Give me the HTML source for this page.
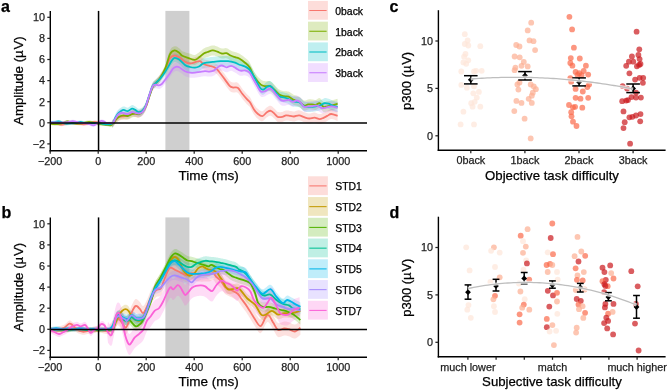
<!DOCTYPE html><html><head><meta charset="utf-8"><style>html,body{margin:0;padding:0;background:#fff;overflow:hidden;width:667px;height:390px;}svg{display:block;will-change:transform;}text{font-family:"Liberation Sans", sans-serif;stroke:currentColor;stroke-width:0.25px;}</style></head><body>
<svg width="667" height="390" viewBox="0 0 667 390">
<rect width="667" height="390" fill="#fff"/>
<rect x="165.40" y="10.90" width="24.00" height="139.90" fill="#cfcfcf"/>
<path d="M50.3,122.0 L50.9,122.0 L51.8,122.1 L52.8,122.1 L53.9,122.1 L55.0,122.2 L56.0,122.3 L56.8,122.4 L57.6,122.6 L58.5,122.8 L59.3,122.9 L60.2,123.1 L61.1,123.2 L62.0,123.2 L62.9,123.1 L63.8,123.0 L64.8,122.8 L65.8,122.5 L66.8,122.3 L67.7,122.1 L68.7,121.9 L69.6,121.8 L70.6,121.7 L71.5,121.7 L72.4,121.7 L73.2,121.8 L74.1,121.9 L75.0,121.9 L76.0,122.0 L76.9,122.1 L77.9,122.2 L78.9,122.3 L79.9,122.5 L80.9,122.6 L81.8,122.7 L82.7,122.8 L83.6,122.8 L84.6,122.8 L85.6,122.7 L86.4,122.6 L87.3,122.4 L88.1,122.2 L89.0,122.0 L89.9,121.7 L90.8,121.4 L91.7,121.0 L92.6,120.7 L93.5,120.4 L94.4,120.3 L95.3,120.3 L96.2,120.5 L97.2,120.7 L98.1,121.0 L99.0,121.3 L99.8,121.5 L100.7,121.8 L101.6,122.0 L102.5,122.3 L103.3,122.5 L104.2,122.7 L105.1,122.8 L106.1,122.7 L107.1,122.7 L108.1,122.6 L109.0,122.5 L109.9,122.4 L110.7,122.4 L111.5,122.3 L112.3,120.1 L113.0,119.7 L113.8,119.0 L114.5,118.0 L115.2,116.9 L116.0,116.0 L116.8,115.2 L117.7,114.6 L118.6,114.0 L119.5,113.5 L120.3,113.2 L121.1,113.1 L122.0,113.0 L122.9,112.9 L123.7,112.8 L124.7,112.7 L125.6,112.7 L126.6,112.5 L127.6,112.3 L128.5,111.9 L129.4,111.4 L130.3,110.8 L131.2,110.3 L132.0,110.0 L132.9,109.8 L133.7,109.8 L134.5,109.9 L135.3,110.0 L136.1,110.2 L136.9,110.5 L137.7,110.7 L138.5,110.7 L139.4,110.4 L140.4,110.0 L141.3,109.4 L142.3,108.5 L143.3,107.4 L144.3,106.0 L145.3,104.4 L146.2,102.5 L147.0,100.3 L147.8,97.7 L148.6,95.0 L149.4,92.5 L150.2,90.0 L151.1,87.5 L151.9,85.3 L152.6,83.5 L153.3,82.2 L153.8,81.6 L154.6,80.7 L155.3,79.9 L156.2,79.0 L157.1,78.0 L158.1,76.8 L159.2,75.5 L160.0,74.4 L160.9,73.1 L161.8,71.8 L162.8,70.4 L163.7,68.9 L164.6,67.4 L165.4,65.8 L166.4,63.5 L167.4,60.9 L168.2,58.2 L169.1,55.9 L170.0,54.1 L170.9,52.9 L171.8,52.1 L172.8,51.7 L173.7,51.4 L174.6,51.3 L175.5,51.3 L176.4,51.4 L177.3,51.8 L178.2,52.3 L179.2,52.8 L180.1,53.4 L181.1,54.2 L182.1,55.0 L183.1,55.8 L184.1,56.6 L185.0,57.1 L185.9,57.6 L186.7,57.9 L187.5,58.2 L188.3,58.4 L189.1,58.5 L190.0,58.5 L190.8,58.4 L191.7,58.2 L192.6,58.0 L193.5,57.7 L194.4,57.4 L195.2,57.1 L196.0,56.9 L196.9,56.6 L197.8,56.4 L198.5,56.2 L199.2,56.1 L200.0,56.2 L200.9,56.7 L201.8,57.6 L202.7,58.5 L203.8,59.2 L204.7,59.5 L205.6,59.8 L206.7,60.1 L207.7,60.3 L208.7,60.6 L209.6,60.8 L210.6,61.1 L211.6,61.4 L212.5,61.6 L213.4,62.0 L214.2,62.3 L215.1,62.8 L215.8,63.3 L216.6,63.9 L217.3,64.6 L218.0,65.4 L218.8,66.3 L219.5,67.3 L220.4,68.5 L221.2,69.6 L222.1,70.8 L223.1,72.0 L224.1,73.3 L225.0,74.6 L225.9,75.9 L226.9,77.3 L227.8,78.6 L228.8,79.8 L229.6,80.8 L230.5,81.6 L231.3,82.0 L232.1,82.3 L233.0,82.5 L233.9,82.5 L234.8,82.4 L235.8,82.3 L236.7,82.3 L237.7,82.7 L238.6,83.6 L239.5,84.7 L240.5,86.1 L241.4,87.5 L242.3,88.8 L243.2,90.0 L244.2,91.1 L245.2,92.2 L246.1,93.3 L246.9,94.2 L247.8,95.0 L248.5,95.7 L249.2,96.3 L250.0,97.3 L250.9,98.8 L251.8,100.7 L252.8,102.5 L253.8,104.2 L254.8,105.6 L255.7,106.8 L256.7,107.9 L257.7,108.8 L258.6,109.5 L259.5,110.2 L260.4,110.8 L261.4,111.2 L262.3,111.2 L263.2,110.8 L264.2,110.0 L265.1,109.0 L266.0,108.0 L266.9,107.3 L267.9,106.7 L268.9,106.1 L269.8,105.8 L270.8,105.8 L271.8,106.2 L272.8,107.0 L273.7,107.9 L274.6,108.8 L275.4,109.6 L276.1,110.5 L276.8,111.3 L277.7,111.9 L278.5,112.1 L279.5,112.2 L280.5,112.2 L281.4,112.0 L282.3,111.9 L283.3,111.6 L284.2,111.1 L285.1,110.7 L286.0,110.4 L286.8,110.4 L287.6,110.5 L288.5,110.6 L289.3,110.8 L290.1,110.9 L291.1,111.1 L292.0,111.3 L292.9,111.5 L294.0,111.5 L294.8,111.4 L295.6,111.1 L296.5,110.8 L297.4,110.5 L298.2,110.3 L299.1,110.3 L299.9,110.4 L300.8,110.7 L301.6,111.1 L302.5,111.5 L303.3,111.9 L304.2,112.2 L305.1,112.5 L305.9,112.8 L306.8,113.0 L307.7,113.3 L308.5,113.4 L309.4,113.5 L310.3,113.4 L311.1,113.3 L312.0,113.0 L312.8,112.8 L313.7,112.6 L314.5,112.6 L315.4,112.7 L316.2,113.0 L317.1,113.4 L318.0,113.7 L318.8,114.0 L319.6,114.1 L320.7,114.0 L321.6,113.7 L322.6,113.2 L323.5,112.8 L324.5,112.4 L325.4,111.9 L326.3,111.4 L327.3,110.9 L328.2,110.3 L329.1,109.7 L330.0,109.2 L331.2,109.0 L332.0,109.1 L333.0,109.3 L334.1,109.6 L335.2,110.0 L336.2,110.4 L337.0,110.7 L337.6,110.9 L337.6,120.9 L337.0,120.7 L336.2,120.4 L335.2,120.0 L334.1,119.6 L333.0,119.3 L332.0,119.1 L331.2,119.0 L330.0,119.2 L329.1,119.7 L328.2,120.3 L327.3,120.9 L326.3,121.4 L325.4,121.9 L324.5,122.4 L323.5,122.8 L322.6,123.2 L321.6,123.7 L320.7,124.0 L319.6,124.1 L318.8,124.0 L318.0,123.7 L317.1,123.4 L316.2,123.0 L315.4,122.7 L314.5,122.6 L313.7,122.6 L312.8,122.8 L312.0,123.0 L311.1,123.3 L310.3,123.4 L309.4,123.5 L308.5,123.4 L307.7,123.3 L306.8,123.0 L305.9,122.8 L305.1,122.5 L304.2,122.2 L303.3,121.9 L302.5,121.5 L301.6,121.1 L300.8,120.7 L299.9,120.4 L299.1,120.3 L298.2,120.3 L297.4,120.5 L296.5,120.8 L295.6,121.1 L294.8,121.4 L294.0,121.5 L292.9,121.5 L292.0,121.3 L291.1,121.1 L290.1,120.9 L289.3,120.8 L288.5,120.6 L287.6,120.5 L286.8,120.4 L286.0,120.4 L285.1,120.7 L284.2,121.1 L283.3,121.6 L282.3,121.9 L281.4,122.0 L280.5,122.2 L279.5,122.2 L278.5,122.1 L277.7,121.9 L276.8,121.3 L276.1,120.5 L275.4,119.6 L274.6,118.8 L273.7,117.9 L272.8,117.0 L271.8,116.2 L270.8,115.8 L269.8,115.8 L268.9,116.1 L267.9,116.7 L266.9,117.3 L266.0,118.0 L265.1,119.0 L264.2,120.0 L263.2,120.8 L262.3,121.2 L261.4,121.2 L260.4,120.8 L259.5,120.2 L258.6,119.5 L257.7,118.8 L256.7,117.9 L255.7,116.8 L254.8,115.6 L253.8,114.2 L252.8,112.5 L251.8,110.7 L250.9,108.8 L250.0,107.3 L249.2,106.3 L248.5,105.7 L247.8,105.0 L246.9,104.2 L246.1,103.3 L245.2,102.2 L244.2,101.1 L243.2,100.0 L242.3,98.8 L241.4,97.5 L240.5,96.1 L239.5,94.7 L238.6,93.6 L237.7,92.7 L236.7,92.3 L235.8,92.3 L234.8,92.4 L233.9,92.5 L233.0,92.5 L232.1,92.3 L231.3,92.0 L230.5,91.6 L229.6,90.8 L228.8,89.8 L227.8,88.6 L226.9,87.3 L225.9,85.9 L225.0,84.6 L224.1,83.3 L223.1,82.0 L222.1,80.8 L221.2,79.6 L220.4,78.5 L219.5,77.3 L218.8,76.3 L218.0,75.4 L217.3,74.6 L216.6,73.9 L215.8,73.3 L215.1,72.8 L214.2,72.3 L213.4,72.0 L212.5,71.6 L211.6,71.4 L210.6,71.1 L209.6,70.8 L208.7,70.6 L207.7,70.3 L206.7,70.1 L205.6,69.8 L204.7,69.5 L203.8,69.2 L202.7,68.5 L201.8,67.6 L200.9,66.7 L200.0,66.2 L199.2,66.1 L198.5,66.2 L197.8,66.4 L196.9,66.6 L196.0,66.9 L195.2,67.1 L194.4,67.4 L193.5,67.7 L192.6,68.0 L191.7,68.2 L190.8,68.4 L190.0,68.5 L189.1,68.4 L188.3,68.2 L187.5,68.0 L186.7,67.6 L185.9,67.2 L185.0,66.7 L184.1,66.0 L183.1,65.1 L182.1,64.2 L181.1,63.3 L180.1,62.4 L179.2,61.8 L178.2,61.1 L177.3,60.5 L176.4,60.1 L175.5,59.8 L174.6,59.7 L173.7,59.8 L172.8,59.9 L171.8,60.3 L170.9,61.0 L170.0,62.1 L169.1,63.8 L168.2,66.1 L167.4,68.6 L166.4,71.1 L165.4,73.4 L164.6,74.8 L163.7,76.2 L162.8,77.6 L161.8,79.0 L160.9,80.2 L160.0,81.4 L159.2,82.5 L158.1,83.8 L157.1,85.0 L156.2,86.0 L155.3,86.9 L154.6,87.7 L153.8,88.6 L153.3,89.2 L152.6,90.5 L151.9,92.3 L151.1,94.5 L150.2,97.0 L149.4,99.5 L148.6,102.0 L147.8,104.7 L147.0,107.3 L146.2,109.5 L145.3,111.4 L144.3,113.0 L143.3,114.4 L142.3,115.5 L141.3,116.4 L140.4,117.0 L139.4,117.4 L138.5,117.7 L137.7,117.7 L136.9,117.5 L136.1,117.2 L135.3,117.0 L134.5,116.9 L133.7,116.8 L132.9,116.8 L132.0,117.0 L131.2,117.3 L130.3,117.8 L129.4,118.4 L128.5,118.9 L127.6,119.3 L126.6,119.5 L125.6,119.7 L124.7,119.7 L123.7,119.8 L122.9,119.9 L122.0,120.0 L121.1,120.1 L120.3,120.2 L119.5,120.5 L118.6,121.0 L117.7,121.6 L116.8,122.2 L116.0,123.0 L115.2,123.9 L114.5,125.0 L113.8,126.0 L113.0,126.7 L112.3,127.1 L111.5,125.3 L110.7,125.4 L109.9,125.4 L109.0,125.5 L108.1,125.6 L107.1,125.7 L106.1,125.7 L105.1,125.8 L104.2,125.7 L103.3,125.5 L102.5,125.3 L101.6,125.0 L100.7,124.8 L99.8,124.5 L99.0,124.3 L98.1,124.0 L97.2,123.7 L96.2,123.5 L95.3,123.3 L94.4,123.3 L93.5,123.4 L92.6,123.7 L91.7,124.0 L90.8,124.4 L89.9,124.7 L89.0,125.0 L88.1,125.2 L87.3,125.4 L86.4,125.6 L85.6,125.7 L84.6,125.8 L83.6,125.8 L82.7,125.8 L81.8,125.7 L80.9,125.6 L79.9,125.5 L78.9,125.3 L77.9,125.2 L76.9,125.1 L76.0,125.0 L75.0,124.9 L74.1,124.9 L73.2,124.8 L72.4,124.7 L71.5,124.7 L70.6,124.7 L69.6,124.8 L68.7,124.9 L67.7,125.1 L66.8,125.3 L65.8,125.5 L64.8,125.8 L63.8,126.0 L62.9,126.1 L62.0,126.2 L61.1,126.2 L60.2,126.1 L59.3,125.9 L58.5,125.8 L57.6,125.6 L56.8,125.4 L56.0,125.3 L55.0,125.2 L53.9,125.1 L52.8,125.1 L51.8,125.1 L50.9,125.0 L50.3,125.0 Z" fill="#F8766D" fill-opacity="0.22" stroke="none"/>
<path d="M50.3,122.0 L50.8,122.1 L51.6,122.3 L52.5,122.5 L53.4,122.6 L54.5,122.7 L55.3,122.7 L56.2,122.6 L57.1,122.6 L58.1,122.5 L59.1,122.3 L60.1,122.2 L61.0,122.0 L61.9,121.8 L62.9,121.4 L63.8,121.1 L64.8,120.7 L65.7,120.4 L66.6,120.1 L67.4,120.0 L68.4,120.1 L69.4,120.4 L70.3,120.8 L71.1,121.2 L72.0,121.5 L72.8,121.7 L73.6,121.8 L74.4,122.0 L75.2,122.1 L76.1,122.1 L77.0,122.1 L77.9,122.1 L78.9,122.1 L79.9,122.0 L80.9,121.9 L82.0,121.8 L82.8,121.7 L83.7,121.4 L84.6,121.2 L85.6,121.0 L86.5,120.7 L87.4,120.5 L88.2,120.4 L89.0,120.3 L89.9,120.3 L90.8,120.5 L91.6,120.7 L92.3,121.0 L93.1,121.3 L94.0,121.5 L94.9,121.7 L95.9,121.9 L96.9,122.2 L97.9,122.4 L98.9,122.6 L99.8,122.7 L100.7,122.8 L101.6,122.8 L102.4,122.9 L103.3,122.9 L104.1,122.9 L105.0,123.0 L105.9,123.1 L106.9,123.3 L107.9,123.5 L108.9,123.7 L109.8,123.8 L110.5,123.8 L111.5,123.5 L112.2,120.9 L113.0,120.0 L113.7,119.1 L114.4,118.1 L115.2,117.0 L116.0,116.0 L116.8,115.1 L117.7,114.3 L118.6,113.6 L119.5,113.0 L120.3,112.6 L121.1,112.3 L122.0,112.1 L122.9,112.0 L123.7,111.9 L124.7,112.0 L125.6,112.2 L126.6,112.5 L127.6,112.5 L128.5,112.3 L129.4,111.9 L130.3,111.4 L131.2,110.9 L132.0,110.6 L132.9,110.3 L133.7,110.1 L134.5,110.0 L135.3,110.0 L136.1,110.1 L136.9,110.3 L137.7,110.5 L138.5,110.5 L139.4,110.2 L140.4,109.8 L141.3,109.2 L142.3,108.3 L143.3,107.1 L144.3,105.6 L145.3,103.9 L146.2,102.0 L147.0,99.8 L147.8,97.4 L148.6,94.9 L149.4,92.5 L150.2,90.1 L151.1,87.6 L151.9,85.3 L152.6,83.5 L153.3,82.2 L153.8,81.5 L154.6,80.7 L155.3,80.0 L156.2,79.3 L157.1,78.5 L158.1,77.5 L159.2,76.1 L160.0,74.8 L160.9,73.3 L161.8,71.7 L162.8,69.9 L163.7,68.1 L164.6,66.2 L165.4,64.3 L166.4,61.5 L167.4,58.4 L168.2,55.2 L169.1,52.4 L170.0,50.2 L170.9,48.7 L171.8,47.6 L172.8,46.9 L173.7,46.4 L174.6,46.2 L175.5,46.2 L176.5,46.5 L177.5,47.1 L178.4,47.7 L179.2,48.2 L180.0,48.9 L180.7,49.7 L181.3,50.5 L182.3,51.2 L183.0,51.5 L183.8,51.8 L184.7,52.1 L185.7,52.4 L186.6,52.7 L187.6,52.9 L188.5,53.2 L189.4,53.5 L190.3,53.8 L191.2,54.1 L192.1,54.5 L193.0,54.7 L193.8,54.9 L194.6,54.9 L195.6,54.7 L196.5,54.2 L197.4,53.6 L198.3,53.0 L199.2,52.3 L200.1,51.6 L201.1,50.8 L202.0,49.9 L202.9,49.1 L203.8,48.5 L204.8,48.0 L205.6,47.6 L206.5,47.3 L207.5,47.0 L208.3,46.7 L209.1,46.4 L210.0,46.0 L211.0,45.7 L211.9,45.5 L212.7,45.4 L213.7,45.4 L214.6,45.6 L215.5,45.9 L216.4,46.3 L217.3,46.6 L218.2,47.0 L219.1,47.4 L220.1,47.9 L221.0,48.2 L221.9,48.5 L222.8,48.5 L223.7,48.4 L224.7,48.2 L225.6,48.1 L226.5,48.2 L227.4,48.6 L228.4,49.1 L229.3,49.7 L230.3,50.3 L231.2,50.8 L232.1,51.2 L233.1,51.5 L234.0,51.8 L234.9,52.0 L235.8,52.3 L236.8,52.6 L237.7,52.9 L238.6,53.3 L239.6,53.8 L240.4,54.3 L241.3,54.9 L242.2,55.6 L243.2,56.3 L244.1,57.0 L245.0,57.7 L246.0,58.5 L246.9,59.2 L247.8,60.1 L248.7,61.0 L249.6,62.3 L250.5,63.9 L251.4,65.9 L252.4,68.0 L253.3,70.1 L254.4,72.0 L255.2,73.2 L256.2,74.5 L257.1,75.7 L258.1,76.9 L259.1,77.9 L260.0,78.8 L260.8,79.6 L261.8,80.3 L262.8,80.7 L263.6,81.0 L264.5,81.1 L265.4,81.2 L266.3,81.2 L267.2,81.1 L268.2,81.0 L269.1,81.0 L270.0,81.2 L270.9,81.7 L271.8,82.4 L272.8,83.2 L273.7,84.1 L274.6,85.0 L275.5,85.9 L276.4,86.9 L277.4,87.9 L278.3,88.9 L279.2,89.6 L280.1,90.1 L281.0,90.5 L282.0,90.8 L282.9,91.0 L283.8,91.2 L284.7,91.3 L285.6,91.3 L286.6,91.3 L287.5,91.4 L288.5,91.6 L289.4,92.0 L290.3,92.5 L291.2,93.2 L292.2,93.8 L293.1,94.4 L294.0,94.9 L294.9,95.3 L295.7,95.6 L296.6,95.8 L297.4,96.1 L298.3,96.4 L299.1,96.8 L300.0,97.4 L300.8,98.1 L301.7,98.9 L302.6,99.6 L303.4,100.2 L304.2,100.6 L305.3,100.6 L306.2,100.2 L307.2,99.7 L308.1,99.4 L309.1,99.3 L310.0,99.3 L310.9,99.3 L311.9,99.4 L312.9,99.6 L313.9,99.8 L314.8,100.0 L315.8,100.0 L316.8,99.6 L317.7,98.8 L318.6,98.2 L319.6,98.1 L320.6,98.8 L321.6,99.9 L322.5,101.1 L323.5,101.9 L324.5,102.1 L325.4,101.9 L326.3,101.6 L327.3,101.3 L328.2,101.2 L329.1,101.0 L330.0,100.9 L331.2,100.6 L332.0,100.4 L333.0,100.1 L334.1,99.8 L335.2,99.4 L336.2,99.1 L337.0,98.9 L337.6,98.7 L337.6,108.7 L337.0,108.9 L336.2,109.1 L335.2,109.4 L334.1,109.8 L333.0,110.1 L332.0,110.4 L331.2,110.6 L330.0,110.9 L329.1,111.0 L328.2,111.2 L327.3,111.3 L326.3,111.6 L325.4,111.9 L324.5,112.1 L323.5,111.9 L322.5,111.1 L321.6,109.9 L320.6,108.8 L319.6,108.1 L318.6,108.2 L317.7,108.8 L316.8,109.6 L315.8,110.0 L314.8,110.0 L313.9,109.8 L312.9,109.6 L311.9,109.4 L310.9,109.3 L310.0,109.3 L309.1,109.3 L308.1,109.4 L307.2,109.7 L306.2,110.2 L305.3,110.6 L304.2,110.6 L303.4,110.2 L302.6,109.6 L301.7,108.9 L300.8,108.1 L300.0,107.4 L299.1,106.8 L298.3,106.4 L297.4,106.1 L296.6,105.8 L295.7,105.6 L294.9,105.3 L294.0,104.9 L293.1,104.4 L292.2,103.8 L291.2,103.2 L290.3,102.5 L289.4,102.0 L288.5,101.6 L287.5,101.4 L286.6,101.3 L285.6,101.3 L284.7,101.3 L283.8,101.2 L282.9,101.0 L282.0,100.8 L281.0,100.5 L280.1,100.1 L279.2,99.6 L278.3,98.9 L277.4,97.9 L276.4,96.9 L275.5,95.9 L274.6,95.0 L273.7,94.1 L272.8,93.2 L271.8,92.4 L270.9,91.7 L270.0,91.2 L269.1,91.0 L268.2,91.0 L267.2,91.1 L266.3,91.2 L265.4,91.2 L264.5,91.1 L263.6,91.0 L262.8,90.7 L261.8,90.3 L260.8,89.6 L260.0,88.8 L259.1,87.9 L258.1,86.9 L257.1,85.7 L256.2,84.5 L255.2,83.2 L254.4,82.0 L253.3,80.1 L252.4,78.0 L251.4,75.9 L250.5,73.9 L249.6,72.3 L248.7,71.0 L247.8,70.1 L246.9,69.2 L246.0,68.5 L245.0,67.7 L244.1,67.0 L243.2,66.3 L242.2,65.6 L241.3,64.9 L240.4,64.3 L239.6,63.8 L238.6,63.3 L237.7,62.9 L236.8,62.6 L235.8,62.3 L234.9,62.0 L234.0,61.8 L233.1,61.5 L232.1,61.2 L231.2,60.8 L230.3,60.3 L229.3,59.7 L228.4,59.1 L227.4,58.6 L226.5,58.2 L225.6,58.1 L224.7,58.2 L223.7,58.4 L222.8,58.5 L221.9,58.5 L221.0,58.2 L220.1,57.9 L219.1,57.4 L218.2,57.0 L217.3,56.6 L216.4,56.3 L215.5,55.9 L214.6,55.6 L213.7,55.4 L212.7,55.4 L211.9,55.5 L211.0,55.7 L210.0,56.0 L209.1,56.4 L208.3,56.7 L207.5,57.0 L206.5,57.3 L205.6,57.6 L204.8,58.0 L203.8,58.5 L202.9,59.1 L202.0,59.9 L201.1,60.8 L200.1,61.6 L199.2,62.3 L198.3,63.0 L197.4,63.6 L196.5,64.2 L195.6,64.7 L194.6,64.9 L193.8,64.9 L193.0,64.7 L192.1,64.5 L191.2,64.1 L190.3,63.8 L189.4,63.4 L188.5,63.0 L187.6,62.7 L186.6,62.3 L185.7,62.0 L184.7,61.6 L183.8,61.2 L183.0,60.8 L182.3,60.4 L181.3,59.6 L180.7,58.8 L180.0,57.9 L179.2,57.2 L178.4,56.5 L177.5,55.8 L176.5,55.2 L175.5,54.7 L174.6,54.6 L173.7,54.8 L172.8,55.1 L171.8,55.8 L170.9,56.7 L170.0,58.2 L169.1,60.3 L168.2,63.1 L167.4,66.1 L166.4,69.1 L165.4,71.9 L164.6,73.7 L163.7,75.4 L162.8,77.2 L161.8,78.9 L160.9,80.4 L160.0,81.8 L159.2,83.1 L158.1,84.5 L157.1,85.5 L156.2,86.3 L155.3,87.0 L154.6,87.7 L153.8,88.5 L153.3,89.2 L152.6,90.5 L151.9,92.3 L151.1,94.6 L150.2,97.1 L149.4,99.5 L148.6,101.9 L147.8,104.4 L147.0,106.8 L146.2,109.0 L145.3,110.9 L144.3,112.6 L143.3,114.1 L142.3,115.3 L141.3,116.2 L140.4,116.8 L139.4,117.2 L138.5,117.5 L137.7,117.5 L136.9,117.3 L136.1,117.1 L135.3,117.0 L134.5,117.0 L133.7,117.1 L132.9,117.3 L132.0,117.6 L131.2,117.9 L130.3,118.4 L129.4,118.9 L128.5,119.3 L127.6,119.5 L126.6,119.5 L125.6,119.2 L124.7,119.0 L123.7,118.9 L122.9,119.0 L122.0,119.1 L121.1,119.3 L120.3,119.6 L119.5,120.0 L118.6,120.6 L117.7,121.3 L116.8,122.1 L116.0,123.0 L115.2,124.0 L114.4,125.1 L113.7,126.1 L113.0,127.0 L112.2,127.9 L111.5,126.5 L110.5,126.8 L109.8,126.8 L108.9,126.7 L107.9,126.5 L106.9,126.3 L105.9,126.1 L105.0,126.0 L104.1,125.9 L103.3,125.9 L102.4,125.9 L101.6,125.8 L100.7,125.8 L99.8,125.7 L98.9,125.6 L97.9,125.4 L96.9,125.2 L95.9,124.9 L94.9,124.7 L94.0,124.5 L93.1,124.3 L92.3,124.0 L91.6,123.7 L90.8,123.5 L89.9,123.3 L89.0,123.3 L88.2,123.4 L87.4,123.5 L86.5,123.7 L85.6,124.0 L84.6,124.2 L83.7,124.4 L82.8,124.7 L82.0,124.8 L80.9,124.9 L79.9,125.0 L78.9,125.1 L77.9,125.1 L77.0,125.1 L76.1,125.1 L75.2,125.1 L74.4,125.0 L73.6,124.8 L72.8,124.7 L72.0,124.5 L71.1,124.2 L70.3,123.8 L69.4,123.4 L68.4,123.1 L67.4,123.0 L66.6,123.1 L65.7,123.4 L64.8,123.7 L63.8,124.1 L62.9,124.4 L61.9,124.8 L61.0,125.0 L60.1,125.2 L59.1,125.3 L58.1,125.5 L57.1,125.6 L56.2,125.6 L55.3,125.7 L54.5,125.7 L53.4,125.6 L52.5,125.5 L51.6,125.3 L50.8,125.1 L50.3,125.0 Z" fill="#7CAE00" fill-opacity="0.22" stroke="none"/>
<path d="M50.3,121.0 L50.9,121.0 L51.8,120.9 L52.9,120.8 L54.0,120.7 L54.9,120.5 L55.8,120.3 L56.7,120.1 L57.7,120.0 L58.8,120.0 L59.7,120.2 L60.6,120.5 L61.6,120.9 L62.6,121.3 L63.5,121.7 L64.5,122.0 L65.3,122.2 L66.4,122.3 L67.3,122.3 L68.2,122.2 L69.1,122.1 L70.0,122.0 L70.8,122.0 L71.6,121.9 L72.5,121.9 L73.3,121.8 L74.1,121.7 L75.0,121.6 L75.9,121.4 L76.8,121.2 L77.7,121.0 L78.6,120.7 L79.5,120.6 L80.4,120.5 L81.3,120.6 L82.2,120.7 L83.0,121.0 L83.9,121.2 L84.9,121.4 L85.8,121.6 L86.6,121.7 L87.5,121.7 L88.4,121.8 L89.3,121.8 L90.2,121.8 L91.1,121.8 L92.0,121.8 L93.0,121.8 L93.9,121.7 L95.0,121.7 L96.0,121.6 L97.0,121.6 L97.9,121.6 L98.8,121.6 L99.8,121.7 L100.6,121.9 L101.5,122.1 L102.3,122.4 L103.1,122.6 L104.0,122.7 L104.9,122.8 L105.9,122.9 L106.9,122.9 L107.8,122.9 L108.7,122.9 L109.5,122.8 L110.5,122.7 L111.4,122.5 L112.2,120.2 L113.0,119.5 L113.9,117.9 L114.7,115.9 L115.5,114.0 L116.3,112.5 L117.2,111.1 L118.0,110.0 L118.8,109.2 L119.6,108.6 L120.5,108.0 L121.2,107.5 L122.0,107.0 L122.8,106.6 L123.7,106.4 L124.6,106.6 L125.6,107.1 L126.6,107.6 L127.6,107.7 L128.5,107.4 L129.4,106.8 L130.3,106.0 L131.2,105.4 L132.0,105.1 L132.9,105.1 L133.7,105.4 L134.5,105.9 L135.3,106.4 L136.1,107.0 L136.9,107.7 L137.7,108.4 L138.5,108.7 L139.4,108.7 L140.4,108.5 L141.4,108.0 L142.3,107.4 L143.1,106.7 L143.9,105.8 L144.7,104.6 L145.5,102.9 L146.4,100.5 L147.5,97.5 L148.5,94.3 L149.4,91.5 L150.2,89.0 L151.0,86.5 L151.8,84.3 L152.6,82.5 L153.5,81.3 L154.3,80.5 L155.2,79.9 L156.2,79.1 L157.0,78.3 L157.8,77.5 L158.7,76.7 L159.6,75.8 L160.4,74.8 L161.2,73.7 L162.1,72.6 L162.9,71.5 L163.8,70.2 L164.6,69.0 L165.5,67.6 L166.4,66.0 L167.3,64.5 L168.1,63.0 L168.9,61.7 L169.9,59.7 L170.8,58.1 L171.7,56.6 L172.6,55.3 L173.5,54.2 L174.6,53.6 L175.4,53.5 L176.3,53.7 L177.2,54.0 L178.2,54.5 L179.2,55.1 L180.1,55.8 L181.1,56.7 L182.1,57.7 L183.1,58.7 L184.1,59.6 L185.0,60.2 L185.9,60.8 L186.7,61.1 L187.6,61.4 L188.4,61.6 L189.2,61.8 L190.0,62.0 L190.8,62.2 L191.7,62.4 L192.6,62.5 L193.4,62.6 L194.2,62.6 L195.0,62.6 L195.9,62.5 L196.7,62.4 L197.4,62.2 L198.2,61.9 L199.0,61.5 L199.8,61.0 L200.6,60.3 L201.4,59.6 L202.2,59.0 L203.0,58.5 L203.8,58.1 L204.6,58.0 L205.4,57.8 L206.5,57.7 L207.2,57.6 L208.0,57.5 L208.9,57.4 L209.8,57.2 L210.7,57.1 L211.7,57.0 L212.7,56.9 L213.6,56.8 L214.5,56.7 L215.5,56.6 L216.5,56.5 L217.4,56.4 L218.4,56.3 L219.4,56.3 L220.4,56.2 L221.4,56.2 L222.4,56.1 L223.4,56.1 L224.3,56.1 L225.3,56.1 L226.3,56.1 L227.2,56.1 L228.1,56.2 L229.1,56.3 L230.0,56.4 L230.8,56.6 L231.7,56.7 L232.5,56.9 L233.3,57.1 L234.2,57.4 L235.1,57.7 L236.0,58.1 L236.9,58.5 L237.8,58.9 L238.7,59.3 L239.6,59.7 L240.4,60.0 L241.4,60.3 L242.4,60.6 L243.2,60.8 L244.1,61.1 L245.0,61.5 L245.9,61.9 L246.8,62.4 L247.7,62.9 L248.7,63.6 L249.6,64.6 L250.5,65.8 L251.5,67.3 L252.4,68.9 L253.4,70.7 L254.4,72.5 L255.3,74.2 L256.3,76.0 L257.3,78.0 L258.3,79.8 L259.2,81.4 L260.0,82.7 L260.9,83.9 L261.7,84.5 L262.3,84.7 L263.1,84.7 L264.0,84.3 L265.0,83.5 L265.9,82.6 L266.9,81.9 L267.9,81.5 L268.9,81.1 L269.8,81.0 L270.8,81.2 L271.7,82.0 L272.7,83.1 L273.6,84.5 L274.6,85.8 L275.5,86.9 L276.4,88.1 L277.3,89.3 L278.3,90.4 L279.2,91.2 L280.1,91.7 L281.0,92.0 L282.0,92.1 L282.9,92.2 L283.8,92.4 L284.8,92.7 L285.7,93.0 L286.7,93.3 L287.6,93.6 L288.5,94.0 L289.4,94.5 L290.3,95.1 L291.1,95.6 L292.0,96.0 L292.8,96.2 L293.6,96.4 L294.4,96.5 L295.2,96.7 L296.0,96.8 L296.8,96.9 L297.6,97.0 L298.4,97.1 L299.2,97.3 L300.0,97.6 L300.8,98.2 L301.6,99.0 L302.4,99.9 L303.3,100.7 L304.2,101.3 L305.0,101.6 L305.8,101.8 L306.7,101.9 L307.5,101.9 L308.5,101.9 L309.4,101.9 L310.3,101.9 L311.2,101.8 L312.1,101.8 L313.1,101.7 L314.0,101.6 L314.9,101.4 L315.8,101.3 L316.7,101.1 L317.6,100.9 L318.5,100.7 L319.3,100.5 L320.1,100.3 L320.9,100.0 L321.9,99.5 L322.9,98.9 L323.8,98.4 L324.7,98.1 L325.7,98.0 L326.7,98.2 L327.6,98.4 L328.6,98.7 L329.5,99.1 L330.4,99.6 L331.4,100.1 L332.4,100.6 L333.2,100.9 L334.2,101.1 L335.2,101.4 L336.2,101.6 L337.0,101.8 L337.6,101.9 L337.6,111.9 L337.0,111.8 L336.2,111.6 L335.2,111.4 L334.2,111.1 L333.2,110.9 L332.4,110.6 L331.4,110.1 L330.4,109.6 L329.5,109.1 L328.6,108.7 L327.6,108.4 L326.7,108.2 L325.7,108.0 L324.7,108.1 L323.8,108.4 L322.9,108.9 L321.9,109.5 L320.9,110.0 L320.1,110.3 L319.3,110.5 L318.5,110.7 L317.6,110.9 L316.7,111.1 L315.8,111.3 L314.9,111.4 L314.0,111.6 L313.1,111.7 L312.1,111.8 L311.2,111.8 L310.3,111.9 L309.4,111.9 L308.5,111.9 L307.5,111.9 L306.7,111.9 L305.8,111.8 L305.0,111.6 L304.2,111.3 L303.3,110.7 L302.4,109.9 L301.6,109.0 L300.8,108.2 L300.0,107.6 L299.2,107.3 L298.4,107.1 L297.6,107.0 L296.8,106.9 L296.0,106.8 L295.2,106.7 L294.4,106.5 L293.6,106.4 L292.8,106.2 L292.0,106.0 L291.1,105.6 L290.3,105.1 L289.4,104.5 L288.5,104.0 L287.6,103.6 L286.7,103.3 L285.7,103.0 L284.8,102.7 L283.8,102.4 L282.9,102.2 L282.0,102.1 L281.0,102.0 L280.1,101.7 L279.2,101.2 L278.3,100.4 L277.3,99.3 L276.4,98.1 L275.5,96.9 L274.6,95.8 L273.6,94.5 L272.7,93.1 L271.7,92.0 L270.8,91.2 L269.8,91.0 L268.9,91.1 L267.9,91.5 L266.9,91.9 L265.9,92.6 L265.0,93.5 L264.0,94.3 L263.1,94.7 L262.3,94.7 L261.7,94.5 L260.9,93.9 L260.0,92.7 L259.2,91.4 L258.3,89.8 L257.3,88.0 L256.3,86.0 L255.3,84.2 L254.4,82.5 L253.4,80.7 L252.4,78.9 L251.5,77.3 L250.5,75.8 L249.6,74.6 L248.7,73.6 L247.7,72.9 L246.8,72.4 L245.9,71.9 L245.0,71.5 L244.1,71.1 L243.2,70.8 L242.4,70.6 L241.4,70.3 L240.4,70.0 L239.6,69.7 L238.7,69.3 L237.8,68.9 L236.9,68.5 L236.0,68.1 L235.1,67.7 L234.2,67.4 L233.3,67.1 L232.5,66.9 L231.7,66.7 L230.8,66.6 L230.0,66.4 L229.1,66.3 L228.1,66.2 L227.2,66.1 L226.3,66.1 L225.3,66.1 L224.3,66.1 L223.4,66.1 L222.4,66.1 L221.4,66.2 L220.4,66.2 L219.4,66.3 L218.4,66.3 L217.4,66.4 L216.5,66.5 L215.5,66.6 L214.5,66.7 L213.6,66.8 L212.7,66.9 L211.7,67.0 L210.7,67.1 L209.8,67.2 L208.9,67.4 L208.0,67.5 L207.2,67.6 L206.5,67.7 L205.4,67.8 L204.6,68.0 L203.8,68.1 L203.0,68.5 L202.2,69.0 L201.4,69.6 L200.6,70.3 L199.8,71.0 L199.0,71.5 L198.2,71.9 L197.4,72.2 L196.7,72.4 L195.9,72.5 L195.0,72.6 L194.2,72.6 L193.4,72.6 L192.6,72.5 L191.7,72.4 L190.8,72.2 L190.0,72.0 L189.2,71.7 L188.4,71.5 L187.6,71.2 L186.7,70.8 L185.9,70.3 L185.0,69.8 L184.1,69.0 L183.1,68.0 L182.1,66.9 L181.1,65.8 L180.1,64.8 L179.2,64.1 L178.2,63.3 L177.2,62.8 L176.3,62.3 L175.4,62.1 L174.6,62.0 L173.5,62.5 L172.6,63.5 L171.7,64.8 L170.8,66.1 L169.9,67.7 L168.9,69.5 L168.1,70.8 L167.3,72.2 L166.4,73.7 L165.5,75.1 L164.6,76.4 L163.8,77.6 L162.9,78.8 L162.1,79.8 L161.2,80.8 L160.4,81.8 L159.6,82.8 L158.7,83.7 L157.8,84.5 L157.0,85.3 L156.2,86.1 L155.2,86.9 L154.3,87.5 L153.5,88.3 L152.6,89.5 L151.8,91.3 L151.0,93.5 L150.2,96.0 L149.4,98.5 L148.5,101.3 L147.5,104.5 L146.4,107.5 L145.5,109.9 L144.7,111.6 L143.9,112.8 L143.1,113.7 L142.3,114.4 L141.4,115.0 L140.4,115.5 L139.4,115.7 L138.5,115.7 L137.7,115.4 L136.9,114.7 L136.1,114.0 L135.3,113.4 L134.5,112.9 L133.7,112.4 L132.9,112.1 L132.0,112.1 L131.2,112.4 L130.3,113.0 L129.4,113.8 L128.5,114.4 L127.6,114.7 L126.6,114.6 L125.6,114.1 L124.6,113.6 L123.7,113.4 L122.8,113.6 L122.0,114.0 L121.2,114.5 L120.5,115.0 L119.6,115.6 L118.8,116.2 L118.0,117.0 L117.2,118.1 L116.3,119.5 L115.5,121.0 L114.7,122.9 L113.9,124.9 L113.0,126.5 L112.2,127.2 L111.4,125.5 L110.5,125.7 L109.5,125.8 L108.7,125.9 L107.8,125.9 L106.9,125.9 L105.9,125.9 L104.9,125.8 L104.0,125.7 L103.1,125.6 L102.3,125.4 L101.5,125.1 L100.6,124.9 L99.8,124.7 L98.8,124.6 L97.9,124.6 L97.0,124.6 L96.0,124.6 L95.0,124.7 L93.9,124.7 L93.0,124.8 L92.0,124.8 L91.1,124.8 L90.2,124.8 L89.3,124.8 L88.4,124.8 L87.5,124.7 L86.6,124.7 L85.8,124.6 L84.9,124.4 L83.9,124.2 L83.0,124.0 L82.2,123.7 L81.3,123.6 L80.4,123.5 L79.5,123.6 L78.6,123.7 L77.7,124.0 L76.8,124.2 L75.9,124.4 L75.0,124.6 L74.1,124.7 L73.3,124.8 L72.5,124.9 L71.6,124.9 L70.8,125.0 L70.0,125.0 L69.1,125.1 L68.2,125.2 L67.3,125.3 L66.4,125.3 L65.3,125.2 L64.5,125.0 L63.5,124.7 L62.6,124.3 L61.6,123.9 L60.6,123.5 L59.7,123.2 L58.8,123.0 L57.7,123.0 L56.7,123.1 L55.8,123.3 L54.9,123.5 L54.0,123.7 L52.9,123.8 L51.8,123.9 L50.9,124.0 L50.3,124.0 Z" fill="#00BFC4" fill-opacity="0.22" stroke="none"/>
<path d="M50.3,120.8 L50.9,120.8 L51.8,120.9 L52.8,120.9 L53.9,120.9 L55.0,121.0 L56.0,121.0 L56.9,121.0 L57.7,121.1 L58.6,121.1 L59.5,121.1 L60.3,121.1 L61.2,121.1 L62.0,121.1 L62.9,121.1 L63.7,121.0 L64.5,121.0 L65.3,120.9 L66.1,120.8 L67.0,120.7 L67.9,120.5 L68.9,120.3 L69.9,120.1 L70.9,119.9 L71.9,119.8 L72.8,119.7 L73.7,119.8 L74.6,119.9 L75.4,120.1 L76.3,120.4 L77.2,120.6 L78.0,120.8 L78.8,121.0 L79.7,121.1 L80.5,121.3 L81.3,121.5 L82.2,121.6 L83.0,121.7 L83.8,121.8 L84.7,121.8 L85.5,121.8 L86.3,121.8 L87.1,121.9 L88.0,122.0 L88.9,122.3 L89.8,122.6 L90.8,123.0 L91.7,123.4 L92.6,123.7 L93.4,123.8 L94.4,123.6 L95.3,123.2 L96.1,122.6 L97.0,122.0 L98.0,121.4 L99.0,120.6 L100.0,119.9 L100.9,119.5 L101.8,119.4 L102.6,119.5 L103.3,119.7 L104.0,120.0 L104.8,120.5 L105.5,121.1 L106.3,121.6 L107.1,121.7 L108.1,121.7 L109.1,121.6 L110.0,121.6 L111.0,121.7 L111.9,121.9 L112.8,119.5 L113.7,118.3 L114.6,116.7 L115.5,115.1 L116.3,113.7 L117.2,112.3 L118.0,111.2 L118.8,110.3 L119.6,109.7 L120.5,109.3 L121.2,109.2 L122.0,109.3 L122.8,109.5 L123.7,109.7 L124.6,110.0 L125.6,110.3 L126.6,110.6 L127.6,110.6 L128.5,110.4 L129.4,109.9 L130.3,109.4 L131.2,109.0 L132.0,108.7 L132.9,108.7 L133.7,108.8 L134.5,109.1 L135.3,109.3 L136.1,109.5 L136.9,109.8 L137.7,110.0 L138.5,110.0 L139.4,109.9 L140.4,109.7 L141.4,109.3 L142.3,108.7 L143.1,107.8 L144.0,106.6 L144.7,105.2 L145.5,103.5 L146.5,100.8 L147.5,97.7 L148.4,94.6 L149.4,91.6 L150.3,88.6 L151.2,86.1 L151.9,84.3 L152.6,82.9 L153.3,81.9 L154.2,81.4 L155.2,81.2 L156.2,81.2 L157.1,81.4 L158.1,81.8 L159.0,81.9 L159.9,81.7 L160.9,81.2 L161.8,80.4 L162.7,79.4 L163.6,78.2 L164.6,76.8 L165.4,75.7 L166.2,74.6 L167.1,73.4 L168.0,72.1 L168.9,70.9 L169.8,69.5 L170.6,68.1 L171.5,66.6 L172.3,65.4 L173.1,64.3 L174.2,63.3 L175.1,62.8 L176.0,62.5 L176.7,62.4 L177.4,62.3 L178.2,62.5 L179.2,62.8 L180.0,63.3 L181.0,63.9 L182.0,64.6 L183.0,65.3 L184.0,65.9 L185.0,66.5 L185.9,66.8 L186.7,67.1 L187.6,67.3 L188.4,67.5 L189.2,67.6 L190.0,67.7 L190.8,67.8 L191.7,67.8 L192.5,67.8 L193.3,67.8 L194.2,67.8 L195.0,67.7 L195.8,67.6 L196.7,67.5 L197.5,67.3 L198.3,67.2 L199.2,67.0 L200.0,66.9 L200.8,66.8 L201.7,66.6 L202.5,66.5 L203.4,66.3 L204.2,66.3 L205.0,66.2 L205.9,66.2 L206.9,66.4 L207.8,66.5 L208.7,66.6 L209.6,66.6 L210.5,66.5 L211.4,66.4 L212.4,66.2 L213.3,65.8 L214.2,65.4 L215.1,64.7 L216.1,63.9 L217.1,63.0 L218.0,62.1 L218.8,61.5 L219.6,61.0 L220.4,60.6 L221.1,60.5 L221.9,60.5 L222.7,60.7 L223.6,61.2 L224.6,61.7 L225.5,62.1 L226.5,62.3 L227.4,62.2 L228.4,61.8 L229.3,61.3 L230.3,60.9 L231.2,60.8 L232.1,61.0 L233.0,61.4 L234.0,62.0 L234.9,62.6 L235.8,63.1 L236.7,63.6 L237.6,64.3 L238.6,64.9 L239.5,65.4 L240.4,65.7 L241.3,65.8 L242.2,65.7 L243.2,65.5 L244.1,65.3 L245.0,65.4 L245.9,65.6 L246.9,65.9 L247.8,66.3 L248.7,66.9 L249.6,67.7 L250.6,69.1 L251.6,70.8 L252.5,72.7 L253.5,74.5 L254.3,76.0 L255.2,77.6 L256.1,79.1 L256.9,80.6 L257.7,81.9 L258.5,83.4 L259.3,84.7 L260.0,85.7 L260.8,86.5 L261.7,86.9 L262.7,86.9 L263.6,86.8 L264.6,86.5 L265.6,86.0 L266.6,85.3 L267.6,84.7 L268.5,84.2 L269.3,83.9 L270.0,83.7 L270.7,83.8 L271.5,84.2 L272.3,84.9 L273.3,86.0 L274.2,87.2 L275.2,88.4 L276.2,89.6 L277.1,90.8 L278.1,92.0 L279.1,93.2 L280.0,94.2 L280.8,95.0 L281.7,95.6 L282.4,95.8 L283.1,95.8 L284.0,95.8 L284.9,95.7 L285.8,95.4 L286.9,95.1 L287.9,94.9 L288.8,94.9 L289.8,95.3 L290.8,95.9 L291.8,96.5 L292.7,96.8 L293.7,96.6 L294.6,96.1 L295.5,95.7 L296.5,95.5 L297.5,95.7 L298.4,96.1 L299.4,96.7 L300.4,97.4 L301.4,98.5 L302.3,99.8 L303.2,101.1 L304.2,101.9 L305.2,102.1 L306.2,101.9 L307.1,101.5 L308.1,101.3 L309.0,101.3 L309.9,101.3 L310.9,101.3 L311.9,101.3 L312.7,101.2 L313.5,101.0 L314.4,100.8 L315.3,100.6 L316.2,100.5 L317.1,100.6 L318.0,100.9 L318.9,101.3 L319.7,101.9 L320.6,102.4 L321.4,102.9 L322.2,103.2 L323.2,103.3 L324.1,103.1 L325.0,102.9 L326.0,102.6 L326.8,102.4 L327.6,102.1 L328.4,101.8 L329.3,101.6 L330.2,101.4 L331.2,101.3 L332.1,101.4 L333.1,101.5 L334.2,101.7 L335.2,102.0 L336.2,102.2 L337.0,102.5 L337.6,102.6 L337.6,112.6 L337.0,112.5 L336.2,112.2 L335.2,112.0 L334.2,111.7 L333.1,111.5 L332.1,111.4 L331.2,111.3 L330.2,111.4 L329.3,111.6 L328.4,111.8 L327.6,112.1 L326.8,112.4 L326.0,112.6 L325.0,112.9 L324.1,113.1 L323.2,113.3 L322.2,113.2 L321.4,112.9 L320.6,112.4 L319.7,111.9 L318.9,111.3 L318.0,110.9 L317.1,110.6 L316.2,110.5 L315.3,110.6 L314.4,110.8 L313.5,111.0 L312.7,111.2 L311.9,111.3 L310.9,111.3 L309.9,111.3 L309.0,111.3 L308.1,111.3 L307.1,111.5 L306.2,111.9 L305.2,112.1 L304.2,111.9 L303.2,111.1 L302.3,109.8 L301.4,108.5 L300.4,107.4 L299.4,106.7 L298.4,106.1 L297.5,105.7 L296.5,105.5 L295.5,105.7 L294.6,106.1 L293.7,106.6 L292.7,106.8 L291.8,106.5 L290.8,105.9 L289.8,105.3 L288.8,104.9 L287.9,104.9 L286.9,105.1 L285.8,105.4 L284.9,105.7 L284.0,105.8 L283.1,105.8 L282.4,105.8 L281.7,105.6 L280.8,105.0 L280.0,104.2 L279.1,103.2 L278.1,102.0 L277.1,100.8 L276.2,99.6 L275.2,98.4 L274.2,97.2 L273.3,96.0 L272.3,94.9 L271.5,94.2 L270.7,93.8 L270.0,93.7 L269.3,93.9 L268.5,94.2 L267.6,94.7 L266.6,95.3 L265.6,96.0 L264.6,96.5 L263.6,96.8 L262.7,96.9 L261.7,96.9 L260.8,96.5 L260.0,95.7 L259.3,94.7 L258.5,93.4 L257.7,91.9 L256.9,90.6 L256.1,89.1 L255.2,87.6 L254.3,86.0 L253.5,84.5 L252.5,82.7 L251.6,80.8 L250.6,79.1 L249.6,77.7 L248.7,76.9 L247.8,76.3 L246.9,75.9 L245.9,75.6 L245.0,75.4 L244.1,75.3 L243.2,75.5 L242.2,75.7 L241.3,75.8 L240.4,75.7 L239.5,75.4 L238.6,74.9 L237.6,74.3 L236.7,73.6 L235.8,73.1 L234.9,72.6 L234.0,72.0 L233.0,71.4 L232.1,71.0 L231.2,70.8 L230.3,70.9 L229.3,71.3 L228.4,71.8 L227.4,72.2 L226.5,72.3 L225.5,72.1 L224.6,71.7 L223.6,71.2 L222.7,70.7 L221.9,70.5 L221.1,70.5 L220.4,70.6 L219.6,71.0 L218.8,71.5 L218.0,72.1 L217.1,73.0 L216.1,73.9 L215.1,74.7 L214.2,75.4 L213.3,75.8 L212.4,76.2 L211.4,76.4 L210.5,76.5 L209.6,76.6 L208.7,76.6 L207.8,76.5 L206.9,76.4 L205.9,76.2 L205.0,76.2 L204.2,76.3 L203.4,76.3 L202.5,76.5 L201.7,76.6 L200.8,76.8 L200.0,76.9 L199.2,77.0 L198.3,77.2 L197.5,77.3 L196.7,77.5 L195.8,77.6 L195.0,77.7 L194.2,77.8 L193.3,77.8 L192.5,77.8 L191.7,77.8 L190.8,77.8 L190.0,77.7 L189.2,77.5 L188.4,77.3 L187.6,77.1 L186.7,76.8 L185.9,76.4 L185.0,76.0 L184.0,75.4 L183.0,74.6 L182.0,73.8 L181.0,73.0 L180.0,72.3 L179.2,71.8 L178.2,71.3 L177.4,71.1 L176.7,71.0 L176.0,71.1 L175.1,71.3 L174.2,71.7 L173.1,72.7 L172.3,73.6 L171.5,74.8 L170.6,76.1 L169.8,77.5 L168.9,78.7 L168.0,79.9 L167.1,81.1 L166.2,82.2 L165.4,83.3 L164.6,84.2 L163.6,85.6 L162.7,86.7 L161.8,87.6 L160.9,88.2 L159.9,88.7 L159.0,88.9 L158.1,88.8 L157.1,88.4 L156.2,88.2 L155.2,88.2 L154.2,88.4 L153.3,88.9 L152.6,89.9 L151.9,91.3 L151.2,93.1 L150.3,95.6 L149.4,98.6 L148.4,101.6 L147.5,104.7 L146.5,107.8 L145.5,110.5 L144.7,112.2 L144.0,113.6 L143.1,114.8 L142.3,115.7 L141.4,116.3 L140.4,116.7 L139.4,116.9 L138.5,117.0 L137.7,117.0 L136.9,116.8 L136.1,116.5 L135.3,116.3 L134.5,116.1 L133.7,115.8 L132.9,115.7 L132.0,115.7 L131.2,116.0 L130.3,116.4 L129.4,116.9 L128.5,117.4 L127.6,117.6 L126.6,117.6 L125.6,117.3 L124.6,117.0 L123.7,116.7 L122.8,116.5 L122.0,116.3 L121.2,116.2 L120.5,116.3 L119.6,116.7 L118.8,117.3 L118.0,118.2 L117.2,119.3 L116.3,120.7 L115.5,122.1 L114.6,123.7 L113.7,125.3 L112.8,126.5 L111.9,124.9 L111.0,124.7 L110.0,124.6 L109.1,124.6 L108.1,124.7 L107.1,124.7 L106.3,124.6 L105.5,124.1 L104.8,123.5 L104.0,123.0 L103.3,122.7 L102.6,122.5 L101.8,122.4 L100.9,122.5 L100.0,122.9 L99.0,123.6 L98.0,124.4 L97.0,125.0 L96.1,125.6 L95.3,126.2 L94.4,126.6 L93.4,126.8 L92.6,126.7 L91.7,126.4 L90.8,126.0 L89.8,125.6 L88.9,125.3 L88.0,125.0 L87.1,124.9 L86.3,124.8 L85.5,124.8 L84.7,124.8 L83.8,124.8 L83.0,124.7 L82.2,124.6 L81.3,124.5 L80.5,124.3 L79.7,124.1 L78.8,124.0 L78.0,123.8 L77.2,123.6 L76.3,123.4 L75.4,123.1 L74.6,122.9 L73.7,122.8 L72.8,122.7 L71.9,122.8 L70.9,122.9 L69.9,123.1 L68.9,123.3 L67.9,123.5 L67.0,123.7 L66.1,123.8 L65.3,123.9 L64.5,124.0 L63.7,124.0 L62.9,124.1 L62.0,124.1 L61.2,124.1 L60.3,124.1 L59.5,124.1 L58.6,124.1 L57.7,124.1 L56.9,124.0 L56.0,124.0 L55.0,124.0 L53.9,123.9 L52.8,123.9 L51.8,123.9 L50.9,123.8 L50.3,123.8 Z" fill="#C77CFF" fill-opacity="0.22" stroke="none"/>
<path d="M50.30,123.50 C51.25,123.55 54.05,123.60 56.00,123.80 C57.95,124.00 59.73,124.78 62.00,124.70 C64.27,124.62 67.27,123.50 69.60,123.30 C71.93,123.10 73.67,123.33 76.00,123.50 C78.33,123.67 81.43,124.30 83.60,124.30 C85.77,124.30 87.20,123.92 89.00,123.50 C90.80,123.08 92.60,121.88 94.40,121.80 C96.20,121.72 98.17,122.60 99.80,123.00 C101.43,123.40 102.67,124.03 104.20,124.20 C105.73,124.37 107.53,124.17 109.00,124.00 C110.47,123.83 111.83,123.95 113.00,123.20 C114.17,122.45 114.92,120.53 116.00,119.50 C117.08,118.47 118.22,117.53 119.50,117.00 C120.78,116.47 122.35,116.50 123.70,116.30 C125.05,116.10 126.22,116.27 127.60,115.80 C128.98,115.33 130.72,113.88 132.00,113.50 C133.28,113.12 134.22,113.38 135.30,113.50 C136.38,113.62 137.33,114.45 138.50,114.20 C139.67,113.95 141.02,113.37 142.30,112.00 C143.58,110.63 145.02,108.67 146.20,106.00 C147.38,103.33 148.33,99.17 149.40,96.00 C150.47,92.83 151.73,88.97 152.60,87.00 C153.47,85.03 153.50,85.53 154.60,84.20 C155.70,82.87 157.40,81.43 159.20,79.00 C161.00,76.57 163.60,73.08 165.40,69.60 C167.20,66.12 168.47,60.45 170.00,58.10 C171.53,55.75 173.07,55.63 174.60,55.50 C176.13,55.37 177.47,56.23 179.20,57.30 C180.93,58.37 183.20,60.87 185.00,61.90 C186.80,62.93 188.17,63.50 190.00,63.50 C191.83,63.50 194.33,62.28 196.00,61.90 C197.67,61.52 198.70,60.82 200.00,61.20 C201.30,61.58 202.20,63.43 203.80,64.20 C205.40,64.97 207.87,65.28 209.60,65.80 C211.33,66.32 212.92,66.67 214.20,67.30 C215.48,67.93 216.27,68.57 217.30,69.60 C218.33,70.63 219.12,71.83 220.40,73.50 C221.68,75.17 223.47,77.55 225.00,79.60 C226.53,81.65 228.27,84.48 229.60,85.80 C230.93,87.12 231.65,87.18 233.00,87.50 C234.35,87.82 236.15,86.65 237.70,87.70 C239.25,88.75 240.77,91.88 242.30,93.80 C243.83,95.72 245.62,97.78 246.90,99.20 C248.18,100.62 248.85,100.63 250.00,102.30 C251.15,103.97 252.52,107.28 253.80,109.20 C255.08,111.12 256.28,112.63 257.70,113.80 C259.12,114.97 260.77,116.45 262.30,116.20 C263.83,115.95 265.48,113.20 266.90,112.30 C268.32,111.40 269.52,110.55 270.80,110.80 C272.08,111.05 273.45,112.78 274.60,113.80 C275.75,114.82 276.42,116.38 277.70,116.90 C278.98,117.42 280.92,117.15 282.30,116.90 C283.68,116.65 284.70,115.57 286.00,115.40 C287.30,115.23 288.77,115.72 290.10,115.90 C291.43,116.08 292.50,116.60 294.00,116.50 C295.50,116.40 297.40,115.18 299.10,115.30 C300.80,115.42 302.48,116.67 304.20,117.20 C305.92,117.73 307.68,118.43 309.40,118.50 C311.12,118.57 312.80,117.50 314.50,117.60 C316.20,117.70 318.10,119.07 319.60,119.10 C321.10,119.13 322.22,118.33 323.50,117.80 C324.78,117.27 326.02,116.53 327.30,115.90 C328.58,115.27 329.48,114.00 331.20,114.00 C332.92,114.00 336.53,115.58 337.60,115.90" fill="none" stroke="#F8766D" stroke-width="1.8" stroke-linejoin="round"/>
<path d="M50.30,123.50 C51.00,123.62 52.72,124.20 54.50,124.20 C56.28,124.20 58.85,123.95 61.00,123.50 C63.15,123.05 65.57,121.58 67.40,121.50 C69.23,121.42 70.55,122.65 72.00,123.00 C73.45,123.35 74.43,123.55 76.10,123.60 C77.77,123.65 79.85,123.60 82.00,123.30 C84.15,123.00 87.00,121.85 89.00,121.80 C91.00,121.75 92.20,122.60 94.00,123.00 C95.80,123.40 97.97,123.95 99.80,124.20 C101.63,124.45 103.22,124.32 105.00,124.50 C106.78,124.68 109.17,125.47 110.50,125.30 C111.83,125.13 112.08,124.47 113.00,123.50 C113.92,122.53 114.92,120.67 116.00,119.50 C117.08,118.33 118.22,117.18 119.50,116.50 C120.78,115.82 122.35,115.48 123.70,115.40 C125.05,115.32 126.22,116.22 127.60,116.00 C128.98,115.78 130.72,114.52 132.00,114.10 C133.28,113.68 134.22,113.52 135.30,113.50 C136.38,113.48 137.33,114.28 138.50,114.00 C139.67,113.72 141.02,113.22 142.30,111.80 C143.58,110.38 145.02,108.13 146.20,105.50 C147.38,102.87 148.33,99.08 149.40,96.00 C150.47,92.92 151.73,88.97 152.60,87.00 C153.47,85.03 153.50,85.43 154.60,84.20 C155.70,82.97 157.40,82.28 159.20,79.60 C161.00,76.92 163.60,72.33 165.40,68.10 C167.20,63.87 168.47,57.15 170.00,54.20 C171.53,51.25 173.07,50.65 174.60,50.40 C176.13,50.15 177.92,51.80 179.20,52.70 C180.48,53.60 180.75,54.90 182.30,55.80 C183.85,56.70 186.45,57.42 188.50,58.10 C190.55,58.78 192.82,60.03 194.60,59.90 C196.38,59.77 197.67,58.37 199.20,57.30 C200.73,56.23 202.42,54.38 203.80,53.50 C205.18,52.62 206.02,52.52 207.50,52.00 C208.98,51.48 211.07,50.47 212.70,50.40 C214.33,50.33 215.77,51.08 217.30,51.60 C218.83,52.12 220.37,53.23 221.90,53.50 C223.43,53.77 224.95,52.82 226.50,53.20 C228.05,53.58 229.65,55.12 231.20,55.80 C232.75,56.48 234.40,56.80 235.80,57.30 C237.20,57.80 238.07,57.90 239.60,58.80 C241.13,59.70 243.33,61.28 245.00,62.70 C246.67,64.12 248.03,64.92 249.60,67.30 C251.17,69.68 252.53,74.12 254.40,77.00 C256.27,79.88 258.97,83.07 260.80,84.60 C262.63,86.13 263.87,85.93 265.40,86.20 C266.93,86.47 268.47,85.57 270.00,86.20 C271.53,86.83 273.07,88.60 274.60,90.00 C276.13,91.40 277.67,93.57 279.20,94.60 C280.73,95.63 282.25,95.87 283.80,96.20 C285.35,96.53 286.80,95.98 288.50,96.60 C290.20,97.22 292.23,99.03 294.00,99.90 C295.77,100.77 297.40,100.85 299.10,101.80 C300.80,102.75 302.70,105.17 304.20,105.60 C305.70,106.03 306.82,104.60 308.10,104.40 C309.38,104.20 310.62,104.30 311.90,104.40 C313.18,104.50 314.52,105.22 315.80,105.00 C317.08,104.78 318.32,102.78 319.60,103.10 C320.88,103.42 322.22,106.37 323.50,106.90 C324.78,107.43 326.02,106.52 327.30,106.30 C328.58,106.08 329.48,106.03 331.20,105.60 C332.92,105.17 336.53,104.02 337.60,103.70" fill="none" stroke="#7CAE00" stroke-width="1.8" stroke-linejoin="round"/>
<path d="M50.30,122.50 C50.92,122.45 52.58,122.37 54.00,122.20 C55.42,122.03 56.92,121.25 58.80,121.50 C60.68,121.75 63.43,123.37 65.30,123.70 C67.17,124.03 68.38,123.60 70.00,123.50 C71.62,123.40 73.27,123.35 75.00,123.10 C76.73,122.85 78.60,122.00 80.40,122.00 C82.20,122.00 83.87,122.88 85.80,123.10 C87.73,123.32 89.83,123.30 92.00,123.30 C94.17,123.30 96.80,122.95 98.80,123.10 C100.80,123.25 102.22,124.00 104.00,124.20 C105.78,124.40 108.00,124.50 109.50,124.30 C111.00,124.10 112.00,124.13 113.00,123.00 C114.00,121.87 114.67,119.08 115.50,117.50 C116.33,115.92 117.17,114.50 118.00,113.50 C118.83,112.50 119.55,112.10 120.50,111.50 C121.45,110.90 122.52,109.95 123.70,109.90 C124.88,109.85 126.22,111.42 127.60,111.20 C128.98,110.98 130.72,108.82 132.00,108.60 C133.28,108.38 134.22,109.30 135.30,109.90 C136.38,110.50 137.33,112.03 138.50,112.20 C139.67,112.37 141.13,111.87 142.30,110.90 C143.47,109.93 144.32,109.05 145.50,106.40 C146.68,103.75 148.22,98.40 149.40,95.00 C150.58,91.60 151.47,88.07 152.60,86.00 C153.73,83.93 154.90,83.88 156.20,82.60 C157.50,81.32 159.00,79.95 160.40,78.30 C161.80,76.65 163.18,74.82 164.60,72.70 C166.02,70.58 167.72,67.60 168.90,65.60 C170.08,63.60 170.75,62.00 171.70,60.70 C172.65,59.40 173.35,57.98 174.60,57.80 C175.85,57.62 177.47,58.40 179.20,59.60 C180.93,60.80 183.20,63.77 185.00,65.00 C186.80,66.23 188.33,66.57 190.00,67.00 C191.67,67.43 193.50,67.68 195.00,67.60 C196.50,67.52 197.67,67.18 199.00,66.50 C200.33,65.82 201.75,64.13 203.00,63.50 C204.25,62.87 204.88,62.97 206.50,62.70 C208.12,62.43 210.38,62.15 212.70,61.90 C215.02,61.65 217.83,61.32 220.40,61.20 C222.97,61.08 225.80,61.00 228.10,61.20 C230.40,61.40 232.15,61.77 234.20,62.40 C236.25,63.03 238.60,64.32 240.40,65.00 C242.20,65.68 243.47,65.73 245.00,66.50 C246.53,67.27 248.03,67.77 249.60,69.60 C251.17,71.43 252.67,74.48 254.40,77.50 C256.13,80.52 258.55,85.67 260.00,87.70 C261.45,89.73 261.95,89.83 263.10,89.70 C264.25,89.57 265.62,87.48 266.90,86.90 C268.18,86.32 269.52,85.55 270.80,86.20 C272.08,86.85 273.20,89.13 274.60,90.80 C276.00,92.47 277.67,95.10 279.20,96.20 C280.73,97.30 282.25,96.93 283.80,97.40 C285.35,97.87 287.13,98.40 288.50,99.00 C289.87,99.60 290.75,100.53 292.00,101.00 C293.25,101.47 294.67,101.53 296.00,101.80 C297.33,102.07 298.63,101.85 300.00,102.60 C301.37,103.35 302.63,105.58 304.20,106.30 C305.77,107.02 307.47,106.90 309.40,106.90 C311.33,106.90 313.88,106.62 315.80,106.30 C317.72,105.98 319.42,105.53 320.90,105.00 C322.38,104.47 323.42,103.32 324.70,103.10 C325.98,102.88 327.32,103.28 328.60,103.70 C329.88,104.12 330.90,105.07 332.40,105.60 C333.90,106.13 336.73,106.68 337.60,106.90" fill="none" stroke="#00BFC4" stroke-width="1.8" stroke-linejoin="round"/>
<path d="M50.30,122.30 C51.25,122.33 54.05,122.45 56.00,122.50 C57.95,122.55 60.17,122.65 62.00,122.60 C63.83,122.55 65.20,122.43 67.00,122.20 C68.80,121.97 70.97,121.18 72.80,121.20 C74.63,121.22 76.30,121.97 78.00,122.30 C79.70,122.63 81.33,123.00 83.00,123.20 C84.67,123.40 86.27,123.15 88.00,123.50 C89.73,123.85 91.90,125.30 93.40,125.30 C94.90,125.30 95.75,124.22 97.00,123.50 C98.25,122.78 99.73,121.33 100.90,121.00 C102.07,120.67 103.10,121.15 104.00,121.50 C104.90,121.85 105.30,122.83 106.30,123.10 C107.30,123.37 108.92,123.12 110.00,123.10 C111.08,123.08 111.88,123.75 112.80,123.00 C113.72,122.25 114.63,119.98 115.50,118.60 C116.37,117.22 117.17,115.67 118.00,114.70 C118.83,113.73 119.55,113.05 120.50,112.80 C121.45,112.55 122.52,112.98 123.70,113.20 C124.88,113.42 126.22,114.27 127.60,114.10 C128.98,113.93 130.72,112.42 132.00,112.20 C133.28,111.98 134.22,112.58 135.30,112.80 C136.38,113.02 137.33,113.60 138.50,113.50 C139.67,113.40 141.13,113.28 142.30,112.20 C143.47,111.12 144.48,109.35 145.50,107.00 C146.52,104.65 147.45,101.00 148.40,98.10 C149.35,95.20 150.38,91.72 151.20,89.60 C152.02,87.48 152.47,86.22 153.30,85.40 C154.13,84.58 155.25,84.70 156.20,84.70 C157.15,84.70 158.07,85.52 159.00,85.40 C159.93,85.28 160.87,84.82 161.80,84.00 C162.73,83.18 163.42,82.03 164.60,80.50 C165.78,78.97 167.48,76.80 168.90,74.80 C170.32,72.80 171.92,69.83 173.10,68.50 C174.28,67.17 174.98,67.00 176.00,66.80 C177.02,66.60 177.70,66.57 179.20,67.30 C180.70,68.03 183.20,70.30 185.00,71.20 C186.80,72.10 188.33,72.45 190.00,72.70 C191.67,72.95 193.33,72.83 195.00,72.70 C196.67,72.57 198.33,72.15 200.00,71.90 C201.67,71.65 203.40,71.25 205.00,71.20 C206.60,71.15 208.07,71.73 209.60,71.60 C211.13,71.47 212.67,71.25 214.20,70.40 C215.73,69.55 217.52,67.32 218.80,66.50 C220.08,65.68 220.62,65.37 221.90,65.50 C223.18,65.63 224.95,67.25 226.50,67.30 C228.05,67.35 229.65,65.67 231.20,65.80 C232.75,65.93 234.27,67.28 235.80,68.10 C237.33,68.92 238.87,70.32 240.40,70.70 C241.93,71.08 243.47,70.07 245.00,70.40 C246.53,70.73 248.18,71.18 249.60,72.70 C251.02,74.22 252.15,77.13 253.50,79.50 C254.85,81.87 256.48,84.90 257.70,86.90 C258.92,88.90 259.65,90.73 260.80,91.50 C261.95,92.27 263.32,91.88 264.60,91.50 C265.88,91.12 267.35,89.58 268.50,89.20 C269.65,88.82 270.22,88.30 271.50,89.20 C272.78,90.10 274.65,92.80 276.20,94.60 C277.75,96.40 279.50,98.97 280.80,100.00 C282.10,101.03 282.67,100.82 284.00,100.80 C285.33,100.78 287.35,99.73 288.80,99.90 C290.25,100.07 291.42,101.70 292.70,101.80 C293.98,101.90 295.22,100.40 296.50,100.50 C297.78,100.60 299.12,101.33 300.40,102.40 C301.68,103.47 302.92,106.25 304.20,106.90 C305.48,107.55 306.82,106.40 308.10,106.30 C309.38,106.20 310.40,106.42 311.90,106.30 C313.40,106.18 315.38,105.28 317.10,105.60 C318.82,105.92 320.72,107.87 322.20,108.20 C323.68,108.53 324.50,107.92 326.00,107.60 C327.50,107.28 329.27,106.30 331.20,106.30 C333.13,106.30 336.53,107.38 337.60,107.60" fill="none" stroke="#C77CFF" stroke-width="1.8" stroke-linejoin="round"/>
<line x1="50.30" y1="123.00" x2="367.00" y2="123.00" stroke="#000" stroke-width="1.6"/>
<line x1="98.55" y1="10.90" x2="98.55" y2="150.80" stroke="#000" stroke-width="1.5"/>
<line x1="50.30" y1="10.90" x2="50.30" y2="151.50" stroke="#000" stroke-width="1.4"/>
<line x1="49.60" y1="150.80" x2="367.00" y2="150.80" stroke="#000" stroke-width="1.4"/>
<line x1="47.30" y1="17.30" x2="50.30" y2="17.30" stroke="#222" stroke-width="1.25"/>
<text x="45.00" y="21.10" font-size="10.80" text-anchor="end" font-weight="normal" fill="#222222" style="color:#222222" >10</text>
<line x1="47.30" y1="38.40" x2="50.30" y2="38.40" stroke="#222" stroke-width="1.25"/>
<text x="45.00" y="42.20" font-size="10.80" text-anchor="end" font-weight="normal" fill="#222222" style="color:#222222" >8</text>
<line x1="47.30" y1="59.50" x2="50.30" y2="59.50" stroke="#222" stroke-width="1.25"/>
<text x="45.00" y="63.30" font-size="10.80" text-anchor="end" font-weight="normal" fill="#222222" style="color:#222222" >6</text>
<line x1="47.30" y1="80.60" x2="50.30" y2="80.60" stroke="#222" stroke-width="1.25"/>
<text x="45.00" y="84.40" font-size="10.80" text-anchor="end" font-weight="normal" fill="#222222" style="color:#222222" >4</text>
<line x1="47.30" y1="101.70" x2="50.30" y2="101.70" stroke="#222" stroke-width="1.25"/>
<text x="45.00" y="105.50" font-size="10.80" text-anchor="end" font-weight="normal" fill="#222222" style="color:#222222" >2</text>
<line x1="47.30" y1="122.80" x2="50.30" y2="122.80" stroke="#222" stroke-width="1.25"/>
<text x="45.00" y="126.60" font-size="10.80" text-anchor="end" font-weight="normal" fill="#222222" style="color:#222222" >0</text>
<line x1="47.30" y1="143.90" x2="50.30" y2="143.90" stroke="#222" stroke-width="1.25"/>
<text x="45.00" y="147.70" font-size="10.80" text-anchor="end" font-weight="normal" fill="#222222" style="color:#222222" >−2</text>
<line x1="50.20" y1="150.80" x2="50.20" y2="153.80" stroke="#222" stroke-width="1.25"/>
<text x="50.20" y="164.70" font-size="10.80" text-anchor="middle" font-weight="normal" fill="#222222" style="color:#222222" >−200</text>
<line x1="98.20" y1="150.80" x2="98.20" y2="153.80" stroke="#222" stroke-width="1.25"/>
<text x="98.20" y="164.70" font-size="10.80" text-anchor="middle" font-weight="normal" fill="#222222" style="color:#222222" >0</text>
<line x1="146.20" y1="150.80" x2="146.20" y2="153.80" stroke="#222" stroke-width="1.25"/>
<text x="146.20" y="164.70" font-size="10.80" text-anchor="middle" font-weight="normal" fill="#222222" style="color:#222222" >200</text>
<line x1="194.20" y1="150.80" x2="194.20" y2="153.80" stroke="#222" stroke-width="1.25"/>
<text x="194.20" y="164.70" font-size="10.80" text-anchor="middle" font-weight="normal" fill="#222222" style="color:#222222" >400</text>
<line x1="242.20" y1="150.80" x2="242.20" y2="153.80" stroke="#222" stroke-width="1.25"/>
<text x="242.20" y="164.70" font-size="10.80" text-anchor="middle" font-weight="normal" fill="#222222" style="color:#222222" >600</text>
<line x1="290.20" y1="150.80" x2="290.20" y2="153.80" stroke="#222" stroke-width="1.25"/>
<text x="290.20" y="164.70" font-size="10.80" text-anchor="middle" font-weight="normal" fill="#222222" style="color:#222222" >800</text>
<line x1="338.20" y1="150.80" x2="338.20" y2="153.80" stroke="#222" stroke-width="1.25"/>
<text x="338.20" y="164.70" font-size="10.80" text-anchor="middle" font-weight="normal" fill="#222222" style="color:#222222" >1000</text>
<text x="208.65" y="179.50" font-size="13.50" text-anchor="middle" font-weight="normal" fill="#000" style="color:#000" >Time (ms)</text>
<text x="0" y="0" font-size="13.25" text-anchor="middle" transform="translate(23.1,80.65) rotate(-90)">Amplitude (µ<tspan dx="0.7">V</tspan>)</text>
<rect x="308.00" y="0.90" width="19.90" height="18.80" fill="#F8766D" fill-opacity="0.25"/>
<line x1="309.30" y1="10.50" x2="326.60" y2="10.50" stroke="#F8766D" stroke-width="1.05"/>
<text x="335.30" y="14.80" font-size="10.40" text-anchor="start" font-weight="normal" fill="#000" style="color:#000" >0back</text>
<rect x="308.00" y="21.65" width="19.90" height="18.80" fill="#7CAE00" fill-opacity="0.25"/>
<line x1="309.30" y1="31.25" x2="326.60" y2="31.25" stroke="#7CAE00" stroke-width="1.05"/>
<text x="335.30" y="35.55" font-size="10.40" text-anchor="start" font-weight="normal" fill="#000" style="color:#000" >1back</text>
<rect x="308.00" y="42.40" width="19.90" height="18.80" fill="#00BFC4" fill-opacity="0.25"/>
<line x1="309.30" y1="52.00" x2="326.60" y2="52.00" stroke="#00BFC4" stroke-width="1.05"/>
<text x="335.30" y="56.30" font-size="10.40" text-anchor="start" font-weight="normal" fill="#000" style="color:#000" >2back</text>
<rect x="308.00" y="63.15" width="19.90" height="18.80" fill="#C77CFF" fill-opacity="0.25"/>
<line x1="309.30" y1="72.75" x2="326.60" y2="72.75" stroke="#C77CFF" stroke-width="1.05"/>
<text x="335.30" y="77.05" font-size="10.40" text-anchor="start" font-weight="normal" fill="#000" style="color:#000" >3back</text>
<rect x="165.40" y="217.40" width="24.00" height="139.90" fill="#cfcfcf"/>
<path d="M50.2,326.7 L50.7,326.8 L51.4,326.8 L52.3,326.9 L53.2,327.0 L54.2,327.0 L55.2,327.0 L56.2,326.9 L57.1,326.7 L58.1,326.5 L59.1,326.3 L60.2,326.1 L61.3,325.8 L62.3,325.4 L63.2,325.1 L64.1,324.7 L65.1,324.1 L66.1,323.3 L67.0,322.4 L67.8,321.6 L68.6,321.0 L69.3,320.6 L70.3,320.6 L71.1,321.0 L71.9,321.7 L72.8,322.4 L73.5,323.1 L74.3,323.9 L75.0,324.8 L75.9,325.7 L76.8,326.4 L77.7,326.9 L78.6,327.4 L79.7,327.8 L80.7,328.2 L81.7,328.5 L82.6,328.7 L83.6,328.8 L84.5,328.7 L85.4,328.5 L86.3,328.3 L87.2,328.1 L88.1,327.9 L89.0,327.7 L90.0,327.5 L91.0,327.2 L92.0,327.0 L92.8,326.8 L93.6,326.6 L94.5,326.4 L95.4,326.2 L96.3,326.1 L97.1,326.0 L98.0,326.0 L98.9,326.1 L99.7,326.3 L100.6,326.5 L101.4,326.8 L102.3,327.1 L103.1,327.3 L104.0,327.5 L104.9,327.7 L105.8,327.8 L106.7,328.0 L107.6,328.1 L108.4,328.2 L109.3,328.1 L110.0,323.8 L111.1,322.9 L112.1,321.5 L113.0,320.0 L113.8,318.4 L114.6,316.6 L115.4,314.6 L116.2,312.7 L116.9,311.5 L117.7,311.1 L118.4,311.4 L119.2,312.2 L119.9,312.9 L120.7,313.9 L121.5,315.0 L122.3,316.1 L123.1,317.3 L123.9,318.7 L124.7,319.9 L125.4,320.5 L126.2,320.3 L126.9,319.4 L127.7,317.6 L128.4,315.5 L129.2,312.9 L130.0,310.1 L130.8,307.6 L131.7,305.3 L132.8,303.2 L133.7,301.3 L134.6,299.9 L135.4,299.0 L136.1,298.9 L136.9,299.2 L137.6,299.7 L138.4,300.4 L139.2,301.3 L140.0,302.2 L140.8,303.3 L141.5,304.7 L142.3,305.8 L143.1,306.1 L144.0,305.4 L144.9,303.9 L145.9,302.0 L146.9,299.9 L147.8,298.0 L148.7,295.7 L149.6,293.4 L150.6,291.1 L151.5,289.2 L152.4,287.6 L153.4,286.2 L154.3,285.0 L155.3,283.9 L156.2,283.1 L157.1,282.6 L158.1,282.5 L159.0,282.4 L159.8,282.3 L160.6,281.7 L161.6,279.9 L162.5,277.5 L163.5,274.7 L164.3,272.7 L165.2,270.4 L166.1,268.0 L166.9,265.8 L167.7,264.1 L168.7,262.2 L169.5,261.1 L170.5,260.6 L171.2,260.7 L172.1,261.0 L172.9,261.6 L173.8,262.2 L174.7,262.7 L175.6,263.1 L176.4,263.5 L177.3,264.0 L178.1,264.4 L179.0,264.8 L179.8,265.2 L180.7,265.7 L181.5,266.1 L182.4,266.5 L183.2,266.9 L184.0,267.3 L184.9,267.7 L185.7,268.0 L186.6,268.3 L187.4,268.3 L188.3,268.1 L189.1,267.6 L190.0,267.0 L190.8,266.5 L191.7,266.2 L192.5,266.2 L193.4,266.3 L194.2,266.5 L195.1,266.7 L195.9,266.9 L196.7,267.1 L197.5,267.2 L198.3,267.4 L199.1,267.5 L200.0,267.6 L200.8,267.6 L201.6,267.7 L202.4,267.7 L203.3,267.6 L204.2,267.6 L205.0,267.6 L205.9,267.6 L206.7,267.6 L207.6,267.5 L208.5,267.5 L209.3,267.4 L210.0,267.3 L211.0,266.9 L211.9,266.4 L212.6,266.0 L213.4,266.0 L214.3,266.8 L215.0,268.2 L216.0,269.6 L216.8,270.4 L217.7,271.1 L218.7,271.9 L219.7,272.8 L220.6,273.7 L221.5,274.8 L222.3,276.1 L223.1,277.3 L223.9,278.5 L224.7,279.5 L225.5,280.2 L226.3,280.8 L227.1,281.2 L227.9,281.6 L228.8,282.0 L229.7,282.4 L230.6,282.9 L231.6,283.3 L232.6,283.7 L233.5,284.2 L234.4,284.7 L235.4,285.2 L236.3,285.7 L237.2,286.3 L238.0,287.0 L238.8,287.9 L239.5,288.9 L240.2,290.1 L241.2,291.5 L241.9,292.5 L242.7,293.6 L243.6,294.7 L244.5,296.0 L245.5,297.3 L246.4,298.6 L247.3,299.9 L248.2,301.3 L249.0,302.7 L249.9,304.1 L250.8,305.6 L251.7,307.0 L252.6,308.5 L253.5,309.9 L254.5,311.4 L255.5,313.2 L256.5,314.9 L257.5,316.6 L258.5,317.9 L259.5,318.9 L260.4,319.2 L261.4,318.6 L262.4,317.2 L263.3,315.2 L264.2,313.1 L265.1,311.2 L265.8,309.9 L266.7,308.8 L267.3,308.1 L268.0,307.9 L268.8,308.4 L269.6,309.4 L270.6,310.9 L271.5,312.6 L272.5,314.5 L273.5,316.1 L274.4,317.7 L275.3,319.3 L276.2,320.9 L277.1,322.2 L278.1,323.0 L278.9,323.2 L279.8,323.1 L280.7,322.8 L281.6,322.4 L282.5,322.0 L283.4,321.7 L284.2,321.5 L285.2,321.5 L286.1,321.5 L286.9,321.7 L287.8,321.9 L288.8,322.2 L289.6,322.5 L290.5,322.9 L291.4,323.4 L292.3,323.9 L293.2,324.2 L294.1,324.5 L295.0,324.5 L296.0,324.2 L297.1,323.5 L298.1,322.7 L299.0,321.9 L299.8,321.2 L300.4,320.7 L300.4,334.7 L299.8,335.2 L299.0,335.9 L298.1,336.7 L297.1,337.5 L296.0,338.2 L295.0,338.5 L294.1,338.5 L293.2,338.2 L292.3,337.9 L291.4,337.4 L290.5,336.9 L289.6,336.5 L288.8,336.2 L287.8,335.9 L286.9,335.7 L286.1,335.5 L285.2,335.5 L284.2,335.5 L283.4,335.7 L282.5,336.0 L281.6,336.4 L280.7,336.8 L279.8,337.1 L278.9,337.2 L278.1,337.0 L277.1,336.2 L276.2,334.9 L275.3,333.3 L274.4,331.7 L273.5,330.1 L272.5,328.5 L271.5,326.6 L270.6,324.9 L269.6,323.4 L268.8,322.4 L268.0,321.9 L267.3,322.1 L266.7,322.8 L265.8,323.9 L265.1,325.2 L264.2,327.1 L263.3,329.2 L262.4,331.2 L261.4,332.6 L260.4,333.2 L259.5,332.9 L258.5,331.9 L257.5,330.6 L256.5,328.9 L255.5,327.2 L254.5,325.4 L253.5,323.9 L252.6,322.5 L251.7,321.0 L250.8,319.6 L249.9,318.1 L249.0,316.7 L248.2,315.3 L247.3,313.9 L246.4,312.6 L245.5,311.3 L244.5,310.0 L243.6,308.7 L242.7,307.6 L241.9,306.5 L241.2,305.5 L240.2,304.1 L239.5,302.9 L238.8,301.9 L238.0,301.0 L237.2,300.3 L236.3,299.7 L235.4,299.2 L234.4,298.7 L233.5,298.2 L232.6,297.7 L231.6,297.3 L230.6,296.9 L229.7,296.4 L228.8,296.0 L227.9,295.6 L227.1,295.2 L226.3,294.8 L225.5,294.2 L224.7,293.5 L223.9,292.5 L223.1,291.3 L222.3,290.1 L221.5,288.8 L220.6,287.7 L219.7,286.8 L218.7,285.9 L217.7,285.1 L216.8,284.4 L216.0,283.6 L215.0,282.2 L214.3,280.8 L213.4,280.0 L212.6,280.0 L211.9,280.4 L211.0,280.9 L210.0,281.3 L209.3,281.4 L208.5,281.5 L207.6,281.5 L206.7,281.6 L205.9,281.6 L205.0,281.6 L204.2,281.6 L203.3,281.6 L202.4,281.7 L201.6,281.7 L200.8,281.6 L200.0,281.6 L199.1,281.5 L198.3,281.4 L197.5,281.2 L196.7,281.1 L195.9,280.9 L195.1,280.7 L194.2,280.5 L193.4,280.3 L192.5,280.2 L191.7,280.2 L190.8,280.5 L190.0,281.0 L189.1,281.6 L188.3,282.1 L187.4,282.3 L186.6,282.3 L185.7,282.0 L184.9,281.7 L184.0,281.3 L183.2,280.9 L182.4,280.5 L181.5,280.1 L180.7,279.7 L179.8,279.2 L179.0,278.8 L178.1,278.4 L177.3,278.0 L176.4,277.5 L175.6,277.1 L174.7,276.7 L173.8,276.2 L172.9,275.6 L172.1,275.0 L171.2,274.7 L170.5,274.6 L169.5,275.1 L168.7,276.2 L167.7,278.1 L166.9,279.8 L166.1,282.0 L165.2,284.4 L164.3,286.7 L163.5,288.7 L162.5,291.5 L161.6,293.9 L160.6,295.7 L159.8,296.3 L159.0,296.4 L158.1,296.5 L157.1,296.6 L156.2,297.1 L155.3,297.9 L154.3,299.0 L153.4,300.2 L152.4,301.6 L151.5,303.2 L150.6,305.1 L149.6,307.4 L148.7,309.7 L147.8,312.0 L146.9,313.9 L145.9,316.0 L144.9,317.9 L144.0,319.4 L143.1,320.1 L142.3,319.8 L141.5,318.7 L140.8,317.3 L140.0,316.2 L139.2,315.3 L138.4,314.4 L137.6,313.7 L136.9,313.2 L136.1,312.9 L135.4,313.0 L134.6,313.9 L133.7,315.3 L132.8,317.2 L131.7,319.3 L130.8,321.6 L130.0,324.1 L129.2,326.9 L128.4,329.5 L127.7,331.6 L126.9,333.4 L126.2,334.3 L125.4,334.5 L124.7,333.9 L123.9,332.7 L123.1,331.3 L122.3,330.1 L121.5,329.0 L120.7,327.9 L119.9,326.9 L119.2,326.2 L118.4,325.4 L117.7,325.1 L116.9,325.5 L116.2,326.7 L115.4,328.6 L114.6,330.6 L113.8,332.4 L113.0,334.0 L112.1,335.5 L111.1,336.9 L110.0,337.8 L109.3,334.1 L108.4,334.2 L107.6,334.1 L106.7,334.0 L105.8,333.8 L104.9,333.7 L104.0,333.5 L103.1,333.3 L102.3,333.1 L101.4,332.8 L100.6,332.5 L99.7,332.3 L98.9,332.1 L98.0,332.0 L97.1,332.0 L96.3,332.1 L95.4,332.2 L94.5,332.4 L93.6,332.6 L92.8,332.8 L92.0,333.0 L91.0,333.2 L90.0,333.5 L89.0,333.7 L88.1,333.9 L87.2,334.1 L86.3,334.3 L85.4,334.5 L84.5,334.7 L83.6,334.8 L82.6,334.7 L81.7,334.5 L80.7,334.2 L79.7,333.8 L78.6,333.4 L77.7,332.9 L76.8,332.4 L75.9,331.7 L75.0,330.8 L74.3,329.9 L73.5,329.1 L72.8,328.4 L71.9,327.7 L71.1,327.0 L70.3,326.6 L69.3,326.6 L68.6,327.0 L67.8,327.6 L67.0,328.4 L66.1,329.3 L65.1,330.1 L64.1,330.7 L63.2,331.1 L62.3,331.4 L61.3,331.8 L60.2,332.1 L59.1,332.3 L58.1,332.5 L57.1,332.7 L56.2,332.9 L55.2,333.0 L54.2,333.0 L53.2,333.0 L52.3,332.9 L51.4,332.8 L50.7,332.8 L50.2,332.7 Z" fill="#F8766D" fill-opacity="0.22" stroke="none"/>
<path d="M50.2,328.0 L50.7,328.0 L51.5,328.0 L52.4,328.1 L53.3,328.1 L54.3,328.2 L55.3,328.2 L56.2,328.2 L57.1,328.2 L57.9,328.3 L58.8,328.3 L59.6,328.3 L60.5,328.3 L61.3,328.3 L62.2,328.2 L63.1,328.2 L63.9,328.1 L64.8,327.9 L65.6,327.8 L66.5,327.7 L67.3,327.6 L68.2,327.5 L69.1,327.4 L69.9,327.4 L70.8,327.3 L71.6,327.3 L72.5,327.3 L73.3,327.3 L74.2,327.3 L75.1,327.4 L75.9,327.4 L76.8,327.5 L77.6,327.6 L78.5,327.7 L79.3,327.8 L80.2,327.8 L81.1,327.8 L81.9,327.8 L82.8,327.8 L83.6,327.7 L84.5,327.7 L85.3,327.7 L86.2,327.7 L87.1,327.8 L87.9,327.9 L88.8,328.0 L89.6,328.1 L90.5,328.3 L91.3,328.4 L92.2,328.4 L93.1,328.5 L93.9,328.5 L94.8,328.4 L95.6,328.4 L96.5,328.3 L97.3,328.3 L98.2,328.3 L99.1,328.2 L99.9,328.2 L100.8,328.2 L101.6,328.2 L102.5,328.2 L103.3,328.2 L104.2,328.1 L105.1,328.1 L106.0,328.1 L106.9,328.2 L107.9,328.2 L108.7,328.2 L109.5,328.1 L110.2,328.1 L111.4,328.0 L112.2,325.3 L113.0,324.5 L113.7,323.2 L114.5,321.4 L115.2,319.4 L116.0,317.5 L116.8,315.6 L117.6,313.6 L118.4,311.7 L119.2,310.1 L120.0,308.8 L120.8,307.8 L121.5,307.0 L122.3,306.3 L123.1,305.7 L123.8,305.2 L124.6,304.8 L125.4,304.7 L126.2,304.8 L127.0,305.1 L127.7,305.6 L128.5,306.3 L129.2,307.4 L130.0,308.9 L130.7,310.4 L131.5,311.7 L132.4,312.8 L133.4,313.9 L134.4,314.8 L135.4,315.5 L136.4,316.0 L137.3,316.2 L138.3,316.3 L139.2,316.3 L140.0,316.2 L140.7,316.1 L141.4,315.7 L142.3,314.7 L143.1,313.4 L144.0,311.6 L145.0,309.7 L146.0,307.6 L146.9,305.5 L147.8,303.5 L148.8,301.4 L149.7,299.2 L150.7,297.0 L151.5,294.7 L152.4,291.6 L153.2,288.4 L154.0,285.3 L155.0,282.5 L155.7,281.0 L156.5,279.6 L157.3,278.4 L158.2,277.2 L159.1,275.9 L160.0,274.5 L160.9,273.1 L161.8,271.6 L162.7,270.0 L163.7,268.3 L164.6,266.7 L165.5,265.2 L166.3,263.8 L167.3,262.0 L168.1,260.3 L168.9,258.7 L169.7,257.2 L170.5,256.0 L171.3,254.9 L172.2,254.0 L173.0,253.2 L173.9,252.7 L174.7,252.5 L175.6,252.6 L176.4,253.1 L177.3,253.8 L178.1,254.8 L179.0,256.0 L179.8,257.7 L180.7,259.8 L181.5,262.0 L182.4,264.2 L183.2,265.9 L184.1,267.2 L184.9,268.1 L185.8,268.9 L186.6,269.5 L187.4,270.1 L188.4,270.8 L189.3,271.2 L190.3,271.2 L191.1,271.0 L191.9,270.6 L192.8,270.0 L193.7,269.4 L194.5,268.7 L195.4,267.6 L196.3,266.3 L197.2,265.0 L198.1,263.9 L198.9,263.3 L199.8,262.7 L200.6,262.3 L201.4,262.0 L202.2,261.9 L203.0,262.0 L203.8,262.4 L204.5,262.9 L205.2,263.4 L206.0,263.8 L206.7,264.3 L207.5,264.7 L208.3,265.0 L209.1,265.2 L209.9,265.3 L210.6,265.4 L211.4,265.5 L212.2,265.7 L213.0,265.9 L213.7,266.2 L214.5,266.5 L215.3,266.9 L216.1,267.4 L216.8,268.0 L217.5,268.6 L218.2,269.6 L218.9,270.8 L219.6,272.1 L220.3,273.0 L221.1,274.0 L221.9,275.0 L222.7,276.2 L223.5,277.7 L224.2,279.4 L224.9,281.0 L225.7,282.4 L226.4,283.4 L227.1,284.2 L227.9,284.8 L228.8,285.1 L229.6,285.2 L230.6,285.0 L231.6,284.8 L232.5,284.5 L233.5,284.3 L234.5,284.1 L235.4,283.8 L236.4,283.6 L237.3,283.5 L238.1,283.6 L238.9,283.9 L239.6,284.4 L240.2,285.2 L241.2,286.3 L241.9,287.2 L242.7,288.2 L243.5,289.3 L244.4,290.5 L245.4,291.8 L246.3,292.9 L247.3,294.0 L248.2,294.8 L249.1,295.5 L250.1,296.2 L251.1,296.9 L252.2,297.6 L253.1,298.3 L254.1,299.2 L255.0,300.1 L256.0,301.4 L256.9,303.0 L257.8,304.6 L258.7,306.3 L259.6,307.9 L260.4,309.2 L261.2,310.1 L262.2,310.8 L263.1,311.0 L263.9,310.9 L264.8,310.5 L265.8,310.1 L266.6,309.7 L267.4,309.1 L268.3,308.3 L269.2,307.6 L270.1,306.9 L271.0,306.5 L271.9,306.3 L272.8,306.5 L273.7,307.0 L274.6,307.7 L275.4,308.4 L276.3,309.2 L277.2,309.8 L278.1,310.1 L279.0,310.2 L279.8,310.0 L280.6,309.7 L281.5,309.4 L282.3,309.1 L283.2,308.8 L284.2,308.6 L285.1,308.5 L286.0,308.5 L286.9,308.6 L287.9,308.7 L288.9,308.7 L289.9,308.7 L290.9,308.7 L291.9,308.6 L292.9,308.4 L293.9,308.2 L295.0,307.9 L296.1,307.6 L297.2,307.3 L298.2,307.0 L299.1,306.7 L299.8,306.5 L300.4,306.3 L300.4,315.3 L299.8,315.5 L299.1,315.7 L298.2,316.0 L297.2,316.3 L296.1,316.6 L295.0,316.9 L293.9,317.2 L292.9,317.4 L291.9,317.6 L290.9,317.7 L289.9,317.7 L288.9,317.7 L287.9,317.7 L286.9,317.6 L286.0,317.5 L285.1,317.5 L284.2,317.6 L283.2,317.8 L282.3,318.1 L281.5,318.4 L280.6,318.7 L279.8,319.0 L279.0,319.2 L278.1,319.1 L277.2,318.8 L276.3,318.2 L275.4,317.4 L274.6,316.7 L273.7,316.0 L272.8,315.5 L271.9,315.3 L271.0,315.5 L270.1,315.9 L269.2,316.6 L268.3,317.3 L267.4,318.1 L266.6,318.7 L265.8,319.1 L264.8,319.5 L263.9,319.9 L263.1,320.0 L262.2,319.8 L261.2,319.1 L260.4,318.2 L259.6,316.9 L258.7,315.3 L257.8,313.6 L256.9,312.0 L256.0,310.4 L255.0,309.1 L254.1,308.2 L253.1,307.3 L252.2,306.6 L251.1,305.9 L250.1,305.2 L249.1,304.5 L248.2,303.8 L247.3,303.0 L246.3,301.9 L245.4,300.8 L244.4,299.5 L243.5,298.3 L242.7,297.2 L241.9,296.2 L241.2,295.3 L240.2,294.2 L239.6,293.4 L238.9,292.9 L238.1,292.6 L237.3,292.5 L236.4,292.6 L235.4,292.8 L234.5,293.1 L233.5,293.3 L232.5,293.5 L231.6,293.8 L230.6,294.0 L229.6,294.2 L228.8,294.1 L227.9,293.8 L227.1,293.2 L226.4,292.4 L225.7,291.4 L224.9,290.0 L224.2,288.4 L223.5,286.7 L222.7,285.2 L221.9,284.0 L221.1,283.0 L220.3,282.0 L219.6,281.1 L218.9,279.8 L218.2,278.6 L217.5,277.6 L216.8,277.0 L216.1,276.4 L215.3,275.9 L214.5,275.5 L213.7,275.2 L213.0,274.9 L212.2,274.7 L211.4,274.5 L210.6,274.4 L209.9,274.3 L209.1,274.2 L208.3,274.0 L207.5,273.7 L206.7,273.3 L206.0,272.8 L205.2,272.4 L204.5,271.9 L203.8,271.4 L203.0,271.0 L202.2,270.9 L201.4,271.0 L200.6,271.3 L199.8,271.7 L198.9,272.3 L198.1,272.9 L197.2,274.0 L196.3,275.3 L195.4,276.6 L194.5,277.7 L193.7,278.4 L192.8,279.0 L191.9,279.6 L191.1,280.0 L190.3,280.2 L189.3,280.2 L188.4,279.8 L187.4,279.1 L186.6,278.5 L185.8,277.9 L184.9,277.1 L184.1,276.2 L183.2,274.9 L182.4,273.2 L181.5,271.0 L180.7,268.8 L179.8,266.7 L179.0,265.0 L178.1,263.8 L177.3,262.8 L176.4,262.1 L175.6,261.6 L174.7,261.5 L173.9,261.7 L173.0,262.2 L172.2,263.0 L171.3,263.9 L170.5,265.0 L169.7,266.2 L168.9,267.7 L168.1,269.3 L167.3,271.0 L166.3,272.8 L165.5,274.2 L164.6,275.7 L163.7,277.3 L162.7,279.0 L161.8,280.6 L160.9,282.1 L160.0,283.5 L159.1,284.9 L158.2,286.2 L157.3,287.4 L156.5,288.6 L155.7,290.0 L155.0,291.5 L154.0,294.3 L153.2,297.4 L152.4,300.6 L151.5,303.7 L150.7,306.0 L149.7,308.2 L148.8,310.4 L147.8,312.5 L146.9,314.5 L146.0,316.6 L145.0,318.7 L144.0,320.6 L143.1,322.4 L142.3,323.7 L141.4,324.7 L140.7,325.1 L140.0,325.2 L139.2,325.3 L138.3,325.3 L137.3,325.2 L136.4,325.0 L135.4,324.5 L134.4,323.8 L133.4,322.9 L132.4,321.8 L131.5,320.7 L130.7,319.4 L130.0,317.9 L129.2,316.4 L128.5,315.3 L127.7,314.6 L127.0,314.1 L126.2,313.8 L125.4,313.7 L124.6,313.8 L123.8,314.2 L123.1,314.7 L122.3,315.3 L121.5,316.0 L120.8,316.8 L120.0,317.8 L119.2,319.1 L118.4,320.7 L117.6,322.6 L116.8,324.6 L116.0,326.5 L115.2,328.4 L114.5,330.4 L113.7,332.2 L113.0,333.5 L112.2,334.3 L111.4,332.0 L110.2,332.1 L109.5,332.1 L108.7,332.2 L107.9,332.2 L106.9,332.2 L106.0,332.1 L105.1,332.1 L104.2,332.1 L103.3,332.2 L102.5,332.2 L101.6,332.2 L100.8,332.2 L99.9,332.2 L99.1,332.2 L98.2,332.3 L97.3,332.3 L96.5,332.3 L95.6,332.4 L94.8,332.4 L93.9,332.5 L93.1,332.5 L92.2,332.4 L91.3,332.4 L90.5,332.3 L89.6,332.1 L88.8,332.0 L87.9,331.9 L87.1,331.8 L86.2,331.7 L85.3,331.7 L84.5,331.7 L83.6,331.7 L82.8,331.8 L81.9,331.8 L81.1,331.8 L80.2,331.8 L79.3,331.8 L78.5,331.7 L77.6,331.6 L76.8,331.5 L75.9,331.4 L75.1,331.4 L74.2,331.3 L73.3,331.3 L72.5,331.3 L71.6,331.3 L70.8,331.3 L69.9,331.4 L69.1,331.4 L68.2,331.5 L67.3,331.6 L66.5,331.7 L65.6,331.8 L64.8,331.9 L63.9,332.1 L63.1,332.2 L62.2,332.2 L61.3,332.3 L60.5,332.3 L59.6,332.3 L58.8,332.3 L57.9,332.3 L57.1,332.2 L56.2,332.2 L55.3,332.2 L54.3,332.2 L53.3,332.1 L52.4,332.1 L51.5,332.0 L50.7,332.0 L50.2,332.0 Z" fill="#C49A00" fill-opacity="0.22" stroke="none"/>
<path d="M50.2,327.5 L50.7,327.5 L51.5,327.6 L52.4,327.7 L53.3,327.8 L54.3,327.9 L55.3,328.0 L56.2,328.1 L57.1,328.1 L57.9,328.1 L58.8,328.1 L59.6,328.1 L60.5,328.1 L61.3,328.1 L62.2,328.1 L63.1,328.1 L63.9,328.1 L64.8,328.2 L65.6,328.3 L66.5,328.3 L67.3,328.3 L68.2,328.3 L69.1,328.2 L69.9,328.1 L70.8,327.9 L71.6,327.7 L72.5,327.6 L73.3,327.5 L74.2,327.4 L75.1,327.3 L75.9,327.3 L76.8,327.3 L77.6,327.4 L78.5,327.4 L79.3,327.4 L80.2,327.4 L81.1,327.4 L81.9,327.4 L82.8,327.4 L83.6,327.3 L84.5,327.3 L85.3,327.3 L86.2,327.3 L87.1,327.3 L87.9,327.3 L88.8,327.3 L89.6,327.3 L90.5,327.3 L91.3,327.4 L92.2,327.4 L93.1,327.5 L93.9,327.6 L94.8,327.8 L95.6,327.9 L96.5,328.0 L97.3,328.1 L98.2,328.1 L99.1,328.1 L99.9,328.0 L100.8,327.8 L101.6,327.6 L102.5,327.5 L103.3,327.3 L104.2,327.3 L105.1,327.3 L106.0,327.4 L106.9,327.5 L107.9,327.6 L108.7,327.7 L109.5,327.8 L110.2,327.8 L111.4,328.1 L112.2,325.6 L113.0,324.5 L113.8,322.2 L114.6,319.0 L115.4,315.7 L116.2,313.2 L117.0,311.7 L117.7,310.8 L118.4,310.2 L119.2,310.1 L120.0,310.4 L120.7,311.3 L121.5,312.3 L122.3,313.2 L123.1,314.1 L123.8,315.0 L124.6,315.9 L125.4,316.3 L126.2,316.1 L126.9,315.4 L127.7,314.8 L128.5,314.7 L129.4,315.3 L130.4,316.4 L131.4,317.6 L132.3,318.6 L133.1,319.5 L133.9,320.4 L134.6,321.2 L135.4,321.7 L136.2,321.8 L136.9,321.7 L137.7,321.4 L138.5,320.9 L139.4,320.3 L140.3,319.5 L141.3,318.5 L142.3,317.0 L143.2,315.4 L144.1,313.5 L145.0,311.5 L146.0,309.2 L146.9,307.0 L147.8,304.7 L148.8,302.2 L149.7,299.7 L150.7,297.2 L151.5,294.7 L152.4,291.6 L153.2,288.6 L154.0,285.6 L155.0,282.8 L155.8,281.0 L156.7,279.4 L157.7,277.8 L158.6,276.2 L159.6,274.6 L160.6,272.9 L161.6,271.1 L162.5,269.2 L163.5,267.2 L164.5,265.3 L165.4,263.4 L166.3,261.7 L167.2,259.8 L168.1,257.9 L168.9,256.2 L169.7,254.6 L170.5,253.2 L171.3,252.0 L172.2,250.9 L173.0,250.1 L173.9,249.4 L174.7,249.0 L175.6,248.9 L176.4,249.1 L177.3,249.5 L178.1,249.9 L179.0,250.4 L179.8,250.9 L180.7,251.4 L181.5,252.0 L182.4,252.6 L183.2,253.2 L184.0,253.8 L184.9,254.4 L185.7,255.0 L186.6,255.6 L187.4,256.0 L188.3,256.3 L189.1,256.4 L190.0,256.5 L190.8,256.5 L191.7,256.7 L192.5,256.9 L193.4,257.2 L194.2,257.5 L195.1,257.8 L195.9,258.1 L196.7,258.3 L197.5,258.6 L198.4,258.8 L199.2,259.0 L200.1,259.3 L200.9,259.6 L201.8,259.8 L202.7,260.1 L203.6,260.4 L204.5,260.7 L205.2,260.9 L206.1,261.3 L206.9,261.6 L207.6,261.8 L208.3,261.9 L209.1,261.6 L209.8,261.1 L210.6,260.6 L211.4,260.4 L212.2,260.6 L213.0,260.9 L213.8,261.4 L214.7,261.9 L215.5,262.4 L216.3,262.8 L217.1,263.3 L218.0,263.7 L218.8,264.1 L219.6,264.5 L220.4,264.7 L221.2,264.9 L222.1,265.0 L222.9,265.2 L223.7,265.5 L224.5,266.0 L225.3,266.6 L226.2,267.3 L227.0,268.0 L227.8,268.6 L228.6,269.2 L229.4,269.9 L230.3,270.5 L231.1,271.1 L231.9,271.6 L232.7,272.0 L233.5,272.3 L234.4,272.6 L235.2,272.9 L236.0,273.2 L236.8,273.5 L237.6,273.8 L238.4,274.1 L239.2,274.4 L240.1,274.7 L241.0,275.0 L242.0,275.2 L243.0,275.5 L244.0,275.8 L245.0,276.2 L245.9,276.5 L246.8,276.8 L247.7,277.1 L248.6,277.5 L249.5,278.1 L250.4,279.0 L251.4,280.5 L252.4,282.3 L253.3,284.3 L254.2,286.5 L255.0,288.5 L255.8,291.1 L256.6,293.8 L257.3,296.4 L258.1,298.5 L258.9,299.7 L259.8,300.7 L260.7,301.4 L261.7,302.0 L262.7,302.4 L263.5,302.6 L264.3,302.6 L265.2,302.6 L266.1,302.5 L267.0,302.4 L267.9,302.4 L268.8,302.4 L269.7,302.5 L270.6,302.7 L271.5,303.0 L272.3,303.2 L273.2,303.5 L274.1,303.8 L275.0,304.0 L275.9,304.2 L276.8,304.4 L277.7,304.6 L278.5,304.9 L279.4,305.1 L280.3,305.3 L281.2,305.5 L282.1,305.7 L282.9,305.9 L283.8,306.1 L284.7,306.2 L285.6,306.5 L286.4,306.7 L287.3,307.0 L288.2,307.3 L289.0,307.7 L289.9,308.1 L290.8,308.5 L291.7,309.0 L292.6,309.5 L293.5,310.1 L294.5,310.8 L295.6,311.6 L296.8,312.5 L297.9,313.4 L298.9,314.3 L299.8,315.0 L300.4,315.5 L300.4,324.5 L299.8,324.0 L298.9,323.3 L297.9,322.4 L296.8,321.5 L295.6,320.6 L294.5,319.8 L293.5,319.1 L292.6,318.5 L291.7,318.0 L290.8,317.5 L289.9,317.1 L289.0,316.7 L288.2,316.3 L287.3,316.0 L286.4,315.7 L285.6,315.5 L284.7,315.2 L283.8,315.1 L282.9,314.9 L282.1,314.7 L281.2,314.5 L280.3,314.3 L279.4,314.1 L278.5,313.9 L277.7,313.6 L276.8,313.4 L275.9,313.2 L275.0,313.0 L274.1,312.8 L273.2,312.5 L272.3,312.2 L271.5,312.0 L270.6,311.7 L269.7,311.5 L268.8,311.4 L267.9,311.4 L267.0,311.4 L266.1,311.5 L265.2,311.6 L264.3,311.6 L263.5,311.6 L262.7,311.4 L261.7,311.0 L260.7,310.4 L259.8,309.7 L258.9,308.7 L258.1,307.5 L257.3,305.4 L256.6,302.8 L255.8,300.1 L255.0,297.5 L254.2,295.5 L253.3,293.3 L252.4,291.3 L251.4,289.5 L250.4,288.0 L249.5,287.1 L248.6,286.5 L247.7,286.1 L246.8,285.8 L245.9,285.5 L245.0,285.2 L244.0,284.8 L243.0,284.5 L242.0,284.2 L241.0,284.0 L240.1,283.7 L239.2,283.4 L238.4,283.1 L237.6,282.8 L236.8,282.5 L236.0,282.2 L235.2,281.9 L234.4,281.6 L233.5,281.3 L232.7,281.0 L231.9,280.6 L231.1,280.1 L230.3,279.5 L229.4,278.9 L228.6,278.2 L227.8,277.6 L227.0,277.0 L226.2,276.3 L225.3,275.6 L224.5,275.0 L223.7,274.5 L222.9,274.2 L222.1,274.0 L221.2,273.9 L220.4,273.7 L219.6,273.5 L218.8,273.1 L218.0,272.7 L217.1,272.3 L216.3,271.8 L215.5,271.4 L214.7,270.9 L213.8,270.4 L213.0,269.9 L212.2,269.6 L211.4,269.4 L210.6,269.6 L209.8,270.1 L209.1,270.6 L208.3,270.9 L207.6,270.8 L206.9,270.6 L206.1,270.3 L205.2,269.9 L204.5,269.7 L203.6,269.4 L202.7,269.1 L201.8,268.8 L200.9,268.6 L200.1,268.3 L199.2,268.0 L198.4,267.8 L197.5,267.6 L196.7,267.3 L195.9,267.1 L195.1,266.8 L194.2,266.5 L193.4,266.2 L192.5,265.9 L191.7,265.7 L190.8,265.5 L190.0,265.5 L189.1,265.4 L188.3,265.3 L187.4,265.0 L186.6,264.6 L185.7,264.0 L184.9,263.4 L184.0,262.8 L183.2,262.2 L182.4,261.6 L181.5,261.0 L180.7,260.4 L179.8,259.9 L179.0,259.4 L178.1,258.9 L177.3,258.5 L176.4,258.1 L175.6,257.9 L174.7,258.0 L173.9,258.4 L173.0,259.1 L172.2,259.9 L171.3,261.0 L170.5,262.2 L169.7,263.6 L168.9,265.2 L168.1,266.9 L167.2,268.8 L166.3,270.7 L165.4,272.4 L164.5,274.3 L163.5,276.2 L162.5,278.2 L161.6,280.1 L160.6,281.9 L159.6,283.6 L158.6,285.2 L157.7,286.8 L156.7,288.4 L155.8,290.0 L155.0,291.8 L154.0,294.6 L153.2,297.6 L152.4,300.6 L151.5,303.7 L150.7,306.2 L149.7,308.7 L148.8,311.2 L147.8,313.7 L146.9,316.0 L146.0,318.2 L145.0,320.5 L144.1,322.5 L143.2,324.4 L142.3,326.0 L141.3,327.5 L140.3,328.5 L139.4,329.3 L138.5,329.9 L137.7,330.4 L136.9,330.7 L136.2,330.8 L135.4,330.7 L134.6,330.2 L133.9,329.4 L133.1,328.5 L132.3,327.6 L131.4,326.6 L130.4,325.4 L129.4,324.3 L128.5,323.7 L127.7,323.8 L126.9,324.4 L126.2,325.1 L125.4,325.3 L124.6,324.9 L123.8,324.0 L123.1,323.1 L122.3,322.2 L121.5,321.3 L120.7,320.3 L120.0,319.4 L119.2,319.1 L118.4,319.2 L117.7,319.8 L117.0,320.7 L116.2,322.2 L115.4,324.7 L114.6,328.0 L113.8,331.2 L113.0,333.5 L112.2,334.6 L111.4,332.1 L110.2,331.8 L109.5,331.8 L108.7,331.7 L107.9,331.6 L106.9,331.5 L106.0,331.4 L105.1,331.3 L104.2,331.3 L103.3,331.3 L102.5,331.5 L101.6,331.6 L100.8,331.8 L99.9,332.0 L99.1,332.1 L98.2,332.1 L97.3,332.1 L96.5,332.0 L95.6,331.9 L94.8,331.8 L93.9,331.6 L93.1,331.5 L92.2,331.4 L91.3,331.4 L90.5,331.3 L89.6,331.3 L88.8,331.3 L87.9,331.3 L87.1,331.3 L86.2,331.3 L85.3,331.3 L84.5,331.3 L83.6,331.3 L82.8,331.4 L81.9,331.4 L81.1,331.4 L80.2,331.4 L79.3,331.4 L78.5,331.4 L77.6,331.4 L76.8,331.3 L75.9,331.3 L75.1,331.3 L74.2,331.4 L73.3,331.5 L72.5,331.6 L71.6,331.7 L70.8,331.9 L69.9,332.1 L69.1,332.2 L68.2,332.3 L67.3,332.3 L66.5,332.3 L65.6,332.3 L64.8,332.2 L63.9,332.1 L63.1,332.1 L62.2,332.1 L61.3,332.1 L60.5,332.1 L59.6,332.1 L58.8,332.1 L57.9,332.1 L57.1,332.1 L56.2,332.1 L55.3,332.0 L54.3,331.9 L53.3,331.8 L52.4,331.7 L51.5,331.6 L50.7,331.5 L50.2,331.5 Z" fill="#53B400" fill-opacity="0.22" stroke="none"/>
<path d="M50.2,327.0 L50.7,327.1 L51.5,327.2 L52.4,327.3 L53.3,327.5 L54.3,327.6 L55.3,327.7 L56.2,327.7 L57.1,327.8 L57.9,327.8 L58.8,327.8 L59.6,327.7 L60.5,327.7 L61.3,327.7 L62.2,327.7 L63.1,327.7 L63.9,327.8 L64.8,327.9 L65.6,327.9 L66.5,328.0 L67.3,328.0 L68.2,328.0 L69.1,328.0 L69.9,327.9 L70.8,327.7 L71.6,327.6 L72.5,327.4 L73.3,327.3 L74.2,327.2 L75.1,327.2 L75.9,327.1 L76.8,327.1 L77.6,327.1 L78.5,327.1 L79.3,327.2 L80.2,327.2 L81.1,327.3 L81.9,327.3 L82.8,327.4 L83.6,327.6 L84.5,327.6 L85.3,327.7 L86.2,327.8 L87.1,327.8 L87.9,327.8 L88.8,327.8 L89.6,327.8 L90.5,327.8 L91.3,327.7 L92.2,327.7 L93.1,327.6 L93.9,327.6 L94.8,327.5 L95.6,327.4 L96.5,327.3 L97.3,327.3 L98.2,327.3 L99.1,327.3 L99.9,327.4 L100.8,327.4 L101.6,327.5 L102.5,327.6 L103.3,327.7 L104.2,327.7 L105.1,327.7 L106.0,327.7 L106.9,327.7 L107.9,327.6 L108.7,327.5 L109.5,327.5 L110.2,327.4 L111.4,327.5 L112.2,325.0 L113.0,324.0 L113.8,321.9 L114.6,318.8 L115.4,315.8 L116.2,313.5 L117.0,312.3 L117.7,311.7 L118.4,311.5 L119.2,311.5 L120.0,311.8 L120.7,312.5 L121.5,313.3 L122.3,314.0 L123.1,314.6 L123.8,315.2 L124.6,315.7 L125.4,316.0 L126.2,316.2 L127.0,316.3 L127.7,316.3 L128.5,316.0 L129.2,315.2 L129.9,314.1 L130.6,313.0 L131.5,312.5 L132.3,312.7 L133.3,313.4 L134.2,314.2 L135.2,315.0 L136.2,315.5 L137.2,315.7 L138.1,315.8 L139.1,315.8 L140.0,315.7 L140.8,315.5 L141.7,315.3 L142.4,315.0 L143.1,314.4 L143.8,313.5 L144.5,312.1 L145.3,310.4 L146.0,308.4 L146.9,306.0 L147.7,303.7 L148.7,301.0 L149.7,298.1 L150.6,295.4 L151.5,293.0 L152.4,290.6 L153.2,288.5 L154.0,286.6 L155.0,284.5 L155.8,283.1 L156.7,281.6 L157.7,280.2 L158.6,278.7 L159.6,277.1 L160.6,275.5 L161.6,273.7 L162.5,271.8 L163.5,269.9 L164.5,268.0 L165.4,266.1 L166.3,264.5 L167.2,262.7 L168.1,261.1 L168.9,259.6 L169.7,258.4 L170.5,257.4 L171.3,256.7 L172.2,256.3 L173.0,256.1 L173.9,256.0 L174.7,256.0 L175.6,256.1 L176.4,256.3 L177.3,256.6 L178.1,257.0 L179.0,257.4 L179.8,257.9 L180.7,258.4 L181.5,259.1 L182.4,259.7 L183.2,260.2 L184.0,260.7 L184.9,261.2 L185.7,261.7 L186.6,262.1 L187.4,262.4 L188.3,262.6 L189.1,262.7 L190.0,262.7 L190.8,262.6 L191.7,262.4 L192.5,262.0 L193.4,261.4 L194.2,260.7 L195.1,260.0 L195.9,259.5 L196.7,259.1 L197.5,258.7 L198.4,258.4 L199.2,258.1 L200.1,257.8 L200.9,257.5 L201.7,257.2 L202.6,256.9 L203.5,256.6 L204.3,256.4 L205.2,256.3 L206.1,256.3 L206.9,256.3 L207.8,256.4 L208.7,256.6 L209.5,256.7 L210.4,256.8 L211.3,256.9 L212.1,256.9 L213.0,257.0 L213.8,257.1 L214.7,257.2 L215.5,257.3 L216.3,257.4 L217.2,257.6 L218.1,257.8 L218.9,257.9 L219.8,258.1 L220.6,258.3 L221.4,258.5 L222.3,258.6 L223.1,258.8 L224.0,258.9 L224.8,259.1 L225.7,259.3 L226.6,259.5 L227.4,259.8 L228.3,260.1 L229.2,260.4 L230.0,260.6 L230.9,260.9 L231.8,261.1 L232.7,261.4 L233.6,261.6 L234.5,261.8 L235.3,262.1 L236.0,262.4 L236.9,263.0 L237.6,263.6 L238.2,264.3 L239.1,265.0 L240.0,265.5 L240.9,265.9 L242.0,266.3 L243.0,266.8 L244.0,267.5 L244.9,268.3 L245.9,269.2 L246.8,270.3 L247.8,271.4 L248.8,272.8 L249.6,273.9 L250.5,275.2 L251.4,276.5 L252.3,278.0 L253.2,279.4 L254.1,280.7 L255.0,282.0 L255.9,283.2 L256.8,284.5 L257.8,285.7 L258.7,286.9 L259.6,288.0 L260.4,288.9 L261.2,289.7 L262.3,290.5 L263.1,290.9 L264.0,291.0 L265.0,291.0 L265.8,290.9 L266.7,290.6 L267.6,290.3 L268.5,290.0 L269.4,289.9 L270.4,290.1 L271.2,290.6 L272.1,291.2 L273.0,292.1 L273.8,293.0 L274.7,293.9 L275.6,294.8 L276.5,295.5 L277.4,296.1 L278.3,296.8 L279.2,297.4 L280.0,297.9 L280.9,298.4 L281.8,298.9 L282.7,299.3 L283.6,299.6 L284.5,299.9 L285.4,300.1 L286.3,300.2 L287.2,300.4 L288.0,300.6 L288.8,300.9 L289.8,301.5 L290.7,302.1 L291.5,302.9 L292.4,303.5 L293.5,304.0 L294.4,304.2 L295.5,304.4 L296.7,304.5 L297.8,304.6 L298.9,304.6 L299.8,304.7 L300.4,304.7 L300.4,313.7 L299.8,313.7 L298.9,313.6 L297.8,313.6 L296.7,313.5 L295.5,313.4 L294.4,313.2 L293.5,313.0 L292.4,312.5 L291.5,311.9 L290.7,311.1 L289.8,310.5 L288.8,309.9 L288.0,309.6 L287.2,309.4 L286.3,309.2 L285.4,309.1 L284.5,308.9 L283.6,308.6 L282.7,308.3 L281.8,307.9 L280.9,307.4 L280.0,306.9 L279.2,306.4 L278.3,305.8 L277.4,305.1 L276.5,304.5 L275.6,303.8 L274.7,302.9 L273.8,302.0 L273.0,301.1 L272.1,300.2 L271.2,299.6 L270.4,299.1 L269.4,298.9 L268.5,299.0 L267.6,299.3 L266.7,299.6 L265.8,299.9 L265.0,300.0 L264.0,300.0 L263.1,299.9 L262.3,299.5 L261.2,298.7 L260.4,297.9 L259.6,297.0 L258.7,295.9 L257.8,294.7 L256.8,293.5 L255.9,292.2 L255.0,291.0 L254.1,289.7 L253.2,288.4 L252.3,287.0 L251.4,285.5 L250.5,284.2 L249.6,282.9 L248.8,281.8 L247.8,280.4 L246.8,279.3 L245.9,278.2 L244.9,277.3 L244.0,276.5 L243.0,275.8 L242.0,275.3 L240.9,274.9 L240.0,274.5 L239.1,274.0 L238.2,273.3 L237.6,272.6 L236.9,272.0 L236.0,271.4 L235.3,271.1 L234.5,270.8 L233.6,270.6 L232.7,270.4 L231.8,270.1 L230.9,269.9 L230.0,269.6 L229.2,269.4 L228.3,269.1 L227.4,268.8 L226.6,268.5 L225.7,268.3 L224.8,268.1 L224.0,267.9 L223.1,267.8 L222.3,267.6 L221.4,267.5 L220.6,267.3 L219.8,267.1 L218.9,266.9 L218.1,266.8 L217.2,266.6 L216.3,266.4 L215.5,266.3 L214.7,266.2 L213.8,266.1 L213.0,266.0 L212.1,265.9 L211.3,265.9 L210.4,265.8 L209.5,265.7 L208.7,265.6 L207.8,265.4 L206.9,265.3 L206.1,265.3 L205.2,265.3 L204.3,265.4 L203.5,265.6 L202.6,265.9 L201.7,266.2 L200.9,266.5 L200.1,266.8 L199.2,267.1 L198.4,267.4 L197.5,267.7 L196.7,268.1 L195.9,268.5 L195.1,269.0 L194.2,269.7 L193.4,270.4 L192.5,271.0 L191.7,271.4 L190.8,271.6 L190.0,271.7 L189.1,271.7 L188.3,271.6 L187.4,271.4 L186.6,271.1 L185.7,270.7 L184.9,270.2 L184.0,269.7 L183.2,269.2 L182.4,268.7 L181.5,268.1 L180.7,267.4 L179.8,266.9 L179.0,266.4 L178.1,266.0 L177.3,265.6 L176.4,265.3 L175.6,265.1 L174.7,265.0 L173.9,265.0 L173.0,265.1 L172.2,265.3 L171.3,265.7 L170.5,266.4 L169.7,267.4 L168.9,268.6 L168.1,270.1 L167.2,271.7 L166.3,273.5 L165.4,275.1 L164.5,277.0 L163.5,278.9 L162.5,280.8 L161.6,282.7 L160.6,284.5 L159.6,286.1 L158.6,287.7 L157.7,289.2 L156.7,290.6 L155.8,292.1 L155.0,293.5 L154.0,295.6 L153.2,297.5 L152.4,299.6 L151.5,302.0 L150.6,304.4 L149.7,307.1 L148.7,310.0 L147.7,312.7 L146.9,315.0 L146.0,317.4 L145.3,319.4 L144.5,321.1 L143.8,322.5 L143.1,323.4 L142.4,324.0 L141.7,324.3 L140.8,324.5 L140.0,324.7 L139.1,324.8 L138.1,324.8 L137.2,324.7 L136.2,324.5 L135.2,324.0 L134.2,323.2 L133.3,322.4 L132.3,321.7 L131.5,321.5 L130.6,322.0 L129.9,323.1 L129.2,324.2 L128.5,325.0 L127.7,325.3 L127.0,325.3 L126.2,325.2 L125.4,325.0 L124.6,324.7 L123.8,324.2 L123.1,323.6 L122.3,323.0 L121.5,322.3 L120.7,321.5 L120.0,320.8 L119.2,320.5 L118.4,320.5 L117.7,320.7 L117.0,321.3 L116.2,322.5 L115.4,324.8 L114.6,327.8 L113.8,330.9 L113.0,333.0 L112.2,334.0 L111.4,331.5 L110.2,331.4 L109.5,331.5 L108.7,331.5 L107.9,331.6 L106.9,331.7 L106.0,331.7 L105.1,331.7 L104.2,331.7 L103.3,331.7 L102.5,331.6 L101.6,331.5 L100.8,331.4 L99.9,331.4 L99.1,331.3 L98.2,331.3 L97.3,331.3 L96.5,331.3 L95.6,331.4 L94.8,331.5 L93.9,331.6 L93.1,331.6 L92.2,331.7 L91.3,331.7 L90.5,331.8 L89.6,331.8 L88.8,331.8 L87.9,331.8 L87.1,331.8 L86.2,331.8 L85.3,331.7 L84.5,331.6 L83.6,331.6 L82.8,331.4 L81.9,331.3 L81.1,331.3 L80.2,331.2 L79.3,331.2 L78.5,331.1 L77.6,331.1 L76.8,331.1 L75.9,331.1 L75.1,331.2 L74.2,331.2 L73.3,331.3 L72.5,331.4 L71.6,331.6 L70.8,331.7 L69.9,331.9 L69.1,332.0 L68.2,332.0 L67.3,332.0 L66.5,332.0 L65.6,331.9 L64.8,331.9 L63.9,331.8 L63.1,331.7 L62.2,331.7 L61.3,331.7 L60.5,331.7 L59.6,331.7 L58.8,331.8 L57.9,331.8 L57.1,331.8 L56.2,331.7 L55.3,331.7 L54.3,331.6 L53.3,331.5 L52.4,331.3 L51.5,331.2 L50.7,331.1 L50.2,331.0 Z" fill="#00C094" fill-opacity="0.22" stroke="none"/>
<path d="M50.2,327.4 L50.7,327.2 L51.5,327.1 L52.4,326.8 L53.3,326.6 L54.3,326.4 L55.3,326.3 L56.2,326.2 L57.1,326.2 L57.9,326.4 L58.8,326.5 L59.6,326.7 L60.5,326.9 L61.3,327.0 L62.2,327.1 L63.1,327.1 L63.9,326.9 L64.8,326.8 L65.6,326.7 L66.5,326.5 L67.3,326.4 L68.2,326.4 L69.1,326.5 L69.9,326.6 L70.8,326.8 L71.6,327.0 L72.5,327.2 L73.3,327.3 L74.2,327.4 L75.1,327.3 L75.9,327.1 L76.8,326.9 L77.6,326.7 L78.5,326.5 L79.3,326.3 L80.2,326.2 L81.1,326.3 L81.9,326.4 L82.8,326.6 L83.6,326.8 L84.5,327.0 L85.3,327.2 L86.2,327.3 L87.1,327.3 L87.9,327.3 L88.8,327.2 L89.6,327.2 L90.5,327.1 L91.3,327.0 L92.2,327.0 L93.1,327.0 L93.9,327.0 L94.8,327.1 L95.6,327.1 L96.5,327.2 L97.3,327.2 L98.2,327.2 L99.1,327.3 L99.9,327.3 L100.8,327.4 L101.6,327.4 L102.5,327.4 L103.3,327.4 L104.2,327.4 L105.1,327.3 L106.0,327.3 L106.9,327.2 L107.9,327.1 L108.7,327.0 L109.5,326.8 L110.2,326.5 L111.4,325.7 L112.2,322.1 L113.0,320.5 L113.8,318.6 L114.6,316.1 L115.4,313.8 L116.2,312.0 L117.0,311.1 L117.7,310.6 L118.4,310.5 L119.2,310.5 L120.0,310.8 L120.7,311.3 L121.5,312.0 L122.3,312.5 L123.1,312.9 L123.8,313.4 L124.6,313.7 L125.4,314.0 L126.2,314.2 L127.0,314.3 L127.7,314.3 L128.5,314.0 L129.2,313.2 L129.9,312.1 L130.6,311.0 L131.5,310.5 L132.3,310.7 L133.3,311.4 L134.2,312.2 L135.2,313.0 L136.2,313.5 L137.2,313.7 L138.1,313.8 L139.1,313.8 L140.0,313.6 L140.8,313.5 L141.7,313.4 L142.4,313.2 L143.1,312.8 L143.8,312.0 L144.5,310.7 L145.3,309.1 L146.1,307.2 L146.9,305.0 L147.8,302.3 L148.8,299.2 L149.8,296.1 L150.8,293.2 L151.6,291.2 L152.4,289.4 L153.2,287.6 L154.1,285.9 L155.0,284.2 L155.9,282.8 L156.8,281.4 L157.7,280.1 L158.7,278.7 L159.6,277.3 L160.6,275.8 L161.6,274.2 L162.5,272.5 L163.5,270.8 L164.5,269.0 L165.4,267.4 L166.3,265.9 L167.2,264.2 L168.1,262.6 L168.9,261.1 L169.7,259.9 L170.5,258.8 L171.3,258.0 L172.2,257.3 L173.0,256.9 L173.9,256.7 L174.7,256.7 L175.6,257.0 L176.4,257.7 L177.3,258.5 L178.1,259.4 L179.0,260.2 L179.8,261.0 L180.7,261.9 L181.5,262.8 L182.4,263.7 L183.2,264.5 L184.0,265.3 L184.9,266.1 L185.7,266.8 L186.6,267.4 L187.4,268.0 L188.3,268.4 L189.1,268.8 L190.0,269.0 L190.8,269.2 L191.7,269.4 L192.5,269.5 L193.4,269.5 L194.2,269.5 L195.1,269.4 L195.9,269.4 L196.7,269.4 L197.5,269.3 L198.4,269.2 L199.2,269.2 L200.1,269.1 L200.9,269.0 L201.7,269.0 L202.6,268.9 L203.5,268.9 L204.3,268.7 L205.2,268.6 L206.1,268.4 L206.9,268.2 L207.8,268.0 L208.7,267.7 L209.5,267.4 L210.4,267.0 L211.3,266.5 L212.1,265.9 L213.0,265.2 L213.8,264.5 L214.7,263.9 L215.5,263.4 L216.3,263.1 L217.2,262.8 L218.1,262.6 L218.9,262.5 L219.8,262.4 L220.6,262.4 L221.4,262.4 L222.3,262.6 L223.1,262.8 L224.0,263.0 L224.8,263.2 L225.7,263.4 L226.6,263.6 L227.4,263.7 L228.3,263.9 L229.2,264.1 L230.0,264.3 L230.9,264.5 L231.8,264.7 L232.6,265.0 L233.5,265.3 L234.3,265.5 L235.2,265.8 L236.0,266.0 L236.9,266.2 L237.7,266.4 L238.6,266.5 L239.4,266.7 L240.3,266.8 L241.1,267.0 L242.1,267.1 L243.0,267.1 L243.9,267.1 L244.9,267.4 L245.8,268.0 L246.7,269.1 L247.6,270.5 L248.5,272.2 L249.4,273.9 L250.4,275.5 L251.2,276.6 L252.0,277.7 L252.9,278.9 L253.8,280.0 L254.7,281.1 L255.6,282.2 L256.5,283.2 L257.4,284.2 L258.2,285.4 L259.1,286.5 L259.9,287.5 L260.8,288.4 L261.7,289.0 L262.7,289.3 L263.6,289.2 L264.6,288.6 L265.5,287.8 L266.6,286.9 L267.6,286.0 L268.6,285.2 L269.5,284.8 L270.4,284.7 L271.4,285.2 L272.3,286.0 L273.1,287.2 L274.0,288.6 L274.8,290.0 L275.6,291.3 L276.5,292.4 L277.4,293.4 L278.3,294.6 L279.2,295.7 L280.1,296.7 L281.0,297.6 L281.9,298.2 L282.7,298.6 L283.7,298.5 L284.6,297.7 L285.4,296.7 L286.3,295.9 L287.3,295.5 L288.1,295.6 L288.9,295.9 L289.8,296.4 L290.7,296.9 L291.6,297.5 L292.6,298.1 L293.5,298.6 L294.5,299.1 L295.6,299.7 L296.8,300.4 L297.9,301.0 L298.9,301.6 L299.8,302.1 L300.4,302.4 L300.4,311.4 L299.8,311.1 L298.9,310.6 L297.9,310.0 L296.8,309.4 L295.6,308.7 L294.5,308.1 L293.5,307.6 L292.6,307.1 L291.6,306.5 L290.7,305.9 L289.8,305.4 L288.9,304.9 L288.1,304.6 L287.3,304.5 L286.3,304.9 L285.4,305.7 L284.6,306.7 L283.7,307.5 L282.7,307.6 L281.9,307.2 L281.0,306.6 L280.1,305.7 L279.2,304.7 L278.3,303.6 L277.4,302.4 L276.5,301.4 L275.6,300.3 L274.8,299.0 L274.0,297.6 L273.1,296.2 L272.3,295.0 L271.4,294.2 L270.4,293.7 L269.5,293.8 L268.6,294.2 L267.6,295.0 L266.6,295.9 L265.5,296.8 L264.6,297.6 L263.6,298.2 L262.7,298.3 L261.7,298.0 L260.8,297.4 L259.9,296.5 L259.1,295.5 L258.2,294.4 L257.4,293.2 L256.5,292.2 L255.6,291.2 L254.7,290.1 L253.8,289.0 L252.9,287.9 L252.0,286.7 L251.2,285.6 L250.4,284.5 L249.4,282.9 L248.5,281.2 L247.6,279.5 L246.7,278.1 L245.8,277.0 L244.9,276.4 L243.9,276.1 L243.0,276.1 L242.1,276.1 L241.1,276.0 L240.3,275.8 L239.4,275.7 L238.6,275.5 L237.7,275.4 L236.9,275.2 L236.0,275.0 L235.2,274.8 L234.3,274.5 L233.5,274.3 L232.6,274.0 L231.8,273.7 L230.9,273.5 L230.0,273.3 L229.2,273.1 L228.3,272.9 L227.4,272.7 L226.6,272.6 L225.7,272.4 L224.8,272.2 L224.0,272.0 L223.1,271.8 L222.3,271.6 L221.4,271.4 L220.6,271.4 L219.8,271.4 L218.9,271.5 L218.1,271.6 L217.2,271.8 L216.3,272.1 L215.5,272.4 L214.7,272.9 L213.8,273.5 L213.0,274.2 L212.1,274.9 L211.3,275.5 L210.4,276.0 L209.5,276.4 L208.7,276.7 L207.8,277.0 L206.9,277.2 L206.1,277.4 L205.2,277.6 L204.3,277.7 L203.5,277.9 L202.6,277.9 L201.7,278.0 L200.9,278.0 L200.1,278.1 L199.2,278.2 L198.4,278.2 L197.5,278.3 L196.7,278.4 L195.9,278.4 L195.1,278.4 L194.2,278.5 L193.4,278.5 L192.5,278.5 L191.7,278.4 L190.8,278.2 L190.0,278.0 L189.1,277.8 L188.3,277.4 L187.4,277.0 L186.6,276.4 L185.7,275.8 L184.9,275.1 L184.0,274.3 L183.2,273.5 L182.4,272.7 L181.5,271.8 L180.7,270.9 L179.8,270.0 L179.0,269.2 L178.1,268.4 L177.3,267.5 L176.4,266.7 L175.6,266.0 L174.7,265.7 L173.9,265.7 L173.0,265.9 L172.2,266.3 L171.3,267.0 L170.5,267.8 L169.7,268.9 L168.9,270.1 L168.1,271.6 L167.2,273.2 L166.3,274.9 L165.4,276.4 L164.5,278.0 L163.5,279.8 L162.5,281.5 L161.6,283.2 L160.6,284.8 L159.6,286.3 L158.7,287.7 L157.7,289.1 L156.8,290.4 L155.9,291.8 L155.0,293.2 L154.1,294.9 L153.2,296.6 L152.4,298.4 L151.6,300.2 L150.8,302.2 L149.8,305.1 L148.8,308.2 L147.8,311.3 L146.9,314.0 L146.1,316.2 L145.3,318.1 L144.5,319.7 L143.8,321.0 L143.1,321.8 L142.4,322.2 L141.7,322.4 L140.8,322.5 L140.0,322.6 L139.1,322.8 L138.1,322.8 L137.2,322.7 L136.2,322.5 L135.2,322.0 L134.2,321.2 L133.3,320.4 L132.3,319.7 L131.5,319.5 L130.6,320.0 L129.9,321.1 L129.2,322.2 L128.5,323.0 L127.7,323.3 L127.0,323.3 L126.2,323.2 L125.4,323.0 L124.6,322.7 L123.8,322.4 L123.1,321.9 L122.3,321.5 L121.5,321.0 L120.7,320.3 L120.0,319.8 L119.2,319.5 L118.4,319.5 L117.7,319.6 L117.0,320.1 L116.2,321.0 L115.4,322.8 L114.6,325.1 L113.8,327.6 L113.0,329.5 L112.2,331.1 L111.4,329.7 L110.2,330.5 L109.5,330.8 L108.7,331.0 L107.9,331.1 L106.9,331.2 L106.0,331.3 L105.1,331.3 L104.2,331.4 L103.3,331.4 L102.5,331.4 L101.6,331.4 L100.8,331.4 L99.9,331.3 L99.1,331.3 L98.2,331.2 L97.3,331.2 L96.5,331.2 L95.6,331.1 L94.8,331.1 L93.9,331.0 L93.1,331.0 L92.2,331.0 L91.3,331.0 L90.5,331.1 L89.6,331.2 L88.8,331.2 L87.9,331.3 L87.1,331.3 L86.2,331.3 L85.3,331.2 L84.5,331.0 L83.6,330.8 L82.8,330.6 L81.9,330.4 L81.1,330.3 L80.2,330.2 L79.3,330.3 L78.5,330.5 L77.6,330.7 L76.8,330.9 L75.9,331.1 L75.1,331.3 L74.2,331.4 L73.3,331.3 L72.5,331.2 L71.6,331.0 L70.8,330.8 L69.9,330.6 L69.1,330.5 L68.2,330.4 L67.3,330.4 L66.5,330.5 L65.6,330.7 L64.8,330.8 L63.9,330.9 L63.1,331.1 L62.2,331.1 L61.3,331.0 L60.5,330.9 L59.6,330.7 L58.8,330.5 L57.9,330.4 L57.1,330.2 L56.2,330.2 L55.3,330.3 L54.3,330.4 L53.3,330.6 L52.4,330.8 L51.5,331.1 L50.7,331.2 L50.2,331.4 Z" fill="#00B6EB" fill-opacity="0.22" stroke="none"/>
<path d="M50.2,327.3 L50.7,327.3 L51.5,327.4 L52.4,327.4 L53.3,327.4 L54.3,327.4 L55.3,327.5 L56.2,327.5 L57.1,327.5 L57.9,327.5 L58.8,327.5 L59.6,327.4 L60.5,327.4 L61.3,327.4 L62.2,327.4 L63.1,327.4 L63.9,327.4 L64.8,327.4 L65.6,327.4 L66.5,327.4 L67.3,327.4 L68.2,327.4 L69.1,327.4 L69.9,327.4 L70.8,327.4 L71.6,327.4 L72.5,327.4 L73.3,327.4 L74.2,327.4 L75.1,327.4 L75.9,327.5 L76.8,327.5 L77.6,327.6 L78.5,327.7 L79.3,327.7 L80.2,327.7 L81.1,327.7 L81.9,327.6 L82.8,327.5 L83.6,327.4 L84.5,327.3 L85.3,327.2 L86.2,327.2 L87.1,327.2 L87.9,327.3 L88.8,327.4 L89.6,327.5 L90.5,327.6 L91.3,327.7 L92.2,327.7 L93.1,327.6 L93.9,327.5 L94.8,327.4 L95.6,327.2 L96.5,327.1 L97.3,327.0 L98.2,326.9 L99.1,326.9 L99.9,326.9 L100.8,327.0 L101.6,327.1 L102.5,327.2 L103.3,327.2 L104.2,327.3 L105.1,327.3 L106.0,327.3 L106.9,327.3 L107.9,327.4 L108.7,327.4 L109.5,327.3 L110.2,327.3 L111.4,327.5 L112.2,325.0 L113.0,324.0 L113.8,321.9 L114.6,318.8 L115.4,315.8 L116.2,313.5 L117.0,312.3 L117.7,311.7 L118.4,311.5 L119.2,311.5 L120.0,311.7 L120.7,312.3 L121.5,312.9 L122.3,313.5 L123.1,313.9 L123.9,314.3 L124.7,314.7 L125.4,315.0 L126.1,316.1 L126.9,316.3 L127.6,315.5 L128.5,314.2 L129.5,312.8 L130.5,311.5 L131.5,310.9 L132.4,311.0 L133.4,311.7 L134.3,312.6 L135.3,313.4 L136.2,314.0 L137.2,314.2 L138.1,314.3 L139.1,314.3 L140.0,314.1 L140.8,314.0 L141.7,313.9 L142.4,313.7 L143.1,313.3 L143.8,312.5 L144.5,311.3 L145.3,309.7 L146.0,307.8 L146.9,305.5 L147.7,303.3 L148.7,300.7 L149.7,297.9 L150.6,295.3 L151.5,293.0 L152.4,290.7 L153.2,288.7 L154.0,287.0 L155.0,285.6 L155.8,284.9 L156.7,284.5 L157.7,284.2 L158.6,284.0 L159.6,283.6 L160.6,283.0 L161.6,282.1 L162.5,281.0 L163.5,279.9 L164.5,278.6 L165.4,277.5 L166.3,276.5 L167.2,275.5 L168.1,274.5 L168.9,273.6 L169.7,272.8 L170.5,272.2 L171.3,271.7 L172.2,271.3 L173.0,271.0 L173.9,270.9 L174.7,270.8 L175.6,270.9 L176.4,271.2 L177.3,271.5 L178.1,271.9 L179.0,272.2 L179.8,272.5 L180.7,272.8 L181.5,273.0 L182.4,273.3 L183.2,273.6 L184.0,273.9 L184.9,274.1 L185.7,274.4 L186.6,274.7 L187.4,275.1 L188.3,275.7 L189.1,276.5 L190.0,277.2 L190.8,277.8 L191.7,277.9 L192.5,277.5 L193.4,276.6 L194.2,275.5 L195.1,274.5 L195.9,273.6 L196.7,273.0 L197.5,272.4 L198.4,271.9 L199.2,271.5 L200.1,271.1 L200.9,270.8 L201.7,270.6 L202.6,270.5 L203.5,270.3 L204.3,270.2 L205.2,270.1 L206.1,270.0 L206.9,269.9 L207.8,269.9 L208.7,269.8 L209.5,269.7 L210.4,269.6 L211.3,269.5 L212.1,269.3 L213.0,269.2 L213.8,269.0 L214.7,268.8 L215.5,268.6 L216.3,268.3 L217.2,267.9 L218.1,267.5 L218.9,267.1 L219.8,266.8 L220.6,266.5 L221.4,266.3 L222.3,266.2 L223.1,266.1 L224.0,266.1 L224.8,266.0 L225.7,266.0 L226.6,266.0 L227.4,265.9 L228.3,265.9 L229.2,265.9 L230.0,265.9 L230.9,266.0 L231.8,266.2 L232.6,266.3 L233.5,266.6 L234.3,266.9 L235.2,267.2 L236.0,267.5 L236.9,267.9 L237.7,268.3 L238.6,268.7 L239.4,269.2 L240.3,269.6 L241.1,270.1 L242.0,270.6 L242.9,271.1 L243.8,271.6 L244.8,272.2 L245.8,273.0 L246.6,273.7 L247.4,274.4 L248.3,275.2 L249.2,276.0 L250.1,277.0 L251.0,277.9 L251.9,279.0 L252.8,280.2 L253.7,281.5 L254.6,282.9 L255.5,284.3 L256.4,285.7 L257.3,287.0 L258.1,288.2 L259.1,289.7 L259.9,291.0 L260.7,292.3 L261.6,293.3 L262.7,294.0 L263.5,294.2 L264.4,294.3 L265.4,294.2 L266.5,294.0 L267.5,293.8 L268.5,293.7 L269.5,293.7 L270.4,294.0 L271.4,294.6 L272.3,295.4 L273.1,296.4 L274.0,297.4 L274.8,298.5 L275.6,299.4 L276.5,300.1 L277.4,300.6 L278.3,301.0 L279.2,301.4 L280.0,301.6 L280.9,301.9 L281.8,302.1 L282.7,302.4 L283.6,302.8 L284.5,303.1 L285.4,303.5 L286.3,303.9 L287.2,304.3 L288.0,304.5 L288.8,304.7 L289.8,304.7 L290.7,304.5 L291.5,304.2 L292.4,304.0 L293.5,304.0 L294.4,304.2 L295.5,304.5 L296.7,304.9 L297.8,305.3 L298.9,305.7 L299.8,306.1 L300.4,306.3 L300.4,315.3 L299.8,315.1 L298.9,314.7 L297.8,314.3 L296.7,313.9 L295.5,313.5 L294.4,313.2 L293.5,313.0 L292.4,313.0 L291.5,313.2 L290.7,313.5 L289.8,313.7 L288.8,313.7 L288.0,313.5 L287.2,313.3 L286.3,312.9 L285.4,312.5 L284.5,312.1 L283.6,311.8 L282.7,311.4 L281.8,311.1 L280.9,310.9 L280.0,310.6 L279.2,310.4 L278.3,310.0 L277.4,309.6 L276.5,309.1 L275.6,308.4 L274.8,307.5 L274.0,306.4 L273.1,305.4 L272.3,304.4 L271.4,303.6 L270.4,303.0 L269.5,302.7 L268.5,302.7 L267.5,302.8 L266.5,303.0 L265.4,303.2 L264.4,303.3 L263.5,303.2 L262.7,303.0 L261.6,302.3 L260.7,301.3 L259.9,300.0 L259.1,298.7 L258.1,297.2 L257.3,296.0 L256.4,294.7 L255.5,293.3 L254.6,291.9 L253.7,290.5 L252.8,289.2 L251.9,288.0 L251.0,286.9 L250.1,286.0 L249.2,285.0 L248.3,284.2 L247.4,283.4 L246.6,282.7 L245.8,282.0 L244.8,281.2 L243.8,280.6 L242.9,280.1 L242.0,279.6 L241.1,279.1 L240.3,278.6 L239.4,278.2 L238.6,277.7 L237.7,277.3 L236.9,276.9 L236.0,276.5 L235.2,276.2 L234.3,275.9 L233.5,275.6 L232.6,275.3 L231.8,275.2 L230.9,275.0 L230.0,274.9 L229.2,274.9 L228.3,274.9 L227.4,274.9 L226.6,275.0 L225.7,275.0 L224.8,275.0 L224.0,275.1 L223.1,275.1 L222.3,275.2 L221.4,275.3 L220.6,275.5 L219.8,275.8 L218.9,276.1 L218.1,276.5 L217.2,276.9 L216.3,277.3 L215.5,277.6 L214.7,277.8 L213.8,278.0 L213.0,278.2 L212.1,278.3 L211.3,278.5 L210.4,278.6 L209.5,278.7 L208.7,278.8 L207.8,278.9 L206.9,278.9 L206.1,279.0 L205.2,279.1 L204.3,279.2 L203.5,279.3 L202.6,279.5 L201.7,279.6 L200.9,279.8 L200.1,280.1 L199.2,280.5 L198.4,280.9 L197.5,281.4 L196.7,282.0 L195.9,282.6 L195.1,283.5 L194.2,284.5 L193.4,285.6 L192.5,286.5 L191.7,286.9 L190.8,286.8 L190.0,286.2 L189.1,285.5 L188.3,284.7 L187.4,284.1 L186.6,283.7 L185.7,283.4 L184.9,283.1 L184.0,282.9 L183.2,282.6 L182.4,282.3 L181.5,282.0 L180.7,281.8 L179.8,281.5 L179.0,281.2 L178.1,280.9 L177.3,280.5 L176.4,280.2 L175.6,279.9 L174.7,279.8 L173.9,279.9 L173.0,280.0 L172.2,280.3 L171.3,280.7 L170.5,281.2 L169.7,281.8 L168.9,282.6 L168.1,283.5 L167.2,284.5 L166.3,285.5 L165.4,286.5 L164.5,287.6 L163.5,288.9 L162.5,290.0 L161.6,291.1 L160.6,292.0 L159.6,292.6 L158.6,293.0 L157.7,293.2 L156.7,293.5 L155.8,293.9 L155.0,294.6 L154.0,296.0 L153.2,297.7 L152.4,299.7 L151.5,302.0 L150.6,304.3 L149.7,306.9 L148.7,309.7 L147.7,312.3 L146.9,314.5 L146.0,316.8 L145.3,318.7 L144.5,320.3 L143.8,321.5 L143.1,322.3 L142.4,322.7 L141.7,322.9 L140.8,323.0 L140.0,323.1 L139.1,323.3 L138.1,323.3 L137.2,323.2 L136.2,323.0 L135.3,322.4 L134.3,321.6 L133.4,320.7 L132.4,320.0 L131.5,319.9 L130.5,320.5 L129.5,321.8 L128.5,323.2 L127.6,324.5 L126.9,325.3 L126.1,325.1 L125.4,324.0 L124.7,323.7 L123.9,323.3 L123.1,322.9 L122.3,322.5 L121.5,321.9 L120.7,321.3 L120.0,320.7 L119.2,320.5 L118.4,320.5 L117.7,320.7 L117.0,321.3 L116.2,322.5 L115.4,324.8 L114.6,327.8 L113.8,330.9 L113.0,333.0 L112.2,334.0 L111.4,331.5 L110.2,331.3 L109.5,331.3 L108.7,331.4 L107.9,331.4 L106.9,331.3 L106.0,331.3 L105.1,331.3 L104.2,331.3 L103.3,331.2 L102.5,331.2 L101.6,331.1 L100.8,331.0 L99.9,330.9 L99.1,330.9 L98.2,330.9 L97.3,331.0 L96.5,331.1 L95.6,331.2 L94.8,331.4 L93.9,331.5 L93.1,331.6 L92.2,331.7 L91.3,331.7 L90.5,331.6 L89.6,331.5 L88.8,331.4 L87.9,331.3 L87.1,331.2 L86.2,331.2 L85.3,331.2 L84.5,331.3 L83.6,331.4 L82.8,331.5 L81.9,331.6 L81.1,331.7 L80.2,331.7 L79.3,331.7 L78.5,331.7 L77.6,331.6 L76.8,331.5 L75.9,331.5 L75.1,331.4 L74.2,331.4 L73.3,331.4 L72.5,331.4 L71.6,331.4 L70.8,331.4 L69.9,331.4 L69.1,331.4 L68.2,331.4 L67.3,331.4 L66.5,331.4 L65.6,331.4 L64.8,331.4 L63.9,331.4 L63.1,331.4 L62.2,331.4 L61.3,331.4 L60.5,331.4 L59.6,331.4 L58.8,331.5 L57.9,331.5 L57.1,331.5 L56.2,331.5 L55.3,331.5 L54.3,331.4 L53.3,331.4 L52.4,331.4 L51.5,331.4 L50.7,331.3 L50.2,331.3 Z" fill="#A58AFF" fill-opacity="0.22" stroke="none"/>
<path d="M50.2,327.0 L50.8,327.3 L51.8,327.8 L52.8,328.3 L53.9,328.8 L54.9,329.3 L55.8,329.7 L56.6,330.2 L57.4,330.6 L58.2,330.9 L59.0,331.0 L59.8,330.9 L60.6,330.6 L61.4,330.1 L62.2,329.7 L63.0,329.3 L63.9,328.9 L64.7,328.6 L65.6,328.2 L66.5,327.6 L67.3,327.0 L68.2,326.3 L69.1,325.5 L70.1,324.8 L71.1,324.1 L72.0,323.6 L73.0,323.1 L74.0,322.6 L75.0,322.2 L75.9,321.9 L76.8,321.8 L77.7,321.9 L78.6,322.4 L79.3,322.9 L80.1,323.3 L80.9,323.5 L81.7,323.3 L82.6,322.8 L83.4,322.3 L84.2,321.9 L84.9,321.8 L85.9,322.5 L86.9,323.9 L87.8,325.3 L88.7,327.0 L89.7,328.9 L90.7,329.9 L91.5,329.7 L92.4,328.8 L93.2,327.8 L94.1,327.0 L95.0,326.5 L95.8,326.2 L96.7,325.9 L97.6,325.3 L98.5,324.3 L99.4,323.1 L100.2,321.9 L101.1,321.2 L102.0,321.0 L102.8,321.1 L103.6,321.6 L104.5,322.4 L105.4,323.8 L106.2,325.7 L107.1,327.7 L108.0,321.8 L108.9,323.1 L109.8,324.2 L110.6,324.8 L111.4,324.7 L112.2,322.9 L112.8,319.9 L113.5,316.5 L114.4,312.5 L115.3,308.2 L116.2,304.9 L117.0,303.2 L117.7,302.5 L118.5,302.5 L119.3,302.9 L120.0,304.0 L120.8,305.7 L121.6,308.3 L122.3,311.5 L123.1,314.9 L123.9,318.5 L124.6,322.2 L125.4,325.5 L126.2,328.1 L127.0,330.3 L127.7,332.0 L128.6,333.6 L129.5,334.1 L130.1,333.8 L130.7,333.1 L131.5,332.0 L132.2,331.0 L132.9,329.7 L133.7,328.4 L134.6,327.2 L135.4,326.4 L136.4,325.6 L137.3,324.8 L138.3,324.1 L139.2,323.3 L140.2,322.5 L141.2,321.7 L142.1,320.8 L143.1,319.5 L144.1,317.5 L145.0,314.9 L145.9,312.4 L146.9,310.3 L147.9,308.8 L148.9,307.8 L149.8,306.8 L150.8,305.7 L151.7,304.3 L152.7,302.9 L153.6,301.5 L154.6,300.3 L155.5,299.6 L156.4,299.2 L157.4,298.8 L158.3,298.3 L159.2,297.5 L160.2,296.2 L161.2,294.6 L162.1,292.8 L163.1,291.0 L164.1,289.0 L165.0,286.8 L166.0,284.6 L166.9,282.6 L167.8,280.8 L168.8,279.0 L169.7,277.6 L170.5,276.8 L171.4,277.1 L172.3,278.4 L173.3,278.9 L174.1,278.4 L175.0,277.4 L175.9,276.2 L176.8,275.2 L177.6,274.7 L178.6,274.8 L179.5,275.7 L180.4,276.8 L181.4,278.3 L182.3,280.1 L183.2,281.7 L183.9,283.1 L184.5,284.2 L185.3,284.6 L186.1,284.2 L187.1,283.2 L188.0,282.0 L188.9,281.0 L189.8,279.8 L190.7,278.6 L191.7,277.5 L192.4,277.0 L193.2,276.5 L194.1,276.1 L195.0,275.7 L195.9,275.4 L196.7,275.2 L197.6,275.0 L198.5,274.9 L199.4,274.8 L200.3,274.8 L201.1,274.8 L202.0,274.9 L202.9,275.1 L203.7,275.3 L204.5,275.6 L205.2,275.9 L206.0,276.4 L206.8,277.1 L207.5,277.8 L208.3,278.4 L209.0,279.0 L209.8,279.7 L210.6,280.3 L211.5,280.6 L212.3,280.5 L213.1,279.8 L213.9,278.6 L214.7,277.2 L215.6,275.7 L216.5,274.5 L217.3,273.6 L218.2,272.7 L219.1,271.8 L219.9,271.1 L220.8,270.5 L221.6,270.2 L222.5,270.2 L223.3,270.6 L224.1,271.2 L224.9,271.8 L225.7,272.3 L226.5,272.6 L227.3,272.9 L228.2,273.1 L229.0,273.4 L229.8,273.8 L230.6,274.3 L231.5,275.0 L232.3,275.7 L233.1,276.3 L233.9,277.0 L234.8,277.9 L235.6,279.0 L236.4,279.8 L237.3,280.0 L238.2,279.3 L239.1,277.9 L240.1,276.5 L241.2,275.7 L242.0,275.6 L242.9,275.7 L243.8,275.9 L244.8,276.3 L245.7,276.7 L246.5,277.2 L247.6,277.9 L248.5,278.6 L249.5,279.6 L250.4,281.0 L251.3,283.0 L252.2,285.4 L253.1,287.9 L254.2,290.0 L255.0,291.2 L255.9,292.3 L256.9,293.3 L257.9,294.2 L258.8,295.0 L259.6,295.7 L260.7,296.5 L261.7,297.1 L262.6,297.4 L263.5,297.2 L264.5,296.5 L265.4,295.3 L266.3,293.9 L267.3,292.6 L268.3,291.1 L269.3,289.3 L270.2,287.8 L271.2,287.2 L272.1,287.7 L273.1,289.0 L274.0,290.7 L275.0,292.6 L275.9,294.3 L276.9,296.4 L277.8,298.6 L278.8,300.5 L279.6,302.0 L280.4,303.1 L281.1,303.6 L281.8,303.9 L282.7,304.1 L283.5,304.3 L284.3,304.4 L285.3,304.5 L286.2,304.5 L287.2,304.4 L288.1,304.1 L289.0,303.6 L289.9,302.8 L290.8,301.9 L291.6,301.0 L292.6,300.2 L293.5,299.5 L294.4,299.0 L295.4,298.6 L296.4,298.2 L297.4,297.9 L298.3,297.6 L299.0,297.4 L299.6,297.2 L299.6,318.2 L299.0,318.4 L298.3,318.6 L297.4,318.9 L296.4,319.2 L295.4,319.6 L294.4,320.0 L293.5,320.5 L292.6,321.2 L291.6,322.0 L290.8,322.9 L289.9,323.8 L289.0,324.6 L288.1,325.1 L287.2,325.4 L286.2,325.5 L285.3,325.5 L284.3,325.4 L283.5,325.3 L282.7,325.1 L281.8,324.9 L281.1,324.6 L280.4,324.1 L279.6,323.0 L278.8,321.5 L277.8,319.6 L276.9,317.4 L275.9,315.3 L275.0,313.6 L274.0,311.7 L273.1,310.0 L272.1,308.7 L271.2,308.2 L270.2,308.8 L269.3,310.3 L268.3,312.1 L267.3,313.6 L266.3,314.9 L265.4,316.3 L264.5,317.5 L263.5,318.2 L262.6,318.4 L261.7,318.1 L260.7,317.5 L259.6,316.7 L258.8,316.0 L257.9,315.2 L256.9,314.3 L255.9,313.3 L255.0,312.2 L254.2,311.0 L253.1,308.9 L252.2,306.4 L251.3,304.0 L250.4,302.0 L249.5,300.6 L248.5,299.6 L247.6,298.9 L246.5,298.2 L245.7,297.7 L244.8,297.3 L243.8,296.9 L242.9,296.7 L242.0,296.6 L241.2,296.7 L240.1,297.5 L239.1,298.9 L238.2,300.3 L237.3,301.0 L236.4,300.8 L235.6,300.0 L234.8,298.9 L233.9,298.0 L233.1,297.3 L232.3,296.7 L231.5,296.0 L230.6,295.3 L229.8,294.8 L229.0,294.4 L228.2,294.1 L227.3,293.9 L226.5,293.6 L225.7,293.3 L224.9,292.8 L224.1,292.2 L223.3,291.6 L222.5,291.2 L221.6,291.2 L220.8,291.5 L219.9,292.1 L219.1,292.8 L218.2,293.7 L217.3,294.6 L216.5,295.5 L215.6,296.7 L214.7,298.2 L213.9,299.6 L213.1,300.8 L212.3,301.5 L211.5,301.6 L210.6,301.3 L209.8,300.7 L209.0,300.0 L208.3,299.4 L207.5,298.8 L206.8,298.1 L206.0,297.4 L205.2,296.9 L204.5,296.6 L203.7,296.3 L202.9,296.1 L202.0,295.9 L201.1,295.8 L200.3,295.8 L199.4,295.8 L198.5,295.9 L197.6,296.0 L196.7,296.2 L195.9,296.4 L195.0,296.7 L194.1,297.1 L193.2,297.5 L192.4,298.0 L191.7,298.5 L190.7,299.6 L189.8,300.8 L188.9,302.0 L188.0,303.0 L187.1,304.2 L186.1,305.2 L185.3,305.6 L184.5,305.2 L183.9,304.1 L183.2,302.7 L182.3,301.1 L181.4,299.3 L180.4,297.8 L179.5,296.7 L178.6,295.8 L177.6,295.7 L176.8,296.2 L175.9,297.2 L175.0,298.4 L174.1,299.4 L173.3,299.9 L172.3,299.4 L171.4,298.1 L170.5,297.8 L169.7,298.6 L168.8,300.0 L167.8,301.8 L166.9,303.6 L166.0,305.6 L165.0,307.8 L164.1,310.0 L163.1,312.0 L162.1,313.8 L161.2,315.6 L160.2,317.2 L159.2,318.5 L158.3,319.3 L157.4,319.8 L156.4,320.2 L155.5,320.6 L154.6,321.3 L153.6,322.5 L152.7,323.9 L151.7,325.3 L150.8,326.7 L149.8,327.8 L148.9,328.8 L147.9,329.8 L146.9,331.3 L145.9,333.4 L145.0,335.9 L144.1,338.5 L143.1,340.5 L142.1,341.8 L141.2,342.7 L140.2,343.5 L139.2,344.3 L138.3,345.1 L137.3,345.8 L136.4,346.6 L135.4,347.4 L134.6,348.2 L133.7,349.4 L132.9,350.7 L132.2,352.0 L131.5,353.0 L130.7,354.1 L130.1,354.8 L129.5,355.1 L128.6,354.6 L127.7,353.0 L127.0,351.3 L126.2,349.1 L125.4,346.5 L124.6,343.2 L123.9,339.5 L123.1,335.9 L122.3,332.5 L121.6,329.3 L120.8,326.7 L120.0,325.0 L119.3,323.9 L118.5,323.5 L117.7,323.5 L117.0,324.2 L116.2,325.9 L115.3,329.2 L114.4,333.5 L113.5,337.5 L112.8,340.9 L112.2,343.9 L111.4,345.7 L110.6,345.8 L109.8,345.2 L108.9,344.1 L108.0,342.8 L107.1,333.7 L106.2,331.7 L105.4,329.8 L104.5,328.4 L103.6,327.6 L102.8,327.1 L102.0,327.0 L101.1,327.2 L100.2,327.9 L99.4,329.1 L98.5,330.3 L97.6,331.3 L96.7,331.9 L95.8,332.2 L95.0,332.5 L94.1,333.0 L93.2,333.8 L92.4,334.8 L91.5,335.7 L90.7,335.9 L89.7,334.9 L88.7,333.0 L87.8,331.3 L86.9,329.9 L85.9,328.5 L84.9,327.8 L84.2,327.9 L83.4,328.3 L82.6,328.8 L81.7,329.3 L80.9,329.5 L80.1,329.3 L79.3,328.9 L78.6,328.4 L77.7,327.9 L76.8,327.8 L75.9,327.9 L75.0,328.2 L74.0,328.6 L73.0,329.1 L72.0,329.6 L71.1,330.1 L70.1,330.8 L69.1,331.5 L68.2,332.3 L67.3,333.0 L66.5,333.6 L65.6,334.2 L64.7,334.6 L63.9,334.9 L63.0,335.3 L62.2,335.7 L61.4,336.1 L60.6,336.6 L59.8,336.9 L59.0,337.0 L58.2,336.9 L57.4,336.6 L56.6,336.2 L55.8,335.7 L54.9,335.3 L53.9,334.8 L52.8,334.3 L51.8,333.8 L50.8,333.3 L50.2,333.0 Z" fill="#FB61D7" fill-opacity="0.22" stroke="none"/>
<path d="M50.20,329.74 C51.20,329.76 53.88,330.21 56.20,329.87 C58.52,329.53 61.92,328.75 64.10,327.70 C66.28,326.65 67.85,323.98 69.30,323.60 C70.75,323.22 71.55,324.43 72.80,325.40 C74.05,326.37 75.17,328.35 76.80,329.40 C78.43,330.45 80.87,331.42 82.60,331.70 C84.33,331.98 85.63,331.38 87.20,331.10 C88.77,330.82 90.20,330.35 92.00,330.00 C93.80,329.65 96.00,328.92 98.00,329.00 C100.00,329.08 102.00,330.20 104.00,330.50 C106.00,330.80 108.37,331.65 110.00,330.80 C111.63,329.95 112.65,327.45 113.80,325.40 C114.95,323.35 116.00,319.53 116.90,318.50 C117.80,317.47 118.30,318.43 119.20,319.20 C120.10,319.97 121.27,321.72 122.30,323.10 C123.33,324.48 124.50,327.25 125.40,327.50 C126.30,327.75 126.80,326.75 127.70,324.60 C128.60,322.45 129.65,317.55 130.80,314.60 C131.95,311.65 133.58,308.30 134.60,306.90 C135.62,305.50 136.00,305.82 136.90,306.20 C137.80,306.58 138.97,308.05 140.00,309.20 C141.03,310.35 141.95,313.48 143.10,313.10 C144.25,312.72 145.50,309.72 146.90,306.90 C148.30,304.08 149.95,299.00 151.50,296.20 C153.05,293.40 154.68,291.35 156.20,290.10 C157.72,288.85 159.38,290.10 160.60,288.70 C161.82,287.30 162.32,284.63 163.50,281.70 C164.68,278.77 166.53,273.45 167.70,271.10 C168.87,268.75 169.33,267.83 170.50,267.60 C171.67,267.37 173.28,269.00 174.70,269.70 C176.12,270.40 177.58,271.10 179.00,271.80 C180.42,272.50 181.80,273.32 183.20,273.90 C184.60,274.48 185.98,275.42 187.40,275.30 C188.82,275.18 190.28,273.43 191.70,273.20 C193.12,272.97 194.52,273.67 195.90,273.90 C197.28,274.13 198.48,274.48 200.00,274.60 C201.52,274.72 203.33,274.65 205.00,274.60 C206.67,274.55 208.60,274.57 210.00,274.30 C211.40,274.03 212.40,272.62 213.40,273.00 C214.40,273.38 214.80,275.32 216.00,276.60 C217.20,277.88 219.15,279.05 220.60,280.70 C222.05,282.35 223.33,285.12 224.70,286.50 C226.07,287.88 227.33,288.22 228.80,289.00 C230.27,289.78 231.97,290.37 233.50,291.20 C235.03,292.03 236.72,292.78 238.00,294.00 C239.28,295.22 239.65,296.35 241.20,298.50 C242.75,300.65 245.25,303.83 247.30,306.90 C249.35,309.97 251.32,313.68 253.50,316.90 C255.68,320.12 258.35,326.20 260.40,326.20 C262.45,326.20 264.40,318.70 265.80,316.90 C267.20,315.10 267.52,314.37 268.80,315.40 C270.08,316.43 271.95,320.67 273.50,323.10 C275.05,325.53 276.32,329.10 278.10,330.00 C279.88,330.90 282.42,328.63 284.20,328.50 C285.98,328.37 287.00,328.70 288.80,329.20 C290.60,329.70 293.07,331.75 295.00,331.50 C296.93,331.25 299.50,328.33 300.40,327.70" fill="none" stroke="#F8766D" stroke-width="1.8" stroke-linejoin="round"/>
<path d="M50.20,329.96 C51.20,330.01 54.20,330.18 56.20,330.22 C58.20,330.27 60.20,330.35 62.20,330.23 C64.20,330.11 66.20,329.65 68.20,329.50 C70.20,329.35 72.20,329.26 74.20,329.32 C76.20,329.37 78.20,329.76 80.20,329.82 C82.20,329.89 84.20,329.58 86.20,329.68 C88.20,329.79 90.20,330.34 92.20,330.43 C94.20,330.53 96.20,330.32 98.20,330.27 C100.20,330.22 102.20,330.17 104.20,330.14 C106.20,330.11 108.73,330.27 110.20,330.08 C111.67,329.89 112.03,330.35 113.00,329.00 C113.97,327.65 114.97,324.40 116.00,322.00 C117.03,319.60 118.15,316.47 119.20,314.60 C120.25,312.73 121.27,311.70 122.30,310.80 C123.33,309.90 124.37,309.20 125.40,309.20 C126.43,309.20 127.48,309.63 128.50,310.80 C129.52,311.97 130.35,314.67 131.50,316.20 C132.65,317.73 134.12,319.23 135.40,320.00 C136.68,320.77 138.05,320.93 139.20,320.80 C140.35,320.67 141.02,321.00 142.30,319.20 C143.58,317.40 145.37,313.33 146.90,310.00 C148.43,306.67 150.15,303.03 151.50,299.20 C152.85,295.37 153.58,290.37 155.00,287.00 C156.42,283.63 158.12,282.12 160.00,279.00 C161.88,275.88 164.55,271.38 166.30,268.30 C168.05,265.22 169.10,262.38 170.50,260.50 C171.90,258.62 173.28,257.00 174.70,257.00 C176.12,257.00 177.58,258.27 179.00,260.50 C180.42,262.73 181.80,268.05 183.20,270.40 C184.60,272.75 186.22,273.72 187.40,274.60 C188.58,275.48 189.12,275.93 190.30,275.70 C191.48,275.47 193.20,274.42 194.50,273.20 C195.80,271.98 196.82,269.53 198.10,268.40 C199.38,267.27 201.02,266.48 202.20,266.40 C203.38,266.32 204.18,267.38 205.20,267.90 C206.22,268.42 207.27,269.15 208.30,269.50 C209.33,269.85 210.37,269.75 211.40,270.00 C212.43,270.25 213.48,270.48 214.50,271.00 C215.52,271.52 216.65,272.17 217.50,273.10 C218.35,274.03 218.73,275.33 219.60,276.60 C220.47,277.87 221.68,278.98 222.70,280.70 C223.72,282.42 224.68,285.42 225.70,286.90 C226.72,288.38 227.50,289.28 228.80,289.60 C230.10,289.92 231.95,289.05 233.50,288.80 C235.05,288.55 236.82,287.77 238.10,288.10 C239.38,288.43 239.67,289.07 241.20,290.80 C242.73,292.53 245.00,296.20 247.30,298.50 C249.60,300.80 252.68,301.92 255.00,304.60 C257.32,307.28 259.40,312.93 261.20,314.60 C263.00,316.27 264.02,315.23 265.80,314.60 C267.58,313.97 269.85,310.80 271.90,310.80 C273.95,310.80 276.05,314.22 278.10,314.60 C280.15,314.98 281.90,313.35 284.20,313.10 C286.50,312.85 289.20,313.48 291.90,313.10 C294.60,312.72 298.98,311.18 300.40,310.80" fill="none" stroke="#C49A00" stroke-width="1.8" stroke-linejoin="round"/>
<path d="M50.20,329.46 C51.20,329.56 54.20,329.96 56.20,330.06 C58.20,330.16 60.20,330.02 62.20,330.06 C64.20,330.10 66.20,330.41 68.20,330.29 C70.20,330.17 72.20,329.50 74.20,329.36 C76.20,329.22 78.20,329.43 80.20,329.42 C82.20,329.41 84.20,329.31 86.20,329.31 C88.20,329.30 90.20,329.28 92.20,329.42 C94.20,329.55 96.20,330.15 98.20,330.13 C100.20,330.11 102.20,329.33 104.20,329.28 C106.20,329.23 108.73,329.89 110.20,329.84 C111.67,329.80 112.00,331.02 113.00,329.00 C114.00,326.98 115.17,320.10 116.20,317.70 C117.23,315.30 118.18,314.60 119.20,314.60 C120.22,314.60 121.27,316.67 122.30,317.70 C123.33,318.73 124.37,320.55 125.40,320.80 C126.43,321.05 127.35,318.82 128.50,319.20 C129.65,319.58 131.15,321.93 132.30,323.10 C133.45,324.27 134.37,325.82 135.40,326.20 C136.43,326.58 137.35,326.18 138.50,325.40 C139.65,324.62 140.90,323.82 142.30,321.50 C143.70,319.18 145.37,315.22 146.90,311.50 C148.43,307.78 150.15,303.23 151.50,299.20 C152.85,295.17 153.48,290.93 155.00,287.30 C156.52,283.67 158.72,280.92 160.60,277.40 C162.48,273.88 164.65,269.48 166.30,266.20 C167.95,262.92 169.10,259.82 170.50,257.70 C171.90,255.58 173.28,253.97 174.70,253.50 C176.12,253.03 177.58,254.20 179.00,254.90 C180.42,255.60 181.80,256.77 183.20,257.70 C184.60,258.63 185.98,259.92 187.40,260.50 C188.82,261.08 190.28,260.85 191.70,261.20 C193.12,261.55 194.50,262.17 195.90,262.60 C197.30,263.03 198.55,263.33 200.10,263.80 C201.65,264.27 203.83,264.97 205.20,265.40 C206.57,265.83 207.27,266.48 208.30,266.40 C209.33,266.32 210.20,264.82 211.40,264.90 C212.60,264.98 214.13,266.22 215.50,266.90 C216.87,267.58 218.23,268.48 219.60,269.00 C220.97,269.52 222.33,269.32 223.70,270.00 C225.07,270.68 226.43,272.08 227.80,273.10 C229.17,274.12 230.53,275.33 231.90,276.10 C233.27,276.87 234.63,277.18 236.00,277.70 C237.37,278.22 238.60,278.70 240.10,279.20 C241.60,279.70 243.28,279.98 245.00,280.70 C246.72,281.42 248.73,281.45 250.40,283.50 C252.07,285.55 253.72,289.75 255.00,293.00 C256.28,296.25 256.82,300.68 258.10,303.00 C259.38,305.32 260.92,306.25 262.70,306.90 C264.48,307.55 266.75,306.63 268.80,306.90 C270.85,307.17 272.93,307.98 275.00,308.50 C277.07,309.02 279.15,309.50 281.20,310.00 C283.25,310.50 285.25,310.73 287.30,311.50 C289.35,312.27 291.32,313.18 293.50,314.60 C295.68,316.02 299.25,319.10 300.40,320.00" fill="none" stroke="#53B400" stroke-width="1.8" stroke-linejoin="round"/>
<path d="M50.20,329.03 C51.20,329.15 54.20,329.63 56.20,329.74 C58.20,329.85 60.20,329.63 62.20,329.68 C64.20,329.73 66.20,330.10 68.20,330.03 C70.20,329.95 72.20,329.36 74.20,329.23 C76.20,329.09 78.20,329.11 80.20,329.21 C82.20,329.30 84.20,329.70 86.20,329.78 C88.20,329.86 90.20,329.78 92.20,329.69 C94.20,329.60 96.20,329.26 98.20,329.26 C100.20,329.27 102.20,329.70 104.20,329.72 C106.20,329.74 108.73,329.58 110.20,329.38 C111.67,329.17 112.00,330.40 113.00,328.50 C114.00,326.60 115.17,320.08 116.20,318.00 C117.23,315.92 118.18,315.92 119.20,316.00 C120.22,316.08 121.27,317.75 122.30,318.50 C123.33,319.25 124.37,320.17 125.40,320.50 C126.43,320.83 127.48,321.08 128.50,320.50 C129.52,319.92 130.22,317.08 131.50,317.00 C132.78,316.92 134.65,319.50 136.20,320.00 C137.75,320.50 139.53,320.33 140.80,320.00 C142.07,319.67 142.78,319.58 143.80,318.00 C144.82,316.42 145.62,313.92 146.90,310.50 C148.18,307.08 150.15,301.08 151.50,297.50 C152.85,293.92 153.48,291.92 155.00,289.00 C156.52,286.08 158.72,283.33 160.60,280.00 C162.48,276.67 164.65,272.02 166.30,269.00 C167.95,265.98 169.10,263.32 170.50,261.90 C171.90,260.48 173.28,260.50 174.70,260.50 C176.12,260.50 177.58,261.20 179.00,261.90 C180.42,262.60 181.80,263.87 183.20,264.70 C184.60,265.53 185.98,266.53 187.40,266.90 C188.82,267.27 190.28,267.38 191.70,266.90 C193.12,266.42 194.50,264.77 195.90,264.00 C197.30,263.23 198.55,262.83 200.10,262.30 C201.65,261.77 203.48,260.97 205.20,260.80 C206.92,260.63 208.68,261.13 210.40,261.30 C212.12,261.47 213.80,261.55 215.50,261.80 C217.20,262.05 218.90,262.47 220.60,262.80 C222.30,263.13 223.98,263.37 225.70,263.80 C227.42,264.23 229.18,264.88 230.90,265.40 C232.62,265.92 234.63,266.22 236.00,266.90 C237.37,267.58 237.77,268.65 239.10,269.50 C240.43,270.35 242.38,270.70 244.00,272.00 C245.62,273.30 246.97,274.88 248.80,277.30 C250.63,279.72 252.93,283.68 255.00,286.50 C257.07,289.32 259.53,292.70 261.20,294.20 C262.87,295.70 263.47,295.43 265.00,295.50 C266.53,295.57 268.48,293.85 270.40,294.60 C272.32,295.35 274.45,298.47 276.50,300.00 C278.55,301.53 280.65,302.90 282.70,303.80 C284.75,304.70 287.00,304.62 288.80,305.40 C290.60,306.18 291.57,307.87 293.50,308.50 C295.43,309.13 299.25,309.08 300.40,309.20" fill="none" stroke="#00C094" stroke-width="1.8" stroke-linejoin="round"/>
<path d="M50.20,329.36 C51.20,329.17 54.20,328.26 56.20,328.21 C58.20,328.17 60.20,329.05 62.20,329.08 C64.20,329.11 66.20,328.34 68.20,328.39 C70.20,328.44 72.20,329.41 74.20,329.38 C76.20,329.36 78.20,328.24 80.20,328.22 C82.20,328.20 84.20,329.12 86.20,329.26 C88.20,329.39 90.20,329.02 92.20,329.02 C94.20,329.01 96.20,329.17 98.20,329.23 C100.20,329.29 102.20,329.52 104.20,329.40 C106.20,329.28 108.73,329.22 110.20,328.49 C111.67,327.75 112.00,327.00 113.00,325.00 C114.00,323.00 115.17,318.17 116.20,316.50 C117.23,314.83 118.18,314.92 119.20,315.00 C120.22,315.08 121.27,316.42 122.30,317.00 C123.33,317.58 124.37,318.25 125.40,318.50 C126.43,318.75 127.48,319.08 128.50,318.50 C129.52,317.92 130.22,315.08 131.50,315.00 C132.78,314.92 134.65,317.50 136.20,318.00 C137.75,318.50 139.53,318.25 140.80,318.00 C142.07,317.75 142.78,317.92 143.80,316.50 C144.82,315.08 145.73,312.63 146.90,309.50 C148.07,306.37 149.45,301.17 150.80,297.70 C152.15,294.23 153.37,291.60 155.00,288.70 C156.63,285.80 158.72,283.35 160.60,280.30 C162.48,277.25 164.65,273.23 166.30,270.40 C167.95,267.57 169.10,264.83 170.50,263.30 C171.90,261.77 173.28,260.97 174.70,261.20 C176.12,261.43 177.58,263.40 179.00,264.70 C180.42,266.00 181.80,267.70 183.20,269.00 C184.60,270.30 185.98,271.68 187.40,272.50 C188.82,273.32 190.28,273.67 191.70,273.90 C193.12,274.13 194.50,273.95 195.90,273.90 C197.30,273.85 198.55,273.73 200.10,273.60 C201.65,273.47 203.48,273.45 205.20,273.10 C206.92,272.75 208.68,272.37 210.40,271.50 C212.12,270.63 213.80,268.67 215.50,267.90 C217.20,267.13 218.90,266.90 220.60,266.90 C222.30,266.90 223.98,267.55 225.70,267.90 C227.42,268.25 229.18,268.57 230.90,269.00 C232.62,269.43 234.30,270.08 236.00,270.50 C237.70,270.92 239.47,271.17 241.10,271.50 C242.73,271.83 244.25,271.08 245.80,272.50 C247.35,273.92 248.62,277.47 250.40,280.00 C252.18,282.53 254.45,285.40 256.50,287.70 C258.55,290.00 260.38,293.55 262.70,293.80 C265.02,294.05 268.10,288.68 270.40,289.20 C272.70,289.72 274.45,294.58 276.50,296.90 C278.55,299.22 280.90,302.58 282.70,303.10 C284.50,303.62 285.50,300.00 287.30,300.00 C289.10,300.00 291.32,301.95 293.50,303.10 C295.68,304.25 299.25,306.27 300.40,306.90" fill="none" stroke="#00B6EB" stroke-width="1.8" stroke-linejoin="round"/>
<path d="M50.20,329.33 C51.20,329.36 54.20,329.47 56.20,329.48 C58.20,329.49 60.20,329.41 62.20,329.40 C64.20,329.39 66.20,329.44 68.20,329.44 C70.20,329.43 72.20,329.35 74.20,329.39 C76.20,329.43 78.20,329.72 80.20,329.69 C82.20,329.66 84.20,329.22 86.20,329.21 C88.20,329.21 90.20,329.71 92.20,329.66 C94.20,329.61 96.20,328.98 98.20,328.91 C100.20,328.85 102.20,329.20 104.20,329.26 C106.20,329.33 108.73,329.43 110.20,329.30 C111.67,329.18 112.00,330.38 113.00,328.50 C114.00,326.62 115.17,320.08 116.20,318.00 C117.23,315.92 118.18,316.00 119.20,316.00 C120.22,316.00 121.27,317.42 122.30,318.00 C123.33,318.58 124.63,319.03 125.40,319.50 C126.17,319.97 125.88,321.48 126.90,320.80 C127.92,320.12 129.95,315.78 131.50,315.40 C133.05,315.02 134.65,317.98 136.20,318.50 C137.75,319.02 139.53,318.75 140.80,318.50 C142.07,318.25 142.78,318.42 143.80,317.00 C144.82,315.58 145.62,313.25 146.90,310.00 C148.18,306.75 150.15,300.82 151.50,297.50 C152.85,294.18 153.48,291.77 155.00,290.10 C156.52,288.43 158.72,289.02 160.60,287.50 C162.48,285.98 164.65,282.80 166.30,281.00 C167.95,279.20 169.10,277.65 170.50,276.70 C171.90,275.75 173.28,275.30 174.70,275.30 C176.12,275.30 177.58,276.23 179.00,276.70 C180.42,277.17 181.80,277.62 183.20,278.10 C184.60,278.58 185.98,278.88 187.40,279.60 C188.82,280.32 190.28,282.65 191.70,282.40 C193.12,282.15 194.50,279.23 195.90,278.10 C197.30,276.97 198.55,276.18 200.10,275.60 C201.65,275.02 203.48,274.85 205.20,274.60 C206.92,274.35 208.68,274.35 210.40,274.10 C212.12,273.85 213.80,273.62 215.50,273.10 C217.20,272.58 218.90,271.43 220.60,271.00 C222.30,270.57 223.98,270.58 225.70,270.50 C227.42,270.42 229.18,270.25 230.90,270.50 C232.62,270.75 234.30,271.32 236.00,272.00 C237.70,272.68 239.47,273.68 241.10,274.60 C242.73,275.52 244.00,276.02 245.80,277.50 C247.60,278.98 249.85,280.97 251.90,283.50 C253.95,286.03 256.30,290.20 258.10,292.70 C259.90,295.20 260.65,297.53 262.70,298.50 C264.75,299.47 268.10,297.48 270.40,298.50 C272.70,299.52 274.45,303.20 276.50,304.60 C278.55,306.00 280.65,306.13 282.70,306.90 C284.75,307.67 287.00,308.93 288.80,309.20 C290.60,309.47 291.57,308.23 293.50,308.50 C295.43,308.77 299.25,310.42 300.40,310.80" fill="none" stroke="#A58AFF" stroke-width="1.8" stroke-linejoin="round"/>
<path d="M50.20,330.00 C50.98,330.38 53.43,331.63 54.90,332.30 C56.37,332.97 57.65,334.00 59.00,334.00 C60.35,334.00 61.75,332.87 63.00,332.30 C64.25,331.73 65.15,331.47 66.50,330.60 C67.85,329.73 69.38,328.07 71.10,327.10 C72.82,326.13 75.17,324.90 76.80,324.80 C78.43,324.70 79.55,326.50 80.90,326.50 C82.25,326.50 83.75,324.50 84.90,324.80 C86.05,325.10 86.83,326.95 87.80,328.30 C88.77,329.65 89.65,332.62 90.70,332.90 C91.75,333.18 92.95,330.77 94.10,330.00 C95.25,329.23 96.43,329.27 97.60,328.30 C98.77,327.33 99.95,324.68 101.10,324.20 C102.25,323.72 103.35,324.05 104.50,325.40 C105.65,326.75 106.85,330.67 108.00,332.30 C109.15,333.93 110.48,336.08 111.40,335.20 C112.32,334.32 112.70,330.30 113.50,327.00 C114.30,323.70 115.37,317.73 116.20,315.40 C117.03,313.07 117.73,312.87 118.50,313.00 C119.27,313.13 120.03,314.13 120.80,316.20 C121.57,318.27 122.33,322.10 123.10,325.40 C123.87,328.70 124.63,333.15 125.40,336.00 C126.17,338.85 127.02,341.07 127.70,342.50 C128.38,343.93 128.87,344.60 129.50,344.60 C130.13,344.60 130.65,343.65 131.50,342.50 C132.35,341.35 133.32,339.15 134.60,337.70 C135.88,336.25 137.78,335.08 139.20,333.80 C140.62,332.52 141.82,332.17 143.10,330.00 C144.38,327.83 145.62,323.10 146.90,320.80 C148.18,318.50 149.52,317.87 150.80,316.20 C152.08,314.53 153.20,312.17 154.60,310.80 C156.00,309.43 157.78,309.55 159.20,308.00 C160.62,306.45 161.82,303.98 163.10,301.50 C164.38,299.02 165.67,295.47 166.90,293.10 C168.13,290.73 169.43,287.92 170.50,287.30 C171.57,286.68 172.12,289.75 173.30,289.40 C174.48,289.05 176.42,285.55 177.60,285.20 C178.78,284.85 179.47,286.13 180.40,287.30 C181.33,288.47 182.38,290.90 183.20,292.20 C184.02,293.50 184.35,295.22 185.30,295.10 C186.25,294.98 187.83,292.68 188.90,291.50 C189.97,290.32 190.53,288.93 191.70,288.00 C192.87,287.07 194.33,286.35 195.90,285.90 C197.47,285.45 199.55,285.22 201.10,285.30 C202.65,285.38 204.00,285.80 205.20,286.40 C206.40,287.00 207.12,288.13 208.30,288.90 C209.48,289.67 210.93,291.65 212.30,291.00 C213.67,290.35 214.95,286.72 216.50,285.00 C218.05,283.28 220.07,281.07 221.60,280.70 C223.13,280.33 224.33,282.20 225.70,282.80 C227.07,283.40 228.43,283.52 229.80,284.30 C231.17,285.08 232.65,286.47 233.90,287.50 C235.15,288.53 236.08,290.72 237.30,290.50 C238.52,290.28 239.67,286.67 241.20,286.20 C242.73,285.73 244.97,286.82 246.50,287.70 C248.03,288.58 249.12,289.37 250.40,291.50 C251.68,293.63 252.67,298.05 254.20,300.50 C255.73,302.95 258.05,305.00 259.60,306.20 C261.15,307.40 262.22,308.22 263.50,307.70 C264.78,307.18 266.02,304.77 267.30,303.10 C268.58,301.43 269.92,297.70 271.20,297.70 C272.48,297.70 273.60,300.63 275.00,303.10 C276.40,305.57 278.32,310.58 279.60,312.50 C280.88,314.42 281.28,314.25 282.70,314.60 C284.12,314.95 286.30,315.37 288.10,314.60 C289.90,313.83 291.58,311.15 293.50,310.00 C295.42,308.85 298.58,308.08 299.60,307.70" fill="none" stroke="#FB61D7" stroke-width="1.8" stroke-linejoin="round"/>
<line x1="50.30" y1="329.50" x2="367.00" y2="329.50" stroke="#000" stroke-width="1.6"/>
<line x1="98.55" y1="217.40" x2="98.55" y2="357.30" stroke="#000" stroke-width="1.5"/>
<line x1="50.30" y1="217.40" x2="50.30" y2="358.00" stroke="#000" stroke-width="1.4"/>
<line x1="49.60" y1="357.30" x2="367.00" y2="357.30" stroke="#000" stroke-width="1.4"/>
<line x1="47.30" y1="223.80" x2="50.30" y2="223.80" stroke="#222" stroke-width="1.25"/>
<text x="45.00" y="227.60" font-size="10.80" text-anchor="end" font-weight="normal" fill="#222222" style="color:#222222" >10</text>
<line x1="47.30" y1="244.90" x2="50.30" y2="244.90" stroke="#222" stroke-width="1.25"/>
<text x="45.00" y="248.70" font-size="10.80" text-anchor="end" font-weight="normal" fill="#222222" style="color:#222222" >8</text>
<line x1="47.30" y1="266.00" x2="50.30" y2="266.00" stroke="#222" stroke-width="1.25"/>
<text x="45.00" y="269.80" font-size="10.80" text-anchor="end" font-weight="normal" fill="#222222" style="color:#222222" >6</text>
<line x1="47.30" y1="287.10" x2="50.30" y2="287.10" stroke="#222" stroke-width="1.25"/>
<text x="45.00" y="290.90" font-size="10.80" text-anchor="end" font-weight="normal" fill="#222222" style="color:#222222" >4</text>
<line x1="47.30" y1="308.20" x2="50.30" y2="308.20" stroke="#222" stroke-width="1.25"/>
<text x="45.00" y="312.00" font-size="10.80" text-anchor="end" font-weight="normal" fill="#222222" style="color:#222222" >2</text>
<line x1="47.30" y1="329.30" x2="50.30" y2="329.30" stroke="#222" stroke-width="1.25"/>
<text x="45.00" y="333.10" font-size="10.80" text-anchor="end" font-weight="normal" fill="#222222" style="color:#222222" >0</text>
<line x1="47.30" y1="350.40" x2="50.30" y2="350.40" stroke="#222" stroke-width="1.25"/>
<text x="45.00" y="354.20" font-size="10.80" text-anchor="end" font-weight="normal" fill="#222222" style="color:#222222" >−2</text>
<line x1="50.20" y1="357.30" x2="50.20" y2="360.30" stroke="#222" stroke-width="1.25"/>
<text x="50.20" y="371.20" font-size="10.80" text-anchor="middle" font-weight="normal" fill="#222222" style="color:#222222" >−200</text>
<line x1="98.20" y1="357.30" x2="98.20" y2="360.30" stroke="#222" stroke-width="1.25"/>
<text x="98.20" y="371.20" font-size="10.80" text-anchor="middle" font-weight="normal" fill="#222222" style="color:#222222" >0</text>
<line x1="146.20" y1="357.30" x2="146.20" y2="360.30" stroke="#222" stroke-width="1.25"/>
<text x="146.20" y="371.20" font-size="10.80" text-anchor="middle" font-weight="normal" fill="#222222" style="color:#222222" >200</text>
<line x1="194.20" y1="357.30" x2="194.20" y2="360.30" stroke="#222" stroke-width="1.25"/>
<text x="194.20" y="371.20" font-size="10.80" text-anchor="middle" font-weight="normal" fill="#222222" style="color:#222222" >400</text>
<line x1="242.20" y1="357.30" x2="242.20" y2="360.30" stroke="#222" stroke-width="1.25"/>
<text x="242.20" y="371.20" font-size="10.80" text-anchor="middle" font-weight="normal" fill="#222222" style="color:#222222" >600</text>
<line x1="290.20" y1="357.30" x2="290.20" y2="360.30" stroke="#222" stroke-width="1.25"/>
<text x="290.20" y="371.20" font-size="10.80" text-anchor="middle" font-weight="normal" fill="#222222" style="color:#222222" >800</text>
<line x1="338.20" y1="357.30" x2="338.20" y2="360.30" stroke="#222" stroke-width="1.25"/>
<text x="338.20" y="371.20" font-size="10.80" text-anchor="middle" font-weight="normal" fill="#222222" style="color:#222222" >1000</text>
<text x="208.65" y="386.00" font-size="13.50" text-anchor="middle" font-weight="normal" fill="#000" style="color:#000" >Time (ms)</text>
<text x="0" y="0" font-size="13.25" text-anchor="middle" transform="translate(23.1,287.15) rotate(-90)">Amplitude (µ<tspan dx="0.7">V</tspan>)</text>
<rect x="308.00" y="176.30" width="19.90" height="18.80" fill="#F8766D" fill-opacity="0.25"/>
<line x1="309.30" y1="185.90" x2="326.60" y2="185.90" stroke="#F8766D" stroke-width="1.05"/>
<text x="335.30" y="190.20" font-size="10.40" text-anchor="start" font-weight="normal" fill="#000" style="color:#000" >STD1</text>
<rect x="308.00" y="197.05" width="19.90" height="18.80" fill="#C49A00" fill-opacity="0.25"/>
<line x1="309.30" y1="206.65" x2="326.60" y2="206.65" stroke="#C49A00" stroke-width="1.05"/>
<text x="335.30" y="210.95" font-size="10.40" text-anchor="start" font-weight="normal" fill="#000" style="color:#000" >STD2</text>
<rect x="308.00" y="217.80" width="19.90" height="18.80" fill="#53B400" fill-opacity="0.25"/>
<line x1="309.30" y1="227.40" x2="326.60" y2="227.40" stroke="#53B400" stroke-width="1.05"/>
<text x="335.30" y="231.70" font-size="10.40" text-anchor="start" font-weight="normal" fill="#000" style="color:#000" >STD3</text>
<rect x="308.00" y="238.55" width="19.90" height="18.80" fill="#00C094" fill-opacity="0.25"/>
<line x1="309.30" y1="248.15" x2="326.60" y2="248.15" stroke="#00C094" stroke-width="1.05"/>
<text x="335.30" y="252.45" font-size="10.40" text-anchor="start" font-weight="normal" fill="#000" style="color:#000" >STD4</text>
<rect x="308.00" y="259.30" width="19.90" height="18.80" fill="#00B6EB" fill-opacity="0.25"/>
<line x1="309.30" y1="268.90" x2="326.60" y2="268.90" stroke="#00B6EB" stroke-width="1.05"/>
<text x="335.30" y="273.20" font-size="10.40" text-anchor="start" font-weight="normal" fill="#000" style="color:#000" >STD5</text>
<rect x="308.00" y="280.05" width="19.90" height="18.80" fill="#A58AFF" fill-opacity="0.25"/>
<line x1="309.30" y1="289.65" x2="326.60" y2="289.65" stroke="#A58AFF" stroke-width="1.05"/>
<text x="335.30" y="293.95" font-size="10.40" text-anchor="start" font-weight="normal" fill="#000" style="color:#000" >STD6</text>
<rect x="308.00" y="300.80" width="19.90" height="18.80" fill="#FB61D7" fill-opacity="0.25"/>
<line x1="309.30" y1="310.40" x2="326.60" y2="310.40" stroke="#FB61D7" stroke-width="1.05"/>
<text x="335.30" y="314.70" font-size="10.40" text-anchor="start" font-weight="normal" fill="#000" style="color:#000" >STD7</text>
<text x="1.00" y="11.60" font-size="16.00" text-anchor="start" font-weight="bold" fill="#000" style="color:#000" >a</text>
<text x="1.60" y="218.00" font-size="16.00" text-anchor="start" font-weight="bold" fill="#000" style="color:#000" >b</text>
<text x="389.40" y="11.80" font-size="16.00" text-anchor="start" font-weight="bold" fill="#000" style="color:#000" >c</text>
<text x="389.40" y="218.00" font-size="16.00" text-anchor="start" font-weight="bold" fill="#000" style="color:#000" >d</text>
<line x1="438.40" y1="10.20" x2="438.40" y2="151.00" stroke="#000" stroke-width="1.4"/>
<line x1="437.70" y1="150.30" x2="665.60" y2="150.30" stroke="#000" stroke-width="1.4"/>
<line x1="435.40" y1="135.80" x2="438.40" y2="135.80" stroke="#222" stroke-width="1.25"/>
<text x="433.10" y="139.60" font-size="10.80" text-anchor="end" font-weight="normal" fill="#222222" style="color:#222222" >0</text>
<line x1="435.40" y1="88.40" x2="438.40" y2="88.40" stroke="#222" stroke-width="1.25"/>
<text x="433.10" y="92.20" font-size="10.80" text-anchor="end" font-weight="normal" fill="#222222" style="color:#222222" >5</text>
<line x1="435.40" y1="41.00" x2="438.40" y2="41.00" stroke="#222" stroke-width="1.25"/>
<text x="433.10" y="44.80" font-size="10.80" text-anchor="end" font-weight="normal" fill="#222222" style="color:#222222" >10</text>
<line x1="470.80" y1="150.30" x2="470.80" y2="153.30" stroke="#222" stroke-width="1.25"/>
<text x="470.80" y="164.20" font-size="10.80" text-anchor="middle" font-weight="normal" fill="#222222" style="color:#222222" >0back</text>
<line x1="524.90" y1="150.30" x2="524.90" y2="153.30" stroke="#222" stroke-width="1.25"/>
<text x="524.90" y="164.20" font-size="10.80" text-anchor="middle" font-weight="normal" fill="#222222" style="color:#222222" >1back</text>
<line x1="579.00" y1="150.30" x2="579.00" y2="153.30" stroke="#222" stroke-width="1.25"/>
<text x="579.00" y="164.20" font-size="10.80" text-anchor="middle" font-weight="normal" fill="#222222" style="color:#222222" >2back</text>
<line x1="633.10" y1="150.30" x2="633.10" y2="153.30" stroke="#222" stroke-width="1.25"/>
<text x="633.10" y="164.20" font-size="10.80" text-anchor="middle" font-weight="normal" fill="#222222" style="color:#222222" >3back</text>
<text x="552.00" y="179.70" font-size="13.20" text-anchor="middle" font-weight="normal" fill="#000" style="color:#000" >Objective task difficulty</text>
<text x="0" y="0" font-size="13.00" text-anchor="middle" transform="translate(410.7,80.85) rotate(-90)">p300 (µ<tspan dx="0.7">V</tspan>)</text>
<circle cx="464.80" cy="34.20" r="2.90" fill="#FEE5D9" fill-opacity="0.70"/>
<circle cx="467.60" cy="40.50" r="2.90" fill="#FEE5D9" fill-opacity="0.70"/>
<circle cx="464.80" cy="44.00" r="2.90" fill="#FEE5D9" fill-opacity="0.70"/>
<circle cx="468.30" cy="45.50" r="2.90" fill="#FEE5D9" fill-opacity="0.70"/>
<circle cx="480.30" cy="46.20" r="2.90" fill="#FEE5D9" fill-opacity="0.70"/>
<circle cx="465.50" cy="53.90" r="2.90" fill="#FEE5D9" fill-opacity="0.70"/>
<circle cx="464.10" cy="56.70" r="2.90" fill="#FEE5D9" fill-opacity="0.70"/>
<circle cx="468.30" cy="60.30" r="2.90" fill="#FEE5D9" fill-opacity="0.70"/>
<circle cx="463.40" cy="62.40" r="2.90" fill="#FEE5D9" fill-opacity="0.70"/>
<circle cx="466.20" cy="63.80" r="2.90" fill="#FEE5D9" fill-opacity="0.70"/>
<circle cx="461.30" cy="71.50" r="2.90" fill="#FEE5D9" fill-opacity="0.70"/>
<circle cx="474.00" cy="71.50" r="2.90" fill="#FEE5D9" fill-opacity="0.70"/>
<circle cx="476.10" cy="70.80" r="2.90" fill="#FEE5D9" fill-opacity="0.70"/>
<circle cx="481.70" cy="70.80" r="2.90" fill="#FEE5D9" fill-opacity="0.70"/>
<circle cx="461.30" cy="84.90" r="2.90" fill="#FEE5D9" fill-opacity="0.70"/>
<circle cx="466.90" cy="87.70" r="2.90" fill="#FEE5D9" fill-opacity="0.70"/>
<circle cx="474.00" cy="86.30" r="2.90" fill="#FEE5D9" fill-opacity="0.70"/>
<circle cx="473.30" cy="93.30" r="2.90" fill="#FEE5D9" fill-opacity="0.70"/>
<circle cx="478.90" cy="91.90" r="2.90" fill="#FEE5D9" fill-opacity="0.70"/>
<circle cx="476.80" cy="97.60" r="2.90" fill="#FEE5D9" fill-opacity="0.70"/>
<circle cx="471.20" cy="103.20" r="2.90" fill="#FEE5D9" fill-opacity="0.70"/>
<circle cx="474.70" cy="101.80" r="2.90" fill="#FEE5D9" fill-opacity="0.70"/>
<circle cx="472.60" cy="106.70" r="2.90" fill="#FEE5D9" fill-opacity="0.70"/>
<circle cx="480.30" cy="106.70" r="2.90" fill="#FEE5D9" fill-opacity="0.70"/>
<circle cx="463.40" cy="111.70" r="2.90" fill="#FEE5D9" fill-opacity="0.70"/>
<circle cx="460.60" cy="124.40" r="2.90" fill="#FEE5D9" fill-opacity="0.70"/>
<circle cx="474.00" cy="124.40" r="2.90" fill="#FEE5D9" fill-opacity="0.70"/>
<circle cx="531.20" cy="22.70" r="2.90" fill="#FCAE91" fill-opacity="0.70"/>
<circle cx="527.70" cy="30.40" r="2.90" fill="#FCAE91" fill-opacity="0.70"/>
<circle cx="529.50" cy="40.40" r="2.90" fill="#FCAE91" fill-opacity="0.70"/>
<circle cx="533.50" cy="41.20" r="2.90" fill="#FCAE91" fill-opacity="0.70"/>
<circle cx="516.20" cy="45.00" r="2.90" fill="#FCAE91" fill-opacity="0.70"/>
<circle cx="519.50" cy="46.50" r="2.90" fill="#FCAE91" fill-opacity="0.70"/>
<circle cx="535.10" cy="50.10" r="2.90" fill="#FCAE91" fill-opacity="0.70"/>
<circle cx="514.60" cy="56.50" r="2.90" fill="#FCAE91" fill-opacity="0.70"/>
<circle cx="519.70" cy="57.30" r="2.90" fill="#FCAE91" fill-opacity="0.70"/>
<circle cx="523.80" cy="61.90" r="2.90" fill="#FCAE91" fill-opacity="0.70"/>
<circle cx="521.50" cy="65.80" r="2.90" fill="#FCAE91" fill-opacity="0.70"/>
<circle cx="527.70" cy="66.40" r="2.90" fill="#FCAE91" fill-opacity="0.70"/>
<circle cx="515.40" cy="67.70" r="2.90" fill="#FCAE91" fill-opacity="0.70"/>
<circle cx="514.60" cy="70.20" r="2.90" fill="#FCAE91" fill-opacity="0.70"/>
<circle cx="517.40" cy="84.50" r="2.90" fill="#FCAE91" fill-opacity="0.70"/>
<circle cx="519.50" cy="82.40" r="2.90" fill="#FCAE91" fill-opacity="0.70"/>
<circle cx="518.40" cy="89.60" r="2.90" fill="#FCAE91" fill-opacity="0.70"/>
<circle cx="530.70" cy="84.50" r="2.90" fill="#FCAE91" fill-opacity="0.70"/>
<circle cx="533.80" cy="86.50" r="2.90" fill="#FCAE91" fill-opacity="0.70"/>
<circle cx="535.90" cy="89.20" r="2.90" fill="#FCAE91" fill-opacity="0.70"/>
<circle cx="532.80" cy="92.70" r="2.90" fill="#FCAE91" fill-opacity="0.70"/>
<circle cx="531.80" cy="95.70" r="2.90" fill="#FCAE91" fill-opacity="0.70"/>
<circle cx="528.70" cy="98.80" r="2.90" fill="#FCAE91" fill-opacity="0.70"/>
<circle cx="516.40" cy="100.90" r="2.90" fill="#FCAE91" fill-opacity="0.70"/>
<circle cx="521.50" cy="102.90" r="2.90" fill="#FCAE91" fill-opacity="0.70"/>
<circle cx="531.80" cy="102.90" r="2.90" fill="#FCAE91" fill-opacity="0.70"/>
<circle cx="514.30" cy="111.10" r="2.90" fill="#FCAE91" fill-opacity="0.70"/>
<circle cx="524.60" cy="118.70" r="2.90" fill="#FCAE91" fill-opacity="0.70"/>
<circle cx="530.70" cy="138.40" r="2.90" fill="#FCAE91" fill-opacity="0.70"/>
<circle cx="569.40" cy="16.80" r="2.90" fill="#FB6A4A" fill-opacity="0.70"/>
<circle cx="572.10" cy="29.40" r="2.90" fill="#FB6A4A" fill-opacity="0.70"/>
<circle cx="573.90" cy="47.70" r="2.90" fill="#FB6A4A" fill-opacity="0.70"/>
<circle cx="570.80" cy="58.10" r="2.90" fill="#FB6A4A" fill-opacity="0.70"/>
<circle cx="579.80" cy="58.50" r="2.90" fill="#FB6A4A" fill-opacity="0.70"/>
<circle cx="570.30" cy="63.00" r="2.90" fill="#FB6A4A" fill-opacity="0.70"/>
<circle cx="572.40" cy="65.70" r="2.90" fill="#FB6A4A" fill-opacity="0.70"/>
<circle cx="585.90" cy="65.70" r="2.90" fill="#FB6A4A" fill-opacity="0.70"/>
<circle cx="575.60" cy="71.90" r="2.90" fill="#FB6A4A" fill-opacity="0.70"/>
<circle cx="579.20" cy="73.20" r="2.90" fill="#FB6A4A" fill-opacity="0.70"/>
<circle cx="583.70" cy="71.00" r="2.90" fill="#FB6A4A" fill-opacity="0.70"/>
<circle cx="588.20" cy="74.60" r="2.90" fill="#FB6A4A" fill-opacity="0.70"/>
<circle cx="577.50" cy="74.80" r="2.90" fill="#FB6A4A" fill-opacity="0.70"/>
<circle cx="581.50" cy="75.20" r="2.90" fill="#FB6A4A" fill-opacity="0.70"/>
<circle cx="570.30" cy="78.20" r="2.90" fill="#FB6A4A" fill-opacity="0.70"/>
<circle cx="571.20" cy="81.70" r="2.90" fill="#FB6A4A" fill-opacity="0.70"/>
<circle cx="589.10" cy="84.40" r="2.90" fill="#FB6A4A" fill-opacity="0.70"/>
<circle cx="587.30" cy="87.10" r="2.90" fill="#FB6A4A" fill-opacity="0.70"/>
<circle cx="575.60" cy="88.90" r="2.90" fill="#FB6A4A" fill-opacity="0.70"/>
<circle cx="582.80" cy="91.50" r="2.90" fill="#FB6A4A" fill-opacity="0.70"/>
<circle cx="575.60" cy="97.80" r="2.90" fill="#FB6A4A" fill-opacity="0.70"/>
<circle cx="580.50" cy="98.70" r="2.90" fill="#FB6A4A" fill-opacity="0.70"/>
<circle cx="588.20" cy="97.80" r="2.90" fill="#FB6A4A" fill-opacity="0.70"/>
<circle cx="569.00" cy="105.00" r="2.90" fill="#FB6A4A" fill-opacity="0.70"/>
<circle cx="573.00" cy="107.30" r="2.90" fill="#FB6A4A" fill-opacity="0.70"/>
<circle cx="575.10" cy="106.80" r="2.90" fill="#FB6A4A" fill-opacity="0.70"/>
<circle cx="582.30" cy="107.70" r="2.90" fill="#FB6A4A" fill-opacity="0.70"/>
<circle cx="571.20" cy="112.20" r="2.90" fill="#FB6A4A" fill-opacity="0.70"/>
<circle cx="571.50" cy="116.30" r="2.90" fill="#FB6A4A" fill-opacity="0.70"/>
<circle cx="573.00" cy="121.70" r="2.90" fill="#FB6A4A" fill-opacity="0.70"/>
<circle cx="576.50" cy="126.00" r="2.90" fill="#FB6A4A" fill-opacity="0.70"/>
<circle cx="636.60" cy="31.70" r="2.90" fill="#CB181D" fill-opacity="0.70"/>
<circle cx="639.30" cy="49.30" r="2.90" fill="#CB181D" fill-opacity="0.70"/>
<circle cx="638.40" cy="55.00" r="2.90" fill="#CB181D" fill-opacity="0.70"/>
<circle cx="639.60" cy="59.10" r="2.90" fill="#CB181D" fill-opacity="0.70"/>
<circle cx="631.90" cy="56.40" r="2.90" fill="#CB181D" fill-opacity="0.70"/>
<circle cx="628.90" cy="61.70" r="2.90" fill="#CB181D" fill-opacity="0.70"/>
<circle cx="633.30" cy="61.70" r="2.90" fill="#CB181D" fill-opacity="0.70"/>
<circle cx="626.20" cy="65.80" r="2.90" fill="#CB181D" fill-opacity="0.70"/>
<circle cx="636.90" cy="66.30" r="2.90" fill="#CB181D" fill-opacity="0.70"/>
<circle cx="639.10" cy="64.90" r="2.90" fill="#CB181D" fill-opacity="0.70"/>
<circle cx="640.50" cy="64.00" r="2.90" fill="#CB181D" fill-opacity="0.70"/>
<circle cx="629.40" cy="73.30" r="2.90" fill="#CB181D" fill-opacity="0.70"/>
<circle cx="635.10" cy="79.60" r="2.90" fill="#CB181D" fill-opacity="0.70"/>
<circle cx="639.60" cy="77.80" r="2.90" fill="#CB181D" fill-opacity="0.70"/>
<circle cx="643.20" cy="77.80" r="2.90" fill="#CB181D" fill-opacity="0.70"/>
<circle cx="642.90" cy="82.80" r="2.90" fill="#CB181D" fill-opacity="0.70"/>
<circle cx="622.60" cy="86.10" r="2.90" fill="#CB181D" fill-opacity="0.70"/>
<circle cx="627.10" cy="88.60" r="2.90" fill="#CB181D" fill-opacity="0.70"/>
<circle cx="636.00" cy="92.60" r="2.90" fill="#CB181D" fill-opacity="0.70"/>
<circle cx="631.50" cy="97.10" r="2.90" fill="#CB181D" fill-opacity="0.70"/>
<circle cx="636.00" cy="97.60" r="2.90" fill="#CB181D" fill-opacity="0.70"/>
<circle cx="640.90" cy="97.60" r="2.90" fill="#CB181D" fill-opacity="0.70"/>
<circle cx="622.20" cy="101.20" r="2.90" fill="#CB181D" fill-opacity="0.70"/>
<circle cx="626.20" cy="100.60" r="2.90" fill="#CB181D" fill-opacity="0.70"/>
<circle cx="628.00" cy="100.10" r="2.90" fill="#CB181D" fill-opacity="0.70"/>
<circle cx="623.50" cy="111.40" r="2.90" fill="#CB181D" fill-opacity="0.70"/>
<circle cx="629.40" cy="117.30" r="2.90" fill="#CB181D" fill-opacity="0.70"/>
<circle cx="632.40" cy="116.80" r="2.90" fill="#CB181D" fill-opacity="0.70"/>
<circle cx="636.00" cy="115.50" r="2.90" fill="#CB181D" fill-opacity="0.70"/>
<circle cx="640.50" cy="114.10" r="2.90" fill="#CB181D" fill-opacity="0.70"/>
<circle cx="640.20" cy="121.30" r="2.90" fill="#CB181D" fill-opacity="0.70"/>
<circle cx="624.70" cy="122.20" r="2.90" fill="#CB181D" fill-opacity="0.70"/>
<circle cx="623.50" cy="128.10" r="2.90" fill="#CB181D" fill-opacity="0.70"/>
<circle cx="630.10" cy="143.70" r="2.90" fill="#CB181D" fill-opacity="0.70"/>
<g stroke="#000" stroke-width="1.5" fill="none">
<line x1="464.00" y1="75.70" x2="477.60" y2="75.70"/>
<line x1="464.00" y1="83.90" x2="477.60" y2="83.90"/>
<line x1="470.80" y1="75.70" x2="470.80" y2="83.90"/>
</g>
<path d="M470.80,76.90 L473.70,79.80 L470.80,82.70 L467.90,79.80 Z" fill="#000"/>
<g stroke="#000" stroke-width="1.5" fill="none">
<line x1="518.20" y1="71.60" x2="531.80" y2="71.60"/>
<line x1="518.20" y1="80.00" x2="531.80" y2="80.00"/>
<line x1="525.00" y1="71.60" x2="525.00" y2="80.00"/>
</g>
<path d="M525.00,72.70 L527.90,75.60 L525.00,78.50 L522.10,75.60 Z" fill="#000"/>
<g stroke="#000" stroke-width="1.5" fill="none">
<line x1="572.30" y1="77.90" x2="585.90" y2="77.90"/>
<line x1="572.30" y1="85.90" x2="585.90" y2="85.90"/>
<line x1="579.10" y1="77.90" x2="579.10" y2="85.90"/>
</g>
<path d="M579.10,79.30 L582.00,82.20 L579.10,85.10 L576.20,82.20 Z" fill="#000"/>
<g stroke="#000" stroke-width="1.5" fill="none">
<line x1="626.30" y1="84.00" x2="639.90" y2="84.00"/>
<line x1="626.30" y1="92.60" x2="639.90" y2="92.60"/>
<line x1="633.10" y1="84.00" x2="633.10" y2="92.60"/>
</g>
<path d="M633.10,85.60 L636.00,88.50 L633.10,91.40 L630.20,88.50 Z" fill="#000"/>
<path d="M470.80,78.96 L473.55,78.76 L476.30,78.57 L479.05,78.40 L481.80,78.24 L484.55,78.09 L487.31,77.95 L490.06,77.83 L492.81,77.72 L495.56,77.62 L498.31,77.53 L501.06,77.46 L503.81,77.40 L506.56,77.36 L509.31,77.32 L512.06,77.30 L514.81,77.29 L517.56,77.30 L520.32,77.31 L523.07,77.34 L525.82,77.39 L528.57,77.44 L531.32,77.51 L534.07,77.59 L536.82,77.68 L539.57,77.79 L542.32,77.91 L545.07,78.04 L547.82,78.19 L550.57,78.35 L553.33,78.52 L556.08,78.70 L558.83,78.90 L561.58,79.10 L564.33,79.33 L567.08,79.56 L569.83,79.81 L572.58,80.07 L575.33,80.34 L578.08,80.63 L580.83,80.93 L583.58,81.24 L586.34,81.56 L589.09,81.90 L591.84,82.25 L594.59,82.61 L597.34,82.99 L600.09,83.37 L602.84,83.77 L605.59,84.19 L608.34,84.61 L611.09,85.05 L613.84,85.51 L616.59,85.97 L619.35,86.45 L622.10,86.94 L624.85,87.44 L627.60,87.96 L630.35,88.49 L633.10,89.03" fill="none" stroke="#ffffff" stroke-opacity="0.7" stroke-width="3.2"/>
<path d="M470.80,78.96 L473.55,78.76 L476.30,78.57 L479.05,78.40 L481.80,78.24 L484.55,78.09 L487.31,77.95 L490.06,77.83 L492.81,77.72 L495.56,77.62 L498.31,77.53 L501.06,77.46 L503.81,77.40 L506.56,77.36 L509.31,77.32 L512.06,77.30 L514.81,77.29 L517.56,77.30 L520.32,77.31 L523.07,77.34 L525.82,77.39 L528.57,77.44 L531.32,77.51 L534.07,77.59 L536.82,77.68 L539.57,77.79 L542.32,77.91 L545.07,78.04 L547.82,78.19 L550.57,78.35 L553.33,78.52 L556.08,78.70 L558.83,78.90 L561.58,79.10 L564.33,79.33 L567.08,79.56 L569.83,79.81 L572.58,80.07 L575.33,80.34 L578.08,80.63 L580.83,80.93 L583.58,81.24 L586.34,81.56 L589.09,81.90 L591.84,82.25 L594.59,82.61 L597.34,82.99 L600.09,83.37 L602.84,83.77 L605.59,84.19 L608.34,84.61 L611.09,85.05 L613.84,85.51 L616.59,85.97 L619.35,86.45 L622.10,86.94 L624.85,87.44 L627.60,87.96 L630.35,88.49 L633.10,89.03" fill="none" stroke="#bebebe" stroke-width="1.3"/>
<line x1="438.40" y1="216.70" x2="438.40" y2="357.50" stroke="#000" stroke-width="1.4"/>
<line x1="437.70" y1="356.80" x2="665.60" y2="356.80" stroke="#000" stroke-width="1.4"/>
<line x1="435.40" y1="342.30" x2="438.40" y2="342.30" stroke="#222" stroke-width="1.25"/>
<text x="433.10" y="346.10" font-size="10.80" text-anchor="end" font-weight="normal" fill="#222222" style="color:#222222" >0</text>
<line x1="435.40" y1="294.90" x2="438.40" y2="294.90" stroke="#222" stroke-width="1.25"/>
<text x="433.10" y="298.70" font-size="10.80" text-anchor="end" font-weight="normal" fill="#222222" style="color:#222222" >5</text>
<line x1="435.40" y1="247.50" x2="438.40" y2="247.50" stroke="#222" stroke-width="1.25"/>
<text x="433.10" y="251.30" font-size="10.80" text-anchor="end" font-weight="normal" fill="#222222" style="color:#222222" >10</text>
<line x1="467.90" y1="356.80" x2="467.90" y2="359.80" stroke="#222" stroke-width="1.25"/>
<text x="467.90" y="370.70" font-size="10.80" text-anchor="middle" font-weight="normal" fill="#222222" style="color:#222222" >much lower</text>
<line x1="496.10" y1="356.80" x2="496.10" y2="359.80" stroke="#222" stroke-width="1.25"/>
<line x1="524.30" y1="356.80" x2="524.30" y2="359.80" stroke="#222" stroke-width="1.25"/>
<line x1="552.50" y1="356.80" x2="552.50" y2="359.80" stroke="#222" stroke-width="1.25"/>
<text x="552.50" y="370.70" font-size="10.80" text-anchor="middle" font-weight="normal" fill="#222222" style="color:#222222" >match</text>
<line x1="580.70" y1="356.80" x2="580.70" y2="359.80" stroke="#222" stroke-width="1.25"/>
<line x1="608.90" y1="356.80" x2="608.90" y2="359.80" stroke="#222" stroke-width="1.25"/>
<line x1="637.10" y1="356.80" x2="637.10" y2="359.80" stroke="#222" stroke-width="1.25"/>
<text x="637.10" y="370.70" font-size="10.80" text-anchor="middle" font-weight="normal" fill="#222222" style="color:#222222" >much higher</text>
<text x="552.00" y="386.20" font-size="13.20" text-anchor="middle" font-weight="normal" fill="#000" style="color:#000" >Subjective task difficulty</text>
<text x="0" y="0" font-size="13.00" text-anchor="middle" transform="translate(410.7,287.75) rotate(-90)">p300 (µ<tspan dx="0.7">V</tspan>)</text>
<circle cx="466.20" cy="247.30" r="2.90" fill="#FEE5D9" fill-opacity="0.70"/>
<circle cx="469.60" cy="270.40" r="2.90" fill="#FEE5D9" fill-opacity="0.70"/>
<circle cx="468.50" cy="305.10" r="2.90" fill="#FEE5D9" fill-opacity="0.70"/>
<circle cx="467.30" cy="309.70" r="2.90" fill="#FEE5D9" fill-opacity="0.70"/>
<circle cx="470.80" cy="317.80" r="2.90" fill="#FEE5D9" fill-opacity="0.70"/>
<circle cx="493.90" cy="247.30" r="2.90" fill="#FCAE91" fill-opacity="0.70"/>
<circle cx="491.10" cy="250.80" r="2.90" fill="#FEE5D9" fill-opacity="0.70"/>
<circle cx="499.70" cy="252.60" r="2.90" fill="#FEE5D9" fill-opacity="0.70"/>
<circle cx="495.00" cy="267.00" r="2.90" fill="#FEE5D9" fill-opacity="0.70"/>
<circle cx="499.70" cy="277.30" r="2.90" fill="#FCAE91" fill-opacity="0.70"/>
<circle cx="490.40" cy="282.00" r="2.90" fill="#FEE5D9" fill-opacity="0.70"/>
<circle cx="495.00" cy="295.80" r="2.90" fill="#FB6A4A" fill-opacity="0.70"/>
<circle cx="493.40" cy="299.30" r="2.90" fill="#FCAE91" fill-opacity="0.70"/>
<circle cx="493.90" cy="306.20" r="2.90" fill="#FEE5D9" fill-opacity="0.70"/>
<circle cx="495.00" cy="312.00" r="2.90" fill="#FEE5D9" fill-opacity="0.70"/>
<circle cx="527.60" cy="229.20" r="2.90" fill="#FCAE91" fill-opacity="0.70"/>
<circle cx="520.70" cy="235.70" r="2.90" fill="#FB6A4A" fill-opacity="0.70"/>
<circle cx="523.00" cy="241.20" r="2.90" fill="#FEE5D9" fill-opacity="0.70"/>
<circle cx="525.80" cy="246.60" r="2.90" fill="#FCAE91" fill-opacity="0.70"/>
<circle cx="523.00" cy="252.80" r="2.90" fill="#FCAE91" fill-opacity="0.70"/>
<circle cx="526.20" cy="260.40" r="2.90" fill="#FEE5D9" fill-opacity="0.70"/>
<circle cx="526.90" cy="263.40" r="2.90" fill="#CB181D" fill-opacity="0.70"/>
<circle cx="523.50" cy="269.70" r="2.90" fill="#FEE5D9" fill-opacity="0.70"/>
<circle cx="529.20" cy="279.60" r="2.90" fill="#FB6A4A" fill-opacity="0.70"/>
<circle cx="518.90" cy="283.50" r="2.90" fill="#FEE5D9" fill-opacity="0.70"/>
<circle cx="520.40" cy="291.50" r="2.90" fill="#FCAE91" fill-opacity="0.70"/>
<circle cx="524.70" cy="299.20" r="2.90" fill="#FEE5D9" fill-opacity="0.70"/>
<circle cx="523.80" cy="304.60" r="2.90" fill="#FB6A4A" fill-opacity="0.70"/>
<circle cx="522.20" cy="307.70" r="2.90" fill="#FCAE91" fill-opacity="0.70"/>
<circle cx="529.30" cy="309.70" r="2.90" fill="#FCAE91" fill-opacity="0.70"/>
<circle cx="519.60" cy="314.30" r="2.90" fill="#FB6A4A" fill-opacity="0.70"/>
<circle cx="519.60" cy="322.60" r="2.90" fill="#FB6A4A" fill-opacity="0.70"/>
<circle cx="552.30" cy="223.50" r="2.90" fill="#FB6A4A" fill-opacity="0.70"/>
<circle cx="550.70" cy="238.00" r="2.90" fill="#CB181D" fill-opacity="0.70"/>
<circle cx="547.70" cy="252.30" r="2.90" fill="#FEE5D9" fill-opacity="0.70"/>
<circle cx="553.00" cy="254.20" r="2.90" fill="#FB6A4A" fill-opacity="0.70"/>
<circle cx="546.60" cy="265.00" r="2.90" fill="#FB6A4A" fill-opacity="0.70"/>
<circle cx="550.00" cy="263.90" r="2.90" fill="#FB6A4A" fill-opacity="0.70"/>
<circle cx="552.30" cy="265.00" r="2.90" fill="#FCAE91" fill-opacity="0.70"/>
<circle cx="547.70" cy="272.00" r="2.90" fill="#FCAE91" fill-opacity="0.70"/>
<circle cx="557.00" cy="272.00" r="2.90" fill="#FEE5D9" fill-opacity="0.70"/>
<circle cx="557.70" cy="279.60" r="2.90" fill="#FEE5D9" fill-opacity="0.70"/>
<circle cx="547.80" cy="290.80" r="2.90" fill="#CB181D" fill-opacity="0.70"/>
<circle cx="553.00" cy="295.40" r="2.90" fill="#CB181D" fill-opacity="0.70"/>
<circle cx="557.00" cy="292.80" r="2.90" fill="#FB6A4A" fill-opacity="0.70"/>
<circle cx="557.00" cy="301.50" r="2.90" fill="#FCAE91" fill-opacity="0.70"/>
<circle cx="549.30" cy="306.60" r="2.90" fill="#CB181D" fill-opacity="0.70"/>
<circle cx="557.30" cy="313.80" r="2.90" fill="#FEE5D9" fill-opacity="0.70"/>
<circle cx="546.80" cy="318.90" r="2.90" fill="#FB6A4A" fill-opacity="0.70"/>
<circle cx="552.40" cy="325.10" r="2.90" fill="#FCAE91" fill-opacity="0.70"/>
<circle cx="546.80" cy="327.20" r="2.90" fill="#CB181D" fill-opacity="0.70"/>
<circle cx="549.60" cy="331.50" r="2.90" fill="#FEE5D9" fill-opacity="0.70"/>
<circle cx="556.10" cy="330.80" r="2.90" fill="#FEE5D9" fill-opacity="0.70"/>
<circle cx="553.90" cy="345.10" r="2.90" fill="#FCAE91" fill-opacity="0.70"/>
<circle cx="577.50" cy="236.90" r="2.90" fill="#FCAE91" fill-opacity="0.70"/>
<circle cx="581.30" cy="251.50" r="2.90" fill="#FCAE91" fill-opacity="0.70"/>
<circle cx="574.60" cy="256.20" r="2.90" fill="#FCAE91" fill-opacity="0.70"/>
<circle cx="585.20" cy="255.80" r="2.90" fill="#FB6A4A" fill-opacity="0.70"/>
<circle cx="578.50" cy="261.50" r="2.90" fill="#CB181D" fill-opacity="0.70"/>
<circle cx="575.60" cy="268.30" r="2.90" fill="#FB6A4A" fill-opacity="0.70"/>
<circle cx="583.80" cy="272.10" r="2.90" fill="#FCAE91" fill-opacity="0.70"/>
<circle cx="577.50" cy="275.40" r="2.90" fill="#FCAE91" fill-opacity="0.70"/>
<circle cx="576.90" cy="279.80" r="2.90" fill="#FB6A4A" fill-opacity="0.70"/>
<circle cx="582.70" cy="280.40" r="2.90" fill="#FB6A4A" fill-opacity="0.70"/>
<circle cx="575.80" cy="290.00" r="2.90" fill="#FCAE91" fill-opacity="0.70"/>
<circle cx="584.70" cy="289.50" r="2.90" fill="#FCAE91" fill-opacity="0.70"/>
<circle cx="576.70" cy="299.00" r="2.90" fill="#CB181D" fill-opacity="0.70"/>
<circle cx="580.80" cy="300.80" r="2.90" fill="#CB181D" fill-opacity="0.70"/>
<circle cx="578.50" cy="304.40" r="2.90" fill="#FB6A4A" fill-opacity="0.70"/>
<circle cx="582.60" cy="306.20" r="2.90" fill="#FCAE91" fill-opacity="0.70"/>
<circle cx="579.00" cy="309.20" r="2.90" fill="#FCAE91" fill-opacity="0.70"/>
<circle cx="585.10" cy="312.80" r="2.90" fill="#FB6A4A" fill-opacity="0.70"/>
<circle cx="583.30" cy="317.90" r="2.90" fill="#FCAE91" fill-opacity="0.70"/>
<circle cx="576.70" cy="327.70" r="2.90" fill="#FCAE91" fill-opacity="0.70"/>
<circle cx="576.10" cy="332.60" r="2.90" fill="#FCAE91" fill-opacity="0.70"/>
<circle cx="610.20" cy="265.40" r="2.90" fill="#CB181D" fill-opacity="0.70"/>
<circle cx="602.50" cy="267.70" r="2.90" fill="#CB181D" fill-opacity="0.70"/>
<circle cx="604.40" cy="272.10" r="2.90" fill="#CB181D" fill-opacity="0.70"/>
<circle cx="611.20" cy="273.10" r="2.90" fill="#FCAE91" fill-opacity="0.70"/>
<circle cx="613.50" cy="278.50" r="2.90" fill="#FB6A4A" fill-opacity="0.70"/>
<circle cx="605.80" cy="279.80" r="2.90" fill="#CB181D" fill-opacity="0.70"/>
<circle cx="602.50" cy="281.20" r="2.90" fill="#FB6A4A" fill-opacity="0.70"/>
<circle cx="604.40" cy="284.20" r="2.90" fill="#CB181D" fill-opacity="0.70"/>
<circle cx="607.70" cy="286.20" r="2.90" fill="#FB6A4A" fill-opacity="0.70"/>
<circle cx="605.40" cy="285.90" r="2.90" fill="#CB181D" fill-opacity="0.70"/>
<circle cx="604.10" cy="292.20" r="2.90" fill="#CB181D" fill-opacity="0.70"/>
<circle cx="605.40" cy="303.90" r="2.90" fill="#CB181D" fill-opacity="0.70"/>
<circle cx="613.50" cy="303.90" r="2.90" fill="#CB181D" fill-opacity="0.70"/>
<circle cx="604.90" cy="307.40" r="2.90" fill="#CB181D" fill-opacity="0.70"/>
<circle cx="608.10" cy="313.70" r="2.90" fill="#FB6A4A" fill-opacity="0.70"/>
<circle cx="612.60" cy="311.90" r="2.90" fill="#FCAE91" fill-opacity="0.70"/>
<circle cx="606.30" cy="317.70" r="2.90" fill="#CB181D" fill-opacity="0.70"/>
<circle cx="608.10" cy="320.90" r="2.90" fill="#CB181D" fill-opacity="0.70"/>
<circle cx="604.10" cy="323.10" r="2.90" fill="#CB181D" fill-opacity="0.70"/>
<circle cx="607.20" cy="328.40" r="2.90" fill="#CB181D" fill-opacity="0.70"/>
<circle cx="613.10" cy="334.40" r="2.90" fill="#CB181D" fill-opacity="0.70"/>
<circle cx="631.30" cy="271.20" r="2.90" fill="#CB181D" fill-opacity="0.70"/>
<circle cx="637.70" cy="286.30" r="2.90" fill="#CB181D" fill-opacity="0.70"/>
<circle cx="635.90" cy="303.90" r="2.90" fill="#CB181D" fill-opacity="0.70"/>
<circle cx="635.00" cy="323.60" r="2.90" fill="#CB181D" fill-opacity="0.70"/>
<circle cx="638.60" cy="350.50" r="2.90" fill="#CB181D" fill-opacity="0.70"/>
<g stroke="#000" stroke-width="1.5" fill="none">
<line x1="464.60" y1="284.90" x2="471.40" y2="284.90"/>
<line x1="464.60" y1="299.20" x2="471.40" y2="299.20"/>
<line x1="468.00" y1="284.90" x2="468.00" y2="299.20"/>
</g>
<path d="M468.00,289.30 L470.90,292.20 L468.00,295.10 L465.10,292.20 Z" fill="#000"/>
<g stroke="#000" stroke-width="1.5" fill="none">
<line x1="492.60" y1="279.30" x2="499.40" y2="279.30"/>
<line x1="492.60" y1="291.00" x2="499.40" y2="291.00"/>
<line x1="496.00" y1="279.30" x2="496.00" y2="291.00"/>
</g>
<path d="M496.00,283.00 L498.90,285.90 L496.00,288.80 L493.10,285.90 Z" fill="#000"/>
<g stroke="#000" stroke-width="1.5" fill="none">
<line x1="520.80" y1="272.50" x2="527.60" y2="272.50"/>
<line x1="520.80" y1="283.80" x2="527.60" y2="283.80"/>
<line x1="524.20" y1="272.50" x2="524.20" y2="283.80"/>
</g>
<path d="M524.20,275.50 L527.10,278.40 L524.20,281.30 L521.30,278.40 Z" fill="#000"/>
<g stroke="#000" stroke-width="1.5" fill="none">
<line x1="549.00" y1="280.90" x2="555.80" y2="280.90"/>
<line x1="549.00" y1="288.20" x2="555.80" y2="288.20"/>
<line x1="552.40" y1="280.90" x2="552.40" y2="288.20"/>
</g>
<path d="M552.40,282.10 L555.30,285.00 L552.40,287.90 L549.50,285.00 Z" fill="#000"/>
<g stroke="#000" stroke-width="1.5" fill="none">
<line x1="576.90" y1="283.40" x2="583.70" y2="283.40"/>
<line x1="576.90" y1="292.00" x2="583.70" y2="292.00"/>
<line x1="580.30" y1="283.40" x2="580.30" y2="292.00"/>
</g>
<path d="M580.30,284.40 L583.20,287.30 L580.30,290.20 L577.40,287.30 Z" fill="#000"/>
<g stroke="#000" stroke-width="1.5" fill="none">
<line x1="605.00" y1="292.60" x2="611.80" y2="292.60"/>
<line x1="605.00" y1="300.80" x2="611.80" y2="300.80"/>
<line x1="608.40" y1="292.60" x2="608.40" y2="300.80"/>
</g>
<path d="M608.40,294.20 L611.30,297.10 L608.40,300.00 L605.50,297.10 Z" fill="#000"/>
<g stroke="#000" stroke-width="1.5" fill="none">
<line x1="633.10" y1="295.50" x2="639.90" y2="295.50"/>
<line x1="633.10" y1="318.20" x2="639.90" y2="318.20"/>
<line x1="636.50" y1="295.50" x2="636.50" y2="318.20"/>
</g>
<path d="M636.50,304.10 L639.40,307.00 L636.50,309.90 L633.60,307.00 Z" fill="#000"/>
<path d="M468.00,288.58 L470.86,287.99 L473.71,287.42 L476.57,286.89 L479.42,286.38 L482.28,285.91 L485.14,285.47 L487.99,285.05 L490.85,284.67 L493.70,284.32 L496.56,284.00 L499.42,283.70 L502.27,283.44 L505.13,283.21 L507.98,283.00 L510.84,282.83 L513.69,282.69 L516.55,282.58 L519.41,282.49 L522.26,282.44 L525.12,282.42 L527.97,282.43 L530.83,282.47 L533.69,282.53 L536.54,282.63 L539.40,282.76 L542.25,282.92 L545.11,283.11 L547.97,283.32 L550.82,283.57 L553.68,283.85 L556.53,284.16 L559.39,284.50 L562.25,284.87 L565.10,285.27 L567.96,285.69 L570.81,286.15 L573.67,286.64 L576.53,287.16 L579.38,287.71 L582.24,288.29 L585.09,288.90 L587.95,289.54 L590.81,290.21 L593.66,290.91 L596.52,291.64 L599.37,292.40 L602.23,293.19 L605.08,294.01 L607.94,294.86 L610.80,295.74 L613.65,296.65 L616.51,297.59 L619.36,298.56 L622.22,299.56 L625.08,300.59 L627.93,301.65 L630.79,302.74 L633.64,303.86 L636.50,305.01" fill="none" stroke="#ffffff" stroke-opacity="0.7" stroke-width="3.2"/>
<path d="M468.00,288.58 L470.86,287.99 L473.71,287.42 L476.57,286.89 L479.42,286.38 L482.28,285.91 L485.14,285.47 L487.99,285.05 L490.85,284.67 L493.70,284.32 L496.56,284.00 L499.42,283.70 L502.27,283.44 L505.13,283.21 L507.98,283.00 L510.84,282.83 L513.69,282.69 L516.55,282.58 L519.41,282.49 L522.26,282.44 L525.12,282.42 L527.97,282.43 L530.83,282.47 L533.69,282.53 L536.54,282.63 L539.40,282.76 L542.25,282.92 L545.11,283.11 L547.97,283.32 L550.82,283.57 L553.68,283.85 L556.53,284.16 L559.39,284.50 L562.25,284.87 L565.10,285.27 L567.96,285.69 L570.81,286.15 L573.67,286.64 L576.53,287.16 L579.38,287.71 L582.24,288.29 L585.09,288.90 L587.95,289.54 L590.81,290.21 L593.66,290.91 L596.52,291.64 L599.37,292.40 L602.23,293.19 L605.08,294.01 L607.94,294.86 L610.80,295.74 L613.65,296.65 L616.51,297.59 L619.36,298.56 L622.22,299.56 L625.08,300.59 L627.93,301.65 L630.79,302.74 L633.64,303.86 L636.50,305.01" fill="none" stroke="#bebebe" stroke-width="1.3"/>
</svg></body></html>
